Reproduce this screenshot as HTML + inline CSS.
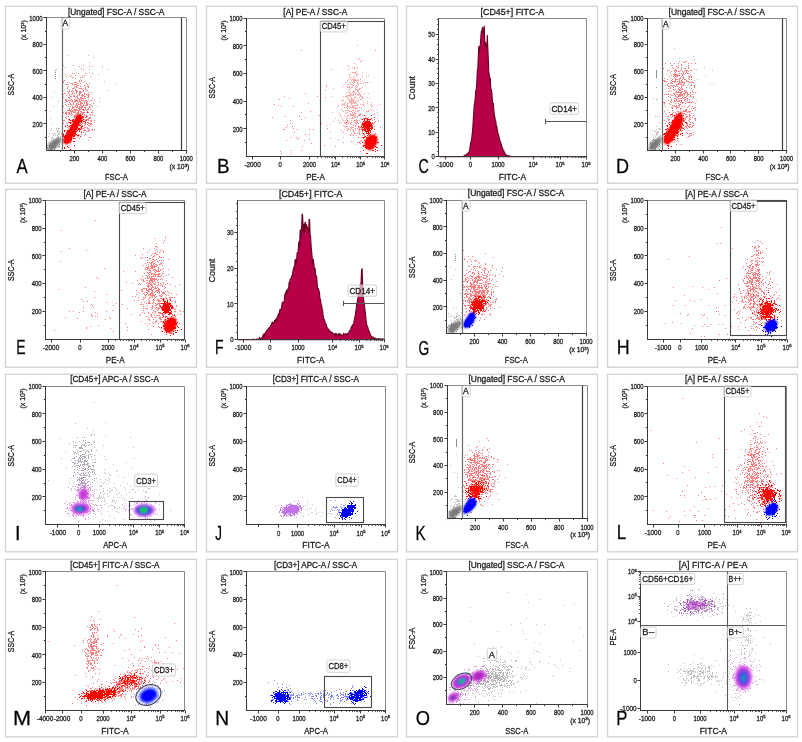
<!DOCTYPE html><html><head><meta charset="utf-8"><style>html,body{margin:0;padding:0;background:#fff;width:802px;height:742px;overflow:hidden}svg{display:block}</style></head><body><svg width="802" height="742" viewBox="0 0 802 742" font-family="Liberation Sans, Arial, sans-serif" fill="#1a1a1a"><style>text{stroke:#1a1a1a;stroke-width:.28px}</style><defs><filter id="bl06" filterUnits="userSpaceOnUse" x="0" y="0" width="802" height="742"><feGaussianBlur stdDeviation="0.8"/></filter><filter id="bl05" filterUnits="userSpaceOnUse" x="0" y="0" width="802" height="742"><feGaussianBlur stdDeviation="0.8"/></filter><filter id="bl04" filterUnits="userSpaceOnUse" x="0" y="0" width="802" height="742"><feGaussianBlur stdDeviation="0.4"/></filter></defs><rect x="5.5" y="6.3" width="191" height="177" fill="none" stroke="#d4d4d4" stroke-width="1.4"/><rect x="206.5" y="6.3" width="191" height="177" fill="none" stroke="#d4d4d4" stroke-width="1.4"/><rect x="406.5" y="6.3" width="191" height="177" fill="none" stroke="#d4d4d4" stroke-width="1.4"/><rect x="607.5" y="6.3" width="190" height="177" fill="none" stroke="#d4d4d4" stroke-width="1.4"/><rect x="5.5" y="189.3" width="191" height="178" fill="none" stroke="#d4d4d4" stroke-width="1.4"/><rect x="206.5" y="189.3" width="191" height="178" fill="none" stroke="#d4d4d4" stroke-width="1.4"/><rect x="406.5" y="189.3" width="191" height="178" fill="none" stroke="#d4d4d4" stroke-width="1.4"/><rect x="607.5" y="189.3" width="190" height="178" fill="none" stroke="#d4d4d4" stroke-width="1.4"/><rect x="5.5" y="374.3" width="191" height="177.5" fill="none" stroke="#d4d4d4" stroke-width="1.4"/><rect x="206.5" y="374.3" width="191" height="177.5" fill="none" stroke="#d4d4d4" stroke-width="1.4"/><rect x="406.5" y="374.3" width="191" height="177.5" fill="none" stroke="#d4d4d4" stroke-width="1.4"/><rect x="607.5" y="374.3" width="190" height="177.5" fill="none" stroke="#d4d4d4" stroke-width="1.4"/><rect x="5.5" y="559.3" width="191" height="177.5" fill="none" stroke="#d4d4d4" stroke-width="1.4"/><rect x="206.5" y="559.3" width="191" height="177.5" fill="none" stroke="#d4d4d4" stroke-width="1.4"/><rect x="406.5" y="559.3" width="191" height="177.5" fill="none" stroke="#d4d4d4" stroke-width="1.4"/><rect x="607.5" y="559.3" width="190" height="177.5" fill="none" stroke="#d4d4d4" stroke-width="1.4"/><path d="M73 65h1m9 0h1m-5 1h1m9 0h1m2 0h1m-28 1h1m15 1h1m1 1h1m-12 4h1m1 0h1m3 0h1m6 0h1m6 0h1m-28 1h1m5 1h1m3 0h1m8 0h1m-19 1h1m3 0h1m11 0h1m7 0h1m-18 1h1m6 0h1m1 0h1m-19 3h1m14 0h1m1 0h1m-19 1h1m15 0h1m1 0h1m2 0h1m-22 1h1m3 0h1m6 0h3m-7 1h1m1 0h1m4 0h1m2 0h1m5 0h1m2 0h1m-24 1h2m4 0h1m1 0h3m10 0h1m-11 1h2m5 0h1m-17 1h1m6 0h2m3 0h1m3 0h1m2 0h2m-22 1h1m6 0h1m1 0h1m8 0h1m2 0h1m-22 1h1m4 0h2m5 0h3m3 0h1m-4 1h1m2 0h1m-17 1h1m2 0h1m2 0h2m6 0h1m2 0h2m-21 1h1m1 0h1m1 0h1m1 0h1m2 0h2m1 0h2m2 0h1m-16 1h1m3 0h1m3 0h1m2 0h3m6 0h1m2 0h1m-28 1h2m2 0h1m3 0h1m1 0h1m1 0h1m2 0h2m3 0h1m-22 1h1m5 0h1m1 0h1m1 0h1m5 0h1m2 0h1m1 0h1m1 0h1m1 0h2m-24 1h1m2 0h1m4 0h1m2 0h1m1 0h1m1 0h3m3 0h2m-19 1h2m1 0h2m1 0h1m5 0h1m1 0h2m2 0h1m-26 1h1m4 0h2m5 0h1m1 0h1m2 0h2m5 0h2m-20 1h1m7 0h2m1 0h6m6 0h1m-28 1h2m4 0h1m2 0h1m1 0h1m2 0h1m1 0h1m6 0h1m-24 1h2m1 0h3m1 0h1m2 0h3m1 0h1m1 0h3m1 0h2m3 0h2m2 0h1m-29 1h2m3 0h2m1 0h4m1 0h2m3 0h1m1 0h2m-23 1h1m3 0h1m3 0h1m4 0h1m1 0h2m2 0h1m1 0h1m-17 1h1m2 0h1m2 0h2m2 0h3m1 0h1m1 0h2m5 0h1m-29 1h1m2 0h1m1 0h2m1 0h1m2 0h1m1 0h3m2 0h1m2 0h2m1 0h2m-25 1h1m8 0h3m2 0h2m1 0h1m1 0h2m4 0h1m-29 1h1m4 0h1m1 0h1m1 0h1m2 0h1m1 0h1m1 0h1m1 0h2m6 0h1m2 0h1m-21 1h3m1 0h2m1 0h4m1 0h2m3 0h2m-22 1h1m2 0h1m5 0h2m1 0h1m3 0h1m2 0h1m-20 1h1m1 0h1m1 0h4m2 0h2m1 0h2m1 0h1m1 0h2m1 0h1m-24 1h4m1 0h1m1 0h6m3 0h2m1 0h1m5 0h1m-23 1h4m1 0h1m2 0h1m1 0h2m5 0h1m-25 1h1m1 0h2m1 0h2m1 0h1m1 0h3m1 0h2m2 0h4m3 0h1m2 0h2m-28 1h2m1 0h2m1 0h1m4 0h3m1 0h1m1 0h2m-18 1h1m2 0h2m1 0h1m2 0h1m1 0h4m1 0h1m1 0h1m5 0h1m1 0h1m-22 1h1m2 0h4m1 0h1m1 0h1m2 0h1m1 0h1m3 0h1m3 0h1m-29 1h1m1 0h1m4 0h4m2 0h2m1 0h2m3 0h1m-23 1h1m8 0h1m4 0h1m1 0h2m2 0h2m2 0h2m-25 1h1m9 0h1m1 0h3m1 0h1m5 0h3m-23 1h1m3 0h1m8 0h1m1 0h2m1 0h3m-26 1h2m4 0h1m1 0h3m4 0h2m5 0h2m1 0h1m1 0h2m2 0h1m-23 1h1m1 0h2m1 0h2m1 0h2m1 0h3m5 0h1m-26 1h1m1 0h1m2 0h1m3 0h1m2 0h1m2 0h2m4 0h2m5 0h1m-32 1h1m3 0h1m5 0h2m3 0h1m1 0h1m1 0h1m1 0h2m2 0h4m-20 1h2m1 0h2m1 0h2m1 0h1m3 0h1m1 0h1m2 0h2m-27 1h1m11 0h1m2 0h1m1 0h1m1 0h1m3 0h2m-22 1h1m4 0h5m4 0h1m7 0h1m-24 1h1m2 0h1m6 0h1m2 0h1m3 0h2m1 0h1m-18 1h1m6 0h1m2 0h4m3 0h2m-15 1h1m3 0h1m2 0h1m2 0h1m4 0h1m2 0h1m1 0h1m-30 1h1m2 0h1m6 0h1m1 0h1m1 0h1m3 0h3m2 0h2m2 0h1m-29 1h1m8 0h1m7 0h1m5 0h2m-15 1h1m8 0h1m-21 1h1m4 0h1m3 0h1m1 0h1m10 0h1m-16 1h1m3 0h1m3 0h1m2 0h1m3 0h1m-12 1h2m3 0h1m4 0h1m-7 1h1m1 0h1m-4 1h1m11 0h2m-16 1h1m3 0h1m-9 2h1m16 0h1" stroke="#ff3030" stroke-opacity="0.62" transform="translate(0 .5)"/><path d="M67 55h1m20 0h1m4 2h1m-5 5h1m-27 3h1m38 1h1m-1 1h1m-28 2h1m13 0h1m17 0h1m-32 3h1m12 0h1m8 2h1m-27 3h1m2 1h1m4 1h1m23 2h1m-34 2h1m44 0h1m-53 1h1m9 1h1m13 0h1m-15 2h1m2 0h1m-4 1h1m8 0h1m-20 1h1m10 0h1m31 1h1m-28 1h1m-11 5h1m6 0h1m21 2h1m-11 3h1m9 0h1m-14 2h1m-3 2h1m2 0h1m9 1h1m-11 10h1" stroke="#9a9a9a" stroke-opacity="0.62" transform="translate(0 .5)"/><path d="M83 109h1m3 3h1m-8 3h1m1 1h1m3 0h1m-11 1h1m6 0h1m-5 1h2m-12 1h1m3 0h1m3 0h1m5 0h1m-14 1h1m1 0h1m8 0h2m3 0h1m-15 1h2m5 0h3m1 0h2m-16 1h2m4 0h1m2 0h1m2 0h1m3 0h1m-16 1h1m2 0h2m1 0h2m-6 1h3m1 0h1m1 0h1m-12 1h1m2 0h3m6 0h2m-16 1h1m3 0h1m1 0h6m4 0h2m-13 1h2m3 0h3m3 0h1m-12 1h2m1 0h3m2 0h2m-10 1h5m1 0h1m1 0h3m-17 1h1m2 0h5m1 0h2m2 0h1m-14 1h1m2 0h1m1 0h8m2 0h1m-14 1h1m1 0h2m1 0h1m1 0h3m5 0h1m-15 1h1m1 0h7m-13 1h1m3 0h1m1 0h1m1 0h1m3 0h2m-14 1h1m1 0h1m1 0h2m1 0h5m2 0h2m-16 1h4m1 0h3m2 0h2m5 0h1m-17 1h1m1 0h1m2 0h1m1 0h1m-1 1h1m1 0h2m-12 1h1m2 0h6m-5 1h1m1 0h1m1 0h1m-9 1h1m6 0h1m2 0h2m-11 1h1m3 0h1m1 0h1m3 3h1m-8 1h1m-4 1h1m3 0h1m-5 1h1m5 1h1" stroke="#ff0000" transform="translate(0 .5)"/><path d="M63.3 142.3L65.5 144.2L68.7 143.9L73.3 136.1L78.0 126.8L82.6 117.5L80.6 114.1L77.2 115.2L73.3 122.2L68.7 129.9L64.8 136.1Z" fill="#ff0000" filter="url(#bl05)"/><path d="M63.8 141.7L65.8 143.5L68.9 143.1L73.2 135.3L77.3 127.2L82.1 118.1L80.2 114.8L76.9 116.0L73.2 123.0L69.5 129.9L65.4 135.6Z" fill="#ff0000"/><path d="M56 69h1m2 7h1m-6 16h1m-4 5h1m6 4h1m-6 5h1m-4 5h1m-1 7h1m1 5h1m-2 5h1m4 0h1m1 0h2m-4 1h1m1 0h1m-8 1h1m5 0h1m-1 1h3m-1 1h1m-11 1h1m2 0h1m1 0h2m2 0h1m2 0h1m-9 1h1m4 0h2m1 0h1m-9 1h1m1 0h1m1 0h1m-10 1h1m9 0h1m1 0h1m-9 1h1m4 0h2m1 0h1m-10 1h1m4 0h1m1 0h1m1 0h1m-8 1h1m2 0h1m3 0h1m-8 1h1m2 0h2m-3 1h1m-1 1h1m2 0h1m-5 5h1" stroke="#9a9a9a" stroke-opacity="0.62" transform="translate(0 .5)"/><path d="M52 137h1m2 4h2m-4 1h2m2 0h1m-6 1h1m1 0h2m-6 1h3m1 0h2m3 0h1m-13 1h1m1 0h1m1 0h3m-5 1h7m2 0h2m-13 1h1m1 0h1m2 0h2m1 0h1m-9 1h1m2 0h1m1 0h1m1 0h1m-7 1h1m1 0h3m1 0h1m-2 1h1" stroke="#8c8c8c" transform="translate(0 .5)"/><path d="M48.0 150.0L48.5 143.5L53.0 140.0L58.5 137.5L61.0 138.0L61.0 142.0L56.5 147.5L52.5 150.0Z" fill="#787878" fill-opacity="0.95" filter="url(#bl06)"/><line x1="46.5" y1="17.5" x2="186.5" y2="17.5" stroke="#8a8a8a" stroke-width="1"/><line x1="186.5" y1="17.5" x2="186.5" y2="150.5" stroke="#8a8a8a" stroke-width="1"/><line x1="46.5" y1="17" x2="46.5" y2="151" stroke="#3a3a3a" stroke-width="1"/><line x1="46" y1="150.5" x2="187" y2="150.5" stroke="#3a3a3a" stroke-width="1"/><line x1="44.9" y1="137.5" x2="46.5" y2="137.5" stroke="#3a3a3a" stroke-width="1"/><line x1="43.5" y1="123.5" x2="46.5" y2="123.5" stroke="#3a3a3a" stroke-width="1"/><text transform="translate(42.50 126.76) translate(-9.90 0) scale(0.848 1)" font-size="7.0">200</text><line x1="44.9" y1="110.5" x2="46.5" y2="110.5" stroke="#3a3a3a" stroke-width="1"/><line x1="43.5" y1="97.5" x2="46.5" y2="97.5" stroke="#3a3a3a" stroke-width="1"/><text transform="translate(42.50 100.22) translate(-9.90 0) scale(0.848 1)" font-size="7.0">400</text><line x1="44.9" y1="84.5" x2="46.5" y2="84.5" stroke="#3a3a3a" stroke-width="1"/><line x1="43.5" y1="70.5" x2="46.5" y2="70.5" stroke="#3a3a3a" stroke-width="1"/><text transform="translate(42.50 73.68) translate(-9.90 0) scale(0.848 1)" font-size="7.0">600</text><line x1="44.9" y1="57.5" x2="46.5" y2="57.5" stroke="#3a3a3a" stroke-width="1"/><line x1="43.5" y1="44.5" x2="46.5" y2="44.5" stroke="#3a3a3a" stroke-width="1"/><text transform="translate(42.50 47.14) translate(-9.90 0) scale(0.848 1)" font-size="7.0">800</text><line x1="44.9" y1="31.5" x2="46.5" y2="31.5" stroke="#3a3a3a" stroke-width="1"/><line x1="43.5" y1="17.5" x2="46.5" y2="17.5" stroke="#3a3a3a" stroke-width="1"/><text transform="translate(42.50 20.60) translate(-13.20 0) scale(0.848 1)" font-size="7.0">1000</text><text x="25.9" y="30.3" font-size="7" text-anchor="middle" transform="rotate(-90 25.9 30.3)">(x 10<tspan font-size="4" dy="-2.2">3</tspan><tspan dy="2.2">)</tspan></text><line x1="60.5" y1="150.5" x2="60.5" y2="152.1" stroke="#3a3a3a" stroke-width="1"/><line x1="74.5" y1="150.5" x2="74.5" y2="153.5" stroke="#3a3a3a" stroke-width="1"/><text transform="translate(74.46 161.30) translate(-4.95 0) scale(0.848 1)" font-size="7.0">200</text><line x1="88.5" y1="150.5" x2="88.5" y2="152.1" stroke="#3a3a3a" stroke-width="1"/><line x1="102.5" y1="150.5" x2="102.5" y2="153.5" stroke="#3a3a3a" stroke-width="1"/><text transform="translate(102.42 161.30) translate(-4.95 0) scale(0.848 1)" font-size="7.0">400</text><line x1="116.5" y1="150.5" x2="116.5" y2="152.1" stroke="#3a3a3a" stroke-width="1"/><line x1="130.5" y1="150.5" x2="130.5" y2="153.5" stroke="#3a3a3a" stroke-width="1"/><text transform="translate(130.38 161.30) translate(-4.95 0) scale(0.848 1)" font-size="7.0">600</text><line x1="144.5" y1="150.5" x2="144.5" y2="152.1" stroke="#3a3a3a" stroke-width="1"/><line x1="158.5" y1="150.5" x2="158.5" y2="153.5" stroke="#3a3a3a" stroke-width="1"/><text transform="translate(158.34 161.30) translate(-4.95 0) scale(0.848 1)" font-size="7.0">800</text><line x1="172.5" y1="150.5" x2="172.5" y2="152.1" stroke="#3a3a3a" stroke-width="1"/><line x1="186.5" y1="150.5" x2="186.5" y2="153.5" stroke="#3a3a3a" stroke-width="1"/><text transform="translate(186.30 161.30) translate(-6.60 0) scale(0.848 1)" font-size="7.0">1000</text><text x="189.3" y="169" font-size="6.8" text-anchor="end">(x 10<tspan font-size="4.3" dy="-2.4">3</tspan><tspan dy="2.4">)</tspan></text><line x1="62.5" y1="17.5" x2="62.5" y2="150.5" stroke="#6a6a6a" stroke-width="1.2"/><rect x="61.1" y="18.2" width="8.6" height="10.8" fill="#fff" fill-opacity="0.6" stroke="#c8c8c8" stroke-width="0.8" rx="1.5"/><text transform="translate(62.60 26.40) translate(0.00 0) scale(1.000 1)" font-size="8.4">A</text><line x1="181.5" y1="17.5" x2="181.5" y2="150.5" stroke="#3a3a3a" stroke-width="1.2"/><text transform="translate(116.40 14.80) translate(-48.50 0) scale(1.004 1)" font-size="8.4">[Ungated] FSC-A / SSC-A</text><text transform="translate(14.30 84.65) rotate(-90) translate(-10.75 0) scale(0.733 1)" font-size="9.6">SSC-A</text><text transform="translate(116.40 180.00) translate(-11.50 0) scale(0.816 1)" font-size="9.4">FSC-A</text><text transform="translate(16.47 173.1) scale(0.845 1)" font-size="19.8" fill="#000" stroke="#000" stroke-width=".75">A</text><path d="M685 61h2m-4 1h2m-20 1h1m4 0h1m3 0h1m3 0h1m9 0h1m2 0h1m3 0h1m-15 1h1m-11 1h2m5 0h1m2 0h1m6 0h1m-13 1h1m-5 1h1m4 0h2m9 0h1m-26 1h1m9 0h1m7 0h1m2 0h2m2 0h1m-14 1h1m5 0h1m12 0h1m-28 1h1m1 0h1m4 0h3m3 0h1m4 0h3m2 0h2m-21 1h1m2 0h1m1 0h1m1 0h2m2 0h1m1 0h1m1 0h1m1 0h1m-14 1h1m7 0h1m2 0h1m-17 1h1m3 0h1m4 0h1m1 0h1m1 0h1m1 0h1m1 0h2m-16 1h5m4 0h2m-13 1h1m2 0h6m2 0h1m7 0h1m-22 1h1m3 0h1m1 0h3m3 0h1m6 0h2m1 0h1m-18 1h1m5 0h1m1 0h2m5 0h1m1 0h1m-28 1h1m5 0h1m4 0h1m3 0h2m2 0h1m4 0h1m-22 1h1m4 0h1m2 0h3m1 0h1m2 0h1m1 0h2m3 0h1m1 0h1m-29 1h2m6 0h1m3 0h1m3 0h1m1 0h1m4 0h1m-23 1h3m5 0h4m1 0h1m1 0h1m1 0h2m3 0h3m2 0h1m-21 1h1m2 0h1m4 0h2m1 0h3m4 0h2m1 0h2m-26 1h1m1 0h3m5 0h2m1 0h1m2 0h1m-18 1h1m8 0h3m1 0h2m1 0h1m-17 1h1m2 0h2m1 0h2m1 0h1m5 0h2m6 0h2m2 0h1m-27 1h2m2 0h1m2 0h1m1 0h1m3 0h1m12 0h1m-25 1h1m2 0h1m5 0h1m1 0h1m4 0h1m7 0h1m-27 1h1m1 0h1m7 0h1m1 0h1m1 0h1m8 0h1m-19 1h1m1 0h1m2 0h2m1 0h2m-14 1h1m4 0h1m4 0h2m3 0h2m6 0h1m-25 1h1m2 0h1m4 0h1m1 0h1m2 0h2m1 0h1m7 0h1m-18 1h7m3 0h3m2 0h1m2 0h1m1 0h1m-23 1h2m5 0h1m2 0h3m1 0h1m2 0h1m-27 1h1m1 0h3m1 0h1m3 0h1m1 0h2m1 0h4m1 0h1m2 0h3m2 0h1m-22 1h2m2 0h1m2 0h5m1 0h1m2 0h1m2 0h1m-23 1h1m6 0h2m1 0h3m2 0h1m2 0h1m3 0h2m1 0h1m-24 1h1m6 0h1m4 0h1m1 0h2m7 0h1m-20 1h3m1 0h1m1 0h2m1 0h1m2 0h2m4 0h1m-22 1h1m4 0h1m1 0h1m5 0h2m3 0h1m-22 1h1m2 0h1m2 0h1m1 0h1m2 0h3m2 0h1m2 0h1m-18 1h1m3 0h2m1 0h3m1 0h1m3 0h1m3 0h1m2 0h1m-30 1h2m6 0h1m8 0h4m3 0h5m1 0h1m-30 1h1m4 0h1m5 0h1m2 0h1m3 0h1m2 0h1m9 0h1m-26 1h1m8 0h2m-9 1h1m1 0h1m1 0h1m1 0h2m9 0h1m-25 1h1m7 0h1m1 0h2m2 0h1m2 0h1m1 0h1m3 0h1m3 0h1m-22 1h2m3 0h3m8 0h1m7 0h1m-24 1h1m3 0h1m3 0h2m9 0h1m1 0h2m-15 1h1m4 0h2m-20 1h1m4 0h1m10 0h1m1 0h2m5 0h1m2 0h1m-32 1h1m12 0h2m2 0h1m1 0h4m1 0h3m-22 1h1m3 0h1m1 0h1m4 0h2m5 0h1m1 0h1m-18 1h1m3 0h1m2 0h1m1 0h4m6 0h1m-26 1h1m3 0h1m1 0h1m3 0h1m2 0h1m5 0h2m2 0h1m-20 1h1m1 0h2m1 0h1m2 0h4m7 0h2m2 0h1m-29 1h1m1 0h2m3 0h1m1 0h1m3 0h1m3 0h1m3 0h2m1 0h1m-19 1h1m2 0h1m2 0h1m8 0h1m3 0h1m1 0h1m-26 1h1m6 0h1m2 0h2m1 0h1m1 0h1m1 0h2m3 0h1m4 0h2m-28 1h2m4 0h1m3 0h1m1 0h1m1 0h2m1 0h1m3 0h2m4 0h1m-32 1h1m3 0h1m3 0h3m2 0h2m1 0h1m3 0h1m3 0h1m6 0h1m-30 1h1m5 0h1m1 0h1m4 0h1m1 0h4m4 0h1m-18 1h1m7 0h1m9 0h1m1 0h1m-28 1h1m2 0h1m3 0h1m2 0h1m2 0h1m7 0h2m5 0h1m-25 1h1m2 0h1m1 0h1m2 0h1m9 0h1m1 0h2m-25 1h1m3 0h2m2 0h1m2 0h1m1 0h1m1 0h1m1 0h1m2 0h2m4 0h2m-20 1h1m5 0h1m4 0h2m1 0h3m1 0h1m-24 1h1m1 0h1m4 0h1m3 0h3m1 0h1m1 0h1m2 0h1m1 0h1m-20 1h2m6 0h4m3 0h1m-4 1h1m-18 1h1m1 0h1m7 0h1m2 0h1m1 0h1m6 0h1m-24 1h1m5 0h1m4 0h1m3 0h1m-16 1h1m5 0h1m3 0h1m9 0h1m6 0h1m-24 1h1m3 0h1m5 0h2m5 0h1m1 0h3m-22 1h1m7 0h1m10 0h1m3 0h1m-21 1h1m1 0h2m13 0h2m-4 1h2m-18 1h1m13 0h1m-20 1h1m10 0h1m-4 2h1m1 0h1m0 1h1m-5 1h1m1 2h1m4 0h1" stroke="#ff3030" stroke-opacity="0.62" transform="translate(0 .5)"/><path d="M674 48h1m18 8h1m-15 2h1m14 1h1m-16 2h1m8 5h1m-8 1h1m22 0h1m-9 2h1m15 1h1m-19 3h1m-28 1h1m37 2h1m-39 3h1m29 0h1m-4 1h1m-17 1h1m2 1h1m2 0h1m6 1h1m18 0h1m-23 1h1m2 0h1m21 0h1m-49 1h1m21 0h1m6 1h1m-22 1h1m15 0h1m-5 3h1m-1 1h2m10 1h1m-17 1h1m11 4h1m-7 2h1m8 1h1m-8 1h1m0 1h1m-27 2h1" stroke="#9a9a9a" stroke-opacity="0.62" transform="translate(0 .5)"/><path d="M55 70h1m-1 2h1m-1 2h1m-1 2h1m-1 2h1" stroke="#8c8c8c" transform="translate(0 .5)"/><path d="M671 114h1m2 1h1m8 0h1m-9 2h1m4 0h1m-5 1h1m2 0h1m1 0h1m1 0h1m-7 1h2m-7 1h1m5 0h1m4 0h1m-12 1h2m2 0h3m1 0h1m-12 1h1m1 0h1m4 0h3m2 0h1m3 0h2m-12 1h1m1 0h2m3 0h1m3 0h1m-18 1h1m5 0h2m1 0h2m2 0h1m-16 1h1m3 0h1m1 0h1m1 0h1m1 0h1m5 0h1m-17 1h1m2 0h1m3 0h3m1 0h1m2 0h1m-10 1h5m4 0h1m-15 1h1m4 0h2m1 0h2m6 0h1m-19 1h2m1 0h1m1 0h2m1 0h6m1 0h1m-12 1h1m1 0h5m4 0h1m-12 1h1m1 0h6m1 0h1m-13 1h13m-15 1h2m3 0h1m2 0h1m2 0h3m4 0h1m-20 1h2m1 0h2m1 0h4m1 0h1m3 0h1m1 0h1m-16 1h1m1 0h1m2 0h2m2 0h1m2 0h1m4 0h1m-19 1h1m2 0h2m3 0h2m3 0h1m-13 1h1m4 0h3m1 0h1m-11 1h2m1 0h1m1 0h2m1 0h1m4 0h1m-12 1h1m3 0h1m2 0h2m-11 1h1m1 0h1m3 0h1m1 0h1m-8 1h1m4 0h1m-4 1h2m-2 3h2m-1 1h1m2 0h1m-4 2h1" stroke="#ff0000" transform="translate(0 .5)"/><path d="M663.9 143.0L667.7 144.9L672.7 140.5L676.5 134.2L680.3 128.4L682.9 120.8L682.2 114.5L680.3 112.0L676.5 115.1L672.7 121.5L668.9 129.1L665.1 134.8L663.6 139.2Z" fill="#ff0000" filter="url(#bl05)"/><path d="M664.3 142.3L668.0 144.1L672.7 139.7L676.1 133.5L679.5 128.5L682.3 121.3L681.8 115.2L680.0 112.7L676.3 115.9L672.8 122.3L669.7 129.1L665.8 134.3L664.2 138.6Z" fill="#ff0000"/><path d="M656 87h1m-4 11h1m2 1h2m-3 17h1m1 0h1m1 0h1m-1 6h1m-4 4h1m5 0h1m-5 2h2m-4 1h1m2 0h2m-9 1h1m1 1h2m1 0h1m-2 1h3m-3 1h2m4 0h1m-11 1h1m3 0h1m1 0h1m-5 1h1m1 0h1m3 0h1m-6 1h1m3 0h2m-8 1h1m4 0h2m1 0h1m-3 1h1m1 0h1m-7 1h2m1 0h1m2 0h1m-7 1h3m-3 1h1m4 0h1m-4 1h1m1 2h1" stroke="#9a9a9a" stroke-opacity="0.62" transform="translate(0 .5)"/><path d="M653 137h1m-1 2h1m-2 1h1m1 0h1m1 0h1m-2 1h2m-6 1h1m3 0h1m1 0h1m-8 1h1m2 0h3m2 0h1m-8 1h1m1 0h3m1 0h1m1 0h1m-9 1h2m2 0h1m-6 1h5m1 0h1m2 0h1m-10 1h2m1 0h1m1 0h1m4 0h1m-13 1h1m1 0h1m1 0h2m1 0h1m2 0h1m-8 1h1m2 0h2m3 0h1" stroke="#8c8c8c" transform="translate(0 .5)"/><path d="M649.1 149.9L649.6 143.4L654.1 139.9L658.9 137.4L661.4 137.9L661.4 141.9L657.6 147.4L653.6 149.9Z" fill="#787878" fill-opacity="0.95" filter="url(#bl06)"/><line x1="647.5" y1="18.5" x2="786.5" y2="18.5" stroke="#8a8a8a" stroke-width="1"/><line x1="786.5" y1="18.5" x2="786.5" y2="150.5" stroke="#8a8a8a" stroke-width="1"/><line x1="647.5" y1="18" x2="647.5" y2="151" stroke="#3a3a3a" stroke-width="1"/><line x1="647" y1="150.5" x2="787" y2="150.5" stroke="#3a3a3a" stroke-width="1"/><line x1="645.9" y1="137.5" x2="647.5" y2="137.5" stroke="#3a3a3a" stroke-width="1"/><line x1="644.5" y1="123.5" x2="647.5" y2="123.5" stroke="#3a3a3a" stroke-width="1"/><text transform="translate(643.60 126.72) translate(-9.90 0) scale(0.848 1)" font-size="7.0">200</text><line x1="645.9" y1="110.5" x2="647.5" y2="110.5" stroke="#3a3a3a" stroke-width="1"/><line x1="644.5" y1="97.5" x2="647.5" y2="97.5" stroke="#3a3a3a" stroke-width="1"/><text transform="translate(643.60 100.24) translate(-9.90 0) scale(0.848 1)" font-size="7.0">400</text><line x1="645.9" y1="84.5" x2="647.5" y2="84.5" stroke="#3a3a3a" stroke-width="1"/><line x1="644.5" y1="70.5" x2="647.5" y2="70.5" stroke="#3a3a3a" stroke-width="1"/><text transform="translate(643.60 73.76) translate(-9.90 0) scale(0.848 1)" font-size="7.0">600</text><line x1="645.9" y1="57.5" x2="647.5" y2="57.5" stroke="#3a3a3a" stroke-width="1"/><line x1="644.5" y1="44.5" x2="647.5" y2="44.5" stroke="#3a3a3a" stroke-width="1"/><text transform="translate(643.60 47.28) translate(-9.90 0) scale(0.848 1)" font-size="7.0">800</text><line x1="645.9" y1="31.5" x2="647.5" y2="31.5" stroke="#3a3a3a" stroke-width="1"/><line x1="644.5" y1="18.5" x2="647.5" y2="18.5" stroke="#3a3a3a" stroke-width="1"/><text transform="translate(643.60 20.80) translate(-13.20 0) scale(0.848 1)" font-size="7.0">1000</text><text x="627" y="30.5" font-size="7" text-anchor="middle" transform="rotate(-90 627 30.5)">(x 10<tspan font-size="4" dy="-2.2">3</tspan><tspan dy="2.2">)</tspan></text><line x1="661.5" y1="150.5" x2="661.5" y2="152.1" stroke="#3a3a3a" stroke-width="1"/><line x1="675.5" y1="150.5" x2="675.5" y2="153.5" stroke="#3a3a3a" stroke-width="1"/><text transform="translate(675.38 161.20) translate(-4.95 0) scale(0.848 1)" font-size="7.0">200</text><line x1="689.5" y1="150.5" x2="689.5" y2="152.1" stroke="#3a3a3a" stroke-width="1"/><line x1="703.5" y1="150.5" x2="703.5" y2="153.5" stroke="#3a3a3a" stroke-width="1"/><text transform="translate(703.16 161.20) translate(-4.95 0) scale(0.848 1)" font-size="7.0">400</text><line x1="717.5" y1="150.5" x2="717.5" y2="152.1" stroke="#3a3a3a" stroke-width="1"/><line x1="730.5" y1="150.5" x2="730.5" y2="153.5" stroke="#3a3a3a" stroke-width="1"/><text transform="translate(730.94 161.20) translate(-4.95 0) scale(0.848 1)" font-size="7.0">600</text><line x1="744.5" y1="150.5" x2="744.5" y2="152.1" stroke="#3a3a3a" stroke-width="1"/><line x1="758.5" y1="150.5" x2="758.5" y2="153.5" stroke="#3a3a3a" stroke-width="1"/><text transform="translate(758.72 161.20) translate(-4.95 0) scale(0.848 1)" font-size="7.0">800</text><line x1="772.5" y1="150.5" x2="772.5" y2="152.1" stroke="#3a3a3a" stroke-width="1"/><line x1="786.5" y1="150.5" x2="786.5" y2="153.5" stroke="#3a3a3a" stroke-width="1"/><text transform="translate(786.50 161.20) translate(-6.60 0) scale(0.848 1)" font-size="7.0">1000</text><text x="789.5" y="168.9" font-size="6.8" text-anchor="end">(x 10<tspan font-size="4.3" dy="-2.4">3</tspan><tspan dy="2.4">)</tspan></text><line x1="662.5" y1="18.5" x2="662.5" y2="150.5" stroke="#6a6a6a" stroke-width="1.2"/><rect x="661.5" y="18.4" width="8.6" height="10.8" fill="#fff" fill-opacity="0.6" stroke="#c8c8c8" stroke-width="0.8" rx="1.5"/><text transform="translate(663.00 26.60) translate(0.00 0) scale(1.000 1)" font-size="8.4">A</text><line x1="782.5" y1="18.5" x2="782.5" y2="150.5" stroke="#3a3a3a" stroke-width="1.2"/><text transform="translate(717.05 15.00) translate(-48.50 0) scale(1.004 1)" font-size="8.4">[Ungated] FSC-A / SSC-A</text><text transform="translate(616.30 84.70) rotate(-90) translate(-10.75 0) scale(0.733 1)" font-size="9.6">SSC-A</text><text transform="translate(717.05 179.90) translate(-11.50 0) scale(0.816 1)" font-size="9.4">FSC-A</text><text transform="translate(616.02 173.3) scale(0.912 1)" font-size="19.8" fill="#000" stroke="#000" stroke-width=".75">D</text><path d="M463 250h1m21 3h1m-18 3h1m3 0h1m20 1h1m-30 1h1m-1 1h1m5 0h1m3 1h1m1 0h1m-10 1h1m3 0h1m3 0h1m2 1h1m0 1h1m5 0h1m-15 1h1m13 0h1m-6 1h1m11 0h1m-25 1h2m3 0h3m1 0h1m1 0h1m-7 1h1m5 0h2m3 0h1m7 0h1m9 0h1m-29 1h1m9 0h2m-15 1h1m1 0h1m8 0h1m2 0h1m10 0h1m-31 1h1m8 0h1m7 0h2m5 0h1m-22 1h2m7 0h1m5 0h1m3 0h1m12 0h1m-34 1h1m3 0h2m4 0h1m2 0h1m2 0h1m3 0h1m-23 1h1m5 0h1m1 0h1m3 0h1m6 0h1m-12 1h1m4 0h1m2 0h1m4 0h1m2 0h1m8 0h1m-36 1h2m4 0h1m2 0h1m4 0h1m4 0h2m1 0h1m2 0h1m2 0h1m2 0h1m-27 1h1m1 0h2m3 0h4m1 0h1m4 0h2m7 0h1m7 0h1m-38 1h2m4 0h1m2 0h6m2 0h1m-19 1h1m2 0h2m1 0h1m2 0h3m2 0h1m3 0h4m2 0h1m-25 1h2m5 0h1m2 0h1m1 0h2m1 0h2m5 0h1m1 0h1m2 0h1m-28 1h1m2 0h1m1 0h1m1 0h1m1 0h2m1 0h4m1 0h1m3 0h1m4 0h1m-29 1h2m1 0h2m5 0h5m7 0h1m1 0h1m1 0h1m6 0h1m-30 1h1m2 0h1m2 0h2m1 0h2m5 0h1m1 0h2m-17 1h2m1 0h1m3 0h1m1 0h3m5 0h4m-21 1h3m1 0h1m1 0h1m6 0h1m1 0h2m1 0h1m4 0h1m-31 1h1m3 0h1m2 0h2m1 0h3m1 0h3m1 0h1m2 0h1m1 0h1m-23 1h1m1 0h1m1 0h8m2 0h2m1 0h1m2 0h3m1 0h1m1 0h1m4 0h1m1 0h1m-35 1h2m2 0h1m3 0h5m1 0h6m2 0h1m2 0h1m3 0h1m-25 1h1m2 0h1m1 0h2m2 0h1m1 0h1m1 0h2m2 0h3m-25 1h1m2 0h1m1 0h3m2 0h6m4 0h1m2 0h1m4 0h1m-26 1h1m3 0h1m3 0h2m3 0h2m1 0h4m1 0h2m-24 1h1m1 0h1m2 0h15m2 0h2m2 0h1m1 0h1m-22 1h1m2 0h5m1 0h4m1 0h2m3 0h1m1 0h1m-29 1h3m1 0h2m2 0h1m1 0h2m1 0h2m1 0h2m1 0h1m2 0h1m3 0h1m-28 1h2m1 0h2m1 0h2m2 0h3m1 0h1m1 0h1m1 0h3m1 0h1m2 0h1m1 0h1m-26 1h1m3 0h11m1 0h4m5 0h1m-26 1h2m2 0h2m2 0h8m2 0h2m2 0h2m3 0h1m-30 1h1m1 0h1m2 0h1m3 0h1m1 0h2m2 0h7m1 0h1m1 0h2m-23 1h3m1 0h1m1 0h1m2 0h2m2 0h4m11 0h1m-29 1h1m1 0h2m1 0h2m1 0h1m1 0h1m4 0h2m1 0h1m8 0h2m-34 1h1m1 0h1m1 0h3m1 0h1m1 0h4m1 0h2m1 0h2m1 0h2m1 0h1m-23 1h1m1 0h1m1 0h4m4 0h1m2 0h1m1 0h3m1 0h2m1 0h1m5 0h1m-28 1h2m1 0h1m1 0h3m1 0h1m1 0h1m1 0h2m2 0h1m1 0h1m2 0h1m1 0h2m1 0h1m-33 1h1m5 0h1m1 0h3m1 0h3m2 0h1m2 0h4m1 0h1m-19 1h1m2 0h3m1 0h1m5 0h1m1 0h2m1 0h1m1 0h2m-28 1h2m1 0h4m1 0h4m2 0h1m3 0h3m4 0h2m-26 1h1m5 0h1m2 0h3m2 0h2m7 0h1m1 0h1m-22 1h4m1 0h1m1 0h1m1 0h3m2 0h1m2 0h1m12 0h1m-35 1h2m3 0h1m1 0h1m1 0h1m1 0h1m5 0h1m3 0h1m3 0h1m3 0h1m-25 1h1m3 0h1m4 0h3m1 0h2m1 0h1m-18 1h1m5 0h2m3 0h1m2 0h1m1 0h1m2 0h1m-23 1h1m2 0h1m1 0h1m3 0h1m2 0h1m1 0h1m1 0h2m1 0h1m-20 1h1m5 0h1m2 0h1m-7 1h2m5 0h1m2 0h1m2 0h1m7 0h1m-26 1h1m2 0h1m3 0h1m8 0h2m1 0h1m4 0h1m-26 1h1m5 0h1m3 0h1m15 0h1m-17 2h1m1 0h1m9 0h1m-7 1h1m3 1h1m-6 1h1" stroke="#ff3030" stroke-opacity="0.62" transform="translate(0 .5)"/><path d="M656 70h1m-1 1h1m-1 1h1m-1 1h1m-1 1h1m-1 1h1m-1 1h1m-1 1h1" stroke="#8c8c8c" transform="translate(0 .5)"/><path d="M475 296h1m2 0h3m2 0h1m-6 1h2m1 0h1m2 0h1m-10 1h2m1 0h1m11 0h1m-17 1h2m1 0h1m1 0h2m1 0h1m3 0h1m-12 1h3m1 0h1m1 0h4m3 0h1m-16 1h13m-15 1h12m2 0h1m1 0h1m-16 1h1m1 0h8m1 0h3m-15 1h6m1 0h5m2 0h1m-14 1h1m1 0h8m1 0h2m-15 1h1m2 0h11m-13 1h1m1 0h11m-14 1h14m-12 1h4m1 0h1m1 0h3m-13 1h1m3 0h2m1 0h3m1 0h2m1 0h1m-11 1h4m1 0h1m5 0h1m-12 1h2m3 0h2m-7 1h2m1 0h1m2 0h1m-8 1h1m2 0h1m2 0h1m-6 1h1" stroke="#ff0000" transform="translate(0 .5)"/><path d="M469 315h6m-3 1h1m-5 1h1m6 0h1m-8 1h7m-9 1h1m1 0h3m1 0h1m-7 1h2m2 0h3m-7 1h2m1 0h1m-3 1h3m-4 1h1m1 0h1m1 0h2m-8 1h1m3 0h3m-6 1h1m6 0h1m-5 1h2m-1 1h1" stroke="#0000ff" transform="translate(0 .5)"/><ellipse cx="477.6" cy="304.5" rx="4.5" ry="3.4" fill="#ff0000" fill-opacity="0.8" filter="url(#bl06)" transform="rotate(-45 477.6 304.5)"/><path d="M463.2 325.4L464.6 328.1L469.6 327.3L474.1 321.8L475.4 316.3L473.6 312.2L470.4 312.7L466.8 317.2L464.1 321.8Z" fill="#0000ff" filter="url(#bl05)"/><path d="M463.8 324.9L465.0 327.4L469.5 326.5L473.3 321.5L474.8 316.7L473.2 312.9L470.3 313.5L467.3 317.9L464.9 321.5Z" fill="#0000ff"/><path d="M450 267h1m4 2h1m-3 6h1m-3 4h1m7 14h2m-12 6h1m3 8h1m2 0h1m4 5h1m-14 1h1m7 0h2m-9 1h1m1 1h1m4 0h1m1 0h2m-12 1h1m1 0h1m2 0h1m2 0h2m2 0h1m-7 1h3m2 0h1m-6 1h1m3 0h1m1 0h1m-5 1h3m1 0h2m-11 1h1m2 0h1m2 0h1m3 0h1m-7 1h1m-3 1h1m4 0h1m2 0h1m-7 1h1m1 0h1m-1 2h1m-2 1h1m2 0h1m-5 1h1m5 1h1m-14 1h1" stroke="#9a9a9a" stroke-opacity="0.62" transform="translate(0 .5)"/><path d="M451 323h1m1 0h1m2 0h1m-6 1h3m1 0h1m-8 1h1m1 0h2m1 0h1m1 0h1m-6 1h4m1 0h1m-9 1h1m4 0h2m1 0h3m3 0h1m-13 1h3m1 0h2m-4 1h3m3 0h1m-8 1h1m1 0h3m-3 1h2m2 0h1m-6 1h1m1 0h1m-4 1h1m3 0h1" stroke="#8c8c8c" transform="translate(0 .5)"/><path d="M448.1 333.0L448.6 326.5L453.1 323.0L458.8 320.5L461.3 321.0L461.3 325.0L456.6 330.5L452.6 333.0Z" fill="#787878" fill-opacity="0.95" filter="url(#bl06)"/><line x1="446.5" y1="200.5" x2="586.5" y2="200.5" stroke="#8a8a8a" stroke-width="1"/><line x1="586.5" y1="200.5" x2="586.5" y2="333.5" stroke="#8a8a8a" stroke-width="1"/><line x1="446.5" y1="200" x2="446.5" y2="334" stroke="#3a3a3a" stroke-width="1"/><line x1="446" y1="333.5" x2="587" y2="333.5" stroke="#3a3a3a" stroke-width="1"/><line x1="444.9" y1="320.5" x2="446.5" y2="320.5" stroke="#3a3a3a" stroke-width="1"/><line x1="443.5" y1="306.5" x2="446.5" y2="306.5" stroke="#3a3a3a" stroke-width="1"/><text transform="translate(442.60 309.60) translate(-9.90 0) scale(0.848 1)" font-size="7.0">200</text><line x1="444.9" y1="293.5" x2="446.5" y2="293.5" stroke="#3a3a3a" stroke-width="1"/><line x1="443.5" y1="280.5" x2="446.5" y2="280.5" stroke="#3a3a3a" stroke-width="1"/><text transform="translate(442.60 282.90) translate(-9.90 0) scale(0.848 1)" font-size="7.0">400</text><line x1="444.9" y1="266.5" x2="446.5" y2="266.5" stroke="#3a3a3a" stroke-width="1"/><line x1="443.5" y1="253.5" x2="446.5" y2="253.5" stroke="#3a3a3a" stroke-width="1"/><text transform="translate(442.60 256.20) translate(-9.90 0) scale(0.848 1)" font-size="7.0">600</text><line x1="444.9" y1="240.5" x2="446.5" y2="240.5" stroke="#3a3a3a" stroke-width="1"/><line x1="443.5" y1="226.5" x2="446.5" y2="226.5" stroke="#3a3a3a" stroke-width="1"/><text transform="translate(442.60 229.50) translate(-9.90 0) scale(0.848 1)" font-size="7.0">800</text><line x1="444.9" y1="213.5" x2="446.5" y2="213.5" stroke="#3a3a3a" stroke-width="1"/><line x1="443.5" y1="200.5" x2="446.5" y2="200.5" stroke="#3a3a3a" stroke-width="1"/><text transform="translate(442.60 202.80) translate(-13.20 0) scale(0.848 1)" font-size="7.0">1000</text><text x="426" y="212.5" font-size="7" text-anchor="middle" transform="rotate(-90 426 212.5)">(x 10<tspan font-size="4" dy="-2.2">3</tspan><tspan dy="2.2">)</tspan></text><line x1="460.5" y1="333.5" x2="460.5" y2="335.1" stroke="#3a3a3a" stroke-width="1"/><line x1="474.5" y1="333.5" x2="474.5" y2="336.5" stroke="#3a3a3a" stroke-width="1"/><text transform="translate(474.48 344.30) translate(-4.95 0) scale(0.848 1)" font-size="7.0">200</text><line x1="488.5" y1="333.5" x2="488.5" y2="335.1" stroke="#3a3a3a" stroke-width="1"/><line x1="502.5" y1="333.5" x2="502.5" y2="336.5" stroke="#3a3a3a" stroke-width="1"/><text transform="translate(502.36 344.30) translate(-4.95 0) scale(0.848 1)" font-size="7.0">400</text><line x1="516.5" y1="333.5" x2="516.5" y2="335.1" stroke="#3a3a3a" stroke-width="1"/><line x1="530.5" y1="333.5" x2="530.5" y2="336.5" stroke="#3a3a3a" stroke-width="1"/><text transform="translate(530.24 344.30) translate(-4.95 0) scale(0.848 1)" font-size="7.0">600</text><line x1="544.5" y1="333.5" x2="544.5" y2="335.1" stroke="#3a3a3a" stroke-width="1"/><line x1="558.5" y1="333.5" x2="558.5" y2="336.5" stroke="#3a3a3a" stroke-width="1"/><text transform="translate(558.12 344.30) translate(-4.95 0) scale(0.848 1)" font-size="7.0">800</text><line x1="572.5" y1="333.5" x2="572.5" y2="335.1" stroke="#3a3a3a" stroke-width="1"/><line x1="586.5" y1="333.5" x2="586.5" y2="336.5" stroke="#3a3a3a" stroke-width="1"/><text transform="translate(586.00 344.30) translate(-6.60 0) scale(0.848 1)" font-size="7.0">1000</text><text x="589" y="352" font-size="6.8" text-anchor="end">(x 10<tspan font-size="4.3" dy="-2.4">3</tspan><tspan dy="2.4">)</tspan></text><line x1="462.5" y1="200.5" x2="462.5" y2="333.5" stroke="#6a6a6a" stroke-width="1.2"/><rect x="461.4" y="200.4" width="8.6" height="10.8" fill="#fff" fill-opacity="0.6" stroke="#c8c8c8" stroke-width="0.8" rx="1.5"/><text transform="translate(462.90 208.60) translate(0.00 0) scale(1.000 1)" font-size="8.4">A</text><text transform="translate(516.30 196.40) translate(-48.50 0) scale(1.004 1)" font-size="8.4">[Ungated] FSC-A / SSC-A</text><text transform="translate(415.30 267.25) rotate(-90) translate(-10.75 0) scale(0.733 1)" font-size="9.6">SSC-A</text><text transform="translate(516.30 363.00) translate(-11.50 0) scale(0.816 1)" font-size="9.4">FSC-A</text><text transform="translate(418.51 355.3) scale(0.696 1)" font-size="19.8" fill="#000" stroke="#000" stroke-width=".75">G</text><path d="M487 438h1m0 2h1m-10 1h1m-12 4h1m8 1h1m-2 1h1m7 0h1m4 1h1m-8 1h1m4 0h1m-19 1h1m1 0h1m3 0h1m6 0h1m4 0h1m-10 1h1m-7 1h1m3 0h1m2 0h1m8 0h1m-15 1h1m3 0h1m1 0h1m1 0h1m-16 1h1m6 0h1m1 0h2m-13 1h1m7 0h2m2 0h3m2 0h1m5 0h1m-15 1h5m6 0h2m4 0h1m-28 1h1m5 0h1m3 0h1m2 0h1m1 0h2m1 0h1m1 0h1m3 0h1m2 0h1m-23 1h2m2 0h3m1 0h1m1 0h1m1 0h4m1 0h1m6 0h2m-28 1h6m1 0h1m2 0h1m7 0h1m1 0h1m9 0h1m-28 1h6m2 0h1m1 0h2m3 0h3m1 0h1m8 0h1m-34 1h1m2 0h1m5 0h2m1 0h1m1 0h1m1 0h1m2 0h2m-17 1h3m1 0h6m4 0h3m11 0h1m-27 1h1m3 0h1m1 0h3m3 0h2m-18 1h1m1 0h1m2 0h2m2 0h1m3 0h3m3 0h1m1 0h2m2 0h2m13 0h1m-43 1h1m2 0h1m1 0h1m3 0h1m1 0h1m2 0h1m2 0h5m1 0h1m-20 1h2m1 0h2m4 0h2m1 0h5m1 0h1m4 0h1m-26 1h4m2 0h1m1 0h2m1 0h1m1 0h1m3 0h1m1 0h1m-19 1h1m2 0h2m1 0h3m1 0h3m2 0h4m1 0h1m1 0h1m-27 1h1m1 0h1m1 0h3m1 0h1m1 0h1m1 0h1m1 0h1m3 0h2m5 0h1m-26 1h1m4 0h1m1 0h1m1 0h2m2 0h2m1 0h2m1 0h2m1 0h1m10 0h1m1 0h1m-32 1h2m1 0h2m2 0h4m1 0h1m1 0h2m2 0h4m2 0h1m1 0h1m-31 1h1m1 0h3m5 0h3m1 0h3m1 0h2m6 0h1m3 0h1m-26 1h6m1 0h1m1 0h1m5 0h2m1 0h1m1 0h2m-26 1h3m2 0h2m3 0h1m1 0h2m1 0h1m1 0h1m3 0h1m3 0h1m-24 1h1m1 0h4m3 0h3m2 0h4m1 0h2m11 0h1m-33 1h1m1 0h1m3 0h2m3 0h1m4 0h2m1 0h2m1 0h1m4 0h2m-29 1h1m2 0h1m1 0h4m1 0h2m1 0h3m2 0h1m1 0h1m1 0h2m1 0h1m12 0h1m-37 1h1m2 0h1m4 0h1m1 0h7m1 0h2m-21 1h4m1 0h1m1 0h2m2 0h3m1 0h1m2 0h3m3 0h2m3 0h1m-30 1h10m1 0h1m1 0h4m4 0h1m4 0h1m-31 1h2m5 0h1m1 0h3m1 0h1m1 0h4m2 0h2m2 0h1m5 0h1m-31 1h1m2 0h1m3 0h5m1 0h3m1 0h1m1 0h3m1 0h1m5 0h1m3 0h1m-28 1h1m3 0h2m1 0h3m1 0h4m5 0h1m1 0h1m-28 1h1m3 0h4m1 0h1m2 0h2m8 0h1m5 0h1m-32 1h1m2 0h2m1 0h1m1 0h5m2 0h3m1 0h2m1 0h1m5 0h1m-28 1h1m4 0h3m1 0h1m2 0h5m1 0h1m1 0h1m2 0h1m4 0h2m-30 1h1m3 0h2m1 0h2m3 0h1m1 0h1m1 0h3m1 0h1m1 0h1m1 0h1m-24 1h3m5 0h1m1 0h1m1 0h1m1 0h8m1 0h1m-20 1h2m1 0h1m2 0h1m2 0h1m2 0h4m1 0h3m1 0h3m-25 1h2m5 0h4m1 0h1m2 0h1m1 0h1m3 0h2m-28 1h1m3 0h2m5 0h3m1 0h2m1 0h1m2 0h1m4 0h2m1 0h1m-25 1h2m4 0h1m2 0h1m1 0h2m1 0h2m1 0h2m3 0h1m-25 1h1m4 0h1m1 0h2m1 0h1m1 0h2m5 0h1m1 0h1m9 0h1m-32 1h1m3 0h1m1 0h1m1 0h1m1 0h2m1 0h1m1 0h2m-14 1h1m4 0h5m11 0h1m-22 1h1m7 0h1m3 0h1m7 0h1m-21 1h1m4 0h1m8 0h1m-18 1h1m6 0h1m1 0h1m3 0h1m1 0h1m6 0h1m-24 1h1m12 0h2m1 0h1m16 0h1m-31 1h1m10 0h1m-9 1h1m2 0h1m4 0h1m4 0h1m-16 1h1m1 2h1m8 0h1m11 0h1m-29 1h1m16 0h2m-13 7h2" stroke="#ff3030" stroke-opacity="0.62" transform="translate(0 .5)"/><path d="M455 254h1m-1 2h1m-1 2h1m-1 2h1" stroke="#8c8c8c" transform="translate(0 .5)"/><path d="M482 475h1m1 4h1m-4 1h1m-10 1h1m1 0h1m3 0h2m5 0h1m-10 1h1m1 0h1m2 0h1m1 0h1m-18 1h1m8 0h2m1 0h1m1 0h1m5 0h1m1 0h1m-17 1h1m1 0h1m1 0h2m3 0h1m1 0h1m-8 1h1m1 0h1m3 0h1m2 0h1m1 0h1m-19 1h14m5 0h1m-19 1h2m1 0h2m1 0h4m1 0h2m-17 1h1m1 0h1m1 0h5m1 0h7m1 0h1m1 0h1m-19 1h1m1 0h3m1 0h5m1 0h1m1 0h1m1 0h1m-20 1h1m2 0h1m1 0h11m1 0h1m4 0h1m-22 1h1m1 0h1m1 0h1m1 0h1m2 0h4m1 0h3m-18 1h1m1 0h2m2 0h1m1 0h3m2 0h1m2 0h3m-15 1h2m1 0h8m-12 1h1m1 0h3m2 0h5m-12 1h2m2 0h5m-11 1h2m1 0h8m1 0h2m6 0h1m-17 1h2m3 0h4m-11 1h1m4 0h2m3 0h3m-7 1h1m-6 1h1m4 0h1m-7 1h1m2 0h1m4 0h1m-7 1h2m-2 2h1" stroke="#ff0000" transform="translate(0 .5)"/><path d="M470 496h1m3 2h1m-5 2h1m3 0h1m-4 1h1m0 1h1m2 0h1m-10 1h1m1 0h3m1 0h2m1 0h1m-8 1h3m2 0h1m1 0h1m-9 1h1m1 0h2m1 0h3m-6 1h2m1 0h1m-6 1h4m-3 1h1m1 0h1m1 0h1m-7 1h2m1 0h2m-6 1h1m1 0h1m1 0h2m-4 5h1" stroke="#0000ff" transform="translate(0 .5)"/><ellipse cx="476" cy="490" rx="5.2" ry="3.8" fill="#ff0000" fill-opacity="0.8" filter="url(#bl06)" transform="rotate(-45 476 490)"/><path d="M462.9 512.5L465.8 513.9L470.8 511.2L475.4 506.2L476.7 501.3L474.0 498.1L469.5 498.1L466.7 502.2L463.5 507.7Z" fill="#0000ff" filter="url(#bl05)"/><path d="M463.5 512.0L466.2 513.1L470.7 510.4L474.6 506.1L476.0 501.7L473.6 498.8L469.5 498.9L467.2 502.8L464.3 507.4Z" fill="#0000ff"/><path d="M456 454h1m0 3h1m-8 8h1m3 7h1m2 1h1m-1 4h1m0 10h1m2 0h1m-7 8h1m-2 1h3m-5 2h1m-2 1h1m3 0h3m1 0h1m-10 1h1m6 0h2m1 0h1m-5 1h4m-7 1h1m1 0h1m2 1h2m-6 1h1m1 0h3m-8 1h1m7 0h2m-11 1h1m2 0h2m1 0h1m-4 1h2m4 0h1m1 0h1m-5 1h1m2 0h1m-7 1h2m3 0h1m-4 1h1m1 0h1m-4 2h1" stroke="#9a9a9a" stroke-opacity="0.62" transform="translate(0 .5)"/><path d="M453 509h1m-2 1h5m-8 1h1m2 0h3m1 0h2m-9 1h2m3 0h2m1 0h3m-9 1h4m1 0h1m-7 1h2m1 0h1m2 0h1m-5 1h2m-3 1h2m-4 1h1m2 0h4m-2 1h1" stroke="#8c8c8c" transform="translate(0 .5)"/><path d="M448.5 518.2L449.0 511.7L453.5 508.2L459.0 505.7L461.5 506.2L461.5 510.2L457.0 515.7L453.0 518.2Z" fill="#787878" fill-opacity="0.95" filter="url(#bl06)"/><line x1="447.5" y1="385.5" x2="587.5" y2="385.5" stroke="#8a8a8a" stroke-width="1"/><line x1="587.5" y1="385.5" x2="587.5" y2="518.5" stroke="#8a8a8a" stroke-width="1"/><line x1="447.5" y1="385" x2="447.5" y2="519" stroke="#3a3a3a" stroke-width="1"/><line x1="447" y1="518.5" x2="588" y2="518.5" stroke="#3a3a3a" stroke-width="1"/><line x1="445.9" y1="505.5" x2="447.5" y2="505.5" stroke="#3a3a3a" stroke-width="1"/><line x1="444.5" y1="492.5" x2="447.5" y2="492.5" stroke="#3a3a3a" stroke-width="1"/><text transform="translate(443.00 494.86) translate(-9.90 0) scale(0.848 1)" font-size="7.0">200</text><line x1="445.9" y1="478.5" x2="447.5" y2="478.5" stroke="#3a3a3a" stroke-width="1"/><line x1="444.5" y1="465.5" x2="447.5" y2="465.5" stroke="#3a3a3a" stroke-width="1"/><text transform="translate(443.00 468.22) translate(-9.90 0) scale(0.848 1)" font-size="7.0">400</text><line x1="445.9" y1="452.5" x2="447.5" y2="452.5" stroke="#3a3a3a" stroke-width="1"/><line x1="444.5" y1="438.5" x2="447.5" y2="438.5" stroke="#3a3a3a" stroke-width="1"/><text transform="translate(443.00 441.58) translate(-9.90 0) scale(0.848 1)" font-size="7.0">600</text><line x1="445.9" y1="425.5" x2="447.5" y2="425.5" stroke="#3a3a3a" stroke-width="1"/><line x1="444.5" y1="412.5" x2="447.5" y2="412.5" stroke="#3a3a3a" stroke-width="1"/><text transform="translate(443.00 414.94) translate(-9.90 0) scale(0.848 1)" font-size="7.0">800</text><line x1="445.9" y1="398.5" x2="447.5" y2="398.5" stroke="#3a3a3a" stroke-width="1"/><line x1="444.5" y1="385.5" x2="447.5" y2="385.5" stroke="#3a3a3a" stroke-width="1"/><text transform="translate(443.00 388.30) translate(-13.20 0) scale(0.848 1)" font-size="7.0">1000</text><text x="426.4" y="398" font-size="7" text-anchor="middle" transform="rotate(-90 426.4 398)">(x 10<tspan font-size="4" dy="-2.2">3</tspan><tspan dy="2.2">)</tspan></text><line x1="461.5" y1="518.5" x2="461.5" y2="520.1" stroke="#3a3a3a" stroke-width="1"/><line x1="475.5" y1="518.5" x2="475.5" y2="521.5" stroke="#3a3a3a" stroke-width="1"/><text transform="translate(475.00 529.50) translate(-4.95 0) scale(0.848 1)" font-size="7.0">200</text><line x1="489.5" y1="518.5" x2="489.5" y2="520.1" stroke="#3a3a3a" stroke-width="1"/><line x1="503.5" y1="518.5" x2="503.5" y2="521.5" stroke="#3a3a3a" stroke-width="1"/><text transform="translate(503.00 529.50) translate(-4.95 0) scale(0.848 1)" font-size="7.0">400</text><line x1="517.5" y1="518.5" x2="517.5" y2="520.1" stroke="#3a3a3a" stroke-width="1"/><line x1="531.5" y1="518.5" x2="531.5" y2="521.5" stroke="#3a3a3a" stroke-width="1"/><text transform="translate(531.00 529.50) translate(-4.95 0) scale(0.848 1)" font-size="7.0">600</text><line x1="545.5" y1="518.5" x2="545.5" y2="520.1" stroke="#3a3a3a" stroke-width="1"/><line x1="559.5" y1="518.5" x2="559.5" y2="521.5" stroke="#3a3a3a" stroke-width="1"/><text transform="translate(559.00 529.50) translate(-4.95 0) scale(0.848 1)" font-size="7.0">800</text><line x1="573.5" y1="518.5" x2="573.5" y2="520.1" stroke="#3a3a3a" stroke-width="1"/><line x1="587.5" y1="518.5" x2="587.5" y2="521.5" stroke="#3a3a3a" stroke-width="1"/><text transform="translate(587.00 529.50) translate(-6.60 0) scale(0.848 1)" font-size="7.0">1000</text><text x="590" y="537.2" font-size="6.8" text-anchor="end">(x 10<tspan font-size="4.3" dy="-2.4">3</tspan><tspan dy="2.4">)</tspan></text><line x1="462.5" y1="385.5" x2="462.5" y2="518.5" stroke="#6a6a6a" stroke-width="1.2"/><rect x="461.6" y="385.9" width="8.6" height="10.8" fill="#fff" fill-opacity="0.6" stroke="#c8c8c8" stroke-width="0.8" rx="1.5"/><text transform="translate(463.10 394.10) translate(0.00 0) scale(1.000 1)" font-size="8.4">A</text><line x1="582.5" y1="385.5" x2="582.5" y2="518.5" stroke="#3a3a3a" stroke-width="1.2"/><text transform="translate(517.00 381.90) translate(-48.50 0) scale(1.004 1)" font-size="8.4">[Ungated] FSC-A / SSC-A</text><text transform="translate(415.30 452.60) rotate(-90) translate(-10.75 0) scale(0.733 1)" font-size="9.6">SSC-A</text><text transform="translate(517.00 548.20) translate(-11.50 0) scale(0.816 1)" font-size="9.4">FSC-A</text><text transform="translate(415.46 539.6) scale(0.766 1)" font-size="19.8" fill="#000" stroke="#000" stroke-width=".75">K</text><path d="M357 45h1m-2 13h1m2 0h1m-2 1h1m3 1h1m-3 1h2m-8 2h1m-8 2h1m0 1h1m3 1h1m1 0h1m2 0h1m-8 1h1m3 0h1m1 0h1m-9 1h1m7 2h1m-5 1h4m6 0h1m-8 1h1m1 0h1m-9 1h1m6 0h1m1 0h1m-10 1h1m6 0h1m5 0h1m5 0h1m-15 1h1m2 0h1m8 0h1m-18 1h1m1 0h1m1 0h1m8 0h1m-15 2h1m1 0h1m1 0h4m2 0h1m1 0h1m-14 1h1m3 0h1m1 0h6m3 0h1m-16 1h1m5 0h2m5 0h1m-16 1h1m3 0h2m1 0h1m1 0h1m2 0h1m6 0h2m1 0h1m1 0h1m-17 1h1m3 0h2m1 0h1m2 0h1m-17 1h2m1 0h2m5 0h2m-16 1h1m8 0h2m2 0h1m7 0h1m-39 1h1m19 0h1m2 0h1m5 0h1m1 0h1m-16 1h1m4 0h3m1 0h2m3 0h1m5 0h1m-30 1h1m16 0h1m4 0h1m3 0h2m-13 1h2m5 0h3m1 0h1m-7 1h1m3 0h2m-11 1h1m1 0h1m2 0h2m2 0h1m3 0h1m-16 1h1m2 0h1m2 0h1m1 0h1m3 0h1m-9 1h2m1 0h1m1 0h1m3 0h1m4 0h1m3 0h1m-19 1h1m2 0h1m1 0h1m1 0h4m-14 1h7m4 0h1m1 0h1m-29 1h1m10 0h1m1 0h3m2 0h1m4 0h1m4 0h1m1 0h1m-15 1h1m2 0h1m2 0h2m3 0h1m1 0h2m4 0h1m-21 1h1m3 0h1m2 0h1m2 0h1m4 0h1m6 0h1m-22 1h2m1 0h3m6 0h2m-21 1h3m5 0h1m1 0h3m2 0h1m1 0h1m-10 1h5m1 0h1m1 0h1m9 0h1m-23 1h1m4 0h2m1 0h3m7 0h1m7 0h1m-30 1h1m1 0h1m2 0h1m1 0h1m1 0h2m1 0h1m1 0h1m10 0h1m-26 1h3m2 0h1m3 0h1m5 0h1m2 0h1m1 0h2m7 0h1m8 0h1m-43 1h1m2 0h1m3 0h1m1 0h1m2 0h1m1 0h1m1 0h4m5 0h1m6 0h1m6 0h1m-41 1h1m9 0h3m2 0h2m10 0h1m6 0h2m-29 1h1m1 0h1m3 0h6m1 0h1m1 0h1m1 0h1m-15 1h1m1 0h1m3 0h1m1 0h2m4 0h1m-21 1h1m13 0h1m14 0h1m6 0h1m-36 1h1m2 0h4m3 0h2m3 0h1m1 0h1m3 0h1m7 0h1m1 0h1m-31 1h1m5 0h3m3 0h1m1 0h2m7 0h3m-37 1h1m13 0h2m4 0h1m1 0h1m22 0h1m-40 1h1m6 0h1m4 0h1m1 0h1m1 0h2m2 0h1m1 0h1m13 0h1m-35 1h1m9 0h2m1 0h1m5 0h2m12 0h1m4 0h1m-39 1h1m3 0h1m2 0h2m1 0h2m1 0h1m1 0h1m2 0h2m2 0h1m1 0h1m-18 1h1m9 0h1m7 0h1m-25 1h1m3 0h1m6 0h1m1 0h2m10 0h1m1 0h1m-34 1h1m11 0h1m1 0h1m1 0h3m11 0h2m10 0h1m-36 1h1m3 0h1m9 0h1m5 0h1m3 0h1m-29 1h1m4 0h1m1 0h1m1 0h1m3 0h1m3 0h2m2 0h1m12 0h1m5 0h1m-46 1h1m13 0h1m1 0h1m6 0h1m6 0h1m14 0h1m-40 1h1m1 0h1m2 0h5m2 0h1m2 0h2m1 0h1m7 0h1m-27 1h1m5 0h2m1 0h1m6 0h2m1 0h1m5 0h1m-35 1h1m15 0h1m4 0h1m1 0h1m2 0h1m16 0h1m-47 1h1m15 0h1m9 0h1m1 0h1m10 0h1m-23 1h1m2 0h1m11 0h1m7 0h1m-23 1h1m4 0h4m5 0h1m1 0h1m-16 1h1m1 0h1m2 0h1m3 0h1m1 0h1m1 0h1m4 0h1m3 0h1m-25 1h1m2 0h2m1 0h1m1 0h1m5 0h1m2 0h1m7 0h1m-23 1h1m5 0h1m-24 1h1m22 0h1m4 0h1m13 0h1m-19 1h1m7 0h1m-8 1h1m-6 1h1m1 0h1m3 1h1m5 0h1m-20 2h1m9 4h1m3 1h1m-3 2h1m6 2h1" stroke="#ff6a6a" stroke-opacity="0.62" transform="translate(0 .5)"/><path d="M344 22h1m-44 28h1m73 0h1m-45 19h1m-6 16h1m-2 5h1m-21 3h1m-22 3h1m32 0h1m7 1h1m-37 1h1m-11 1h1m28 4h1m-35 1h1m3 1h1m2 1h1m11 0h1m26 4h1m47 0h1m-59 1h1m-10 1h1m52 2h1m5 0h1m-42 1h1m32 0h1m6 0h1m-75 1h1m13 0h1m54 0h1m-83 1h1m32 0h1m51 0h1m16 0h1m-12 1h1m-63 1h1m59 0h2m1 0h1m5 0h1m3 0h1m-85 1h1m56 0h1m6 0h1m2 0h1m11 0h1m-6 1h1m10 0h1m-30 1h1m4 0h1m5 0h1m2 0h1m1 0h1m1 0h1m7 0h1m1 0h1m-85 1h1m30 0h1m28 0h1m12 0h1m4 0h1m2 0h1m1 0h1m-13 1h2m6 0h1m1 0h1m-85 1h1m73 0h4m3 0h1m3 0h1m-81 1h1m53 0h1m8 0h1m2 0h1m2 0h1m10 0h1m1 0h1m-89 1h1m71 0h1m1 0h5m1 0h1m13 0h1m-88 1h1m33 0h1m33 0h2m6 0h2m1 0h1m-90 1h2m12 0h1m11 0h1m3 0h1m36 0h1m4 0h1m3 0h2m3 0h1m2 0h1m-27 1h1m17 0h1m2 0h1m1 0h1m2 0h1m1 0h1m-17 1h1m8 0h1m6 0h2m-77 1h1m48 0h1m15 0h1m10 0h1m-20 1h1m2 0h1m2 0h1m1 0h1m2 0h1m3 0h2m1 0h1m5 0h1m-71 1h1m3 0h1m49 0h1m3 0h2m3 0h1m5 0h1m-25 1h1m2 0h1m10 0h1m5 0h1m-7 1h2m3 0h2m5 0h1m-86 1h1m4 0h1m61 0h1m2 0h4m1 0h1m9 0h1m-79 1h1m31 0h1m32 0h1m2 0h1m-70 1h1m11 0h1m28 0h1m27 0h1m-81 1h1m17 0h1m56 0h1m3 0h1m2 0h1m-18 1h1m8 0h1m11 0h1m-30 1h1m13 0h1m4 0h1m5 0h1m3 0h2m-63 1h1m48 0h1m-37 2h1m39 0h1m-63 1h1m32 0h1m-45 4h1m9 0h1m-22 1h1m79 0h1m-80 2h1m9 0h1m75 0h1m-96 3h1" stroke="#ff3030" stroke-opacity="0.62" transform="translate(0 .5)"/><path d="M456 439h1m-1 1h1m-1 1h1m-1 1h1m-1 1h1m-1 1h1m-1 1h1m-1 1h1" stroke="#8c8c8c" transform="translate(0 .5)"/><path d="M364 115h1m6 0h1m-8 3h2m1 0h1m3 0h1m-10 1h1m1 0h1m2 0h4m-7 1h1m2 0h1m-5 1h1m1 0h5m-6 1h7m-9 1h9m1 0h1m-11 1h10m-9 1h9m-11 1h1m1 0h9m-10 1h2m1 0h5m1 0h2m-9 1h1m1 0h7m-11 1h4m1 0h3m1 0h1m2 0h1m-13 1h1m1 0h2m1 0h4m-6 1h4m-3 1h1m1 0h1m1 0h1m-8 1h1m2 0h4m-2 1h1m1 0h1m-4 1h1m1 0h1m-5 1h1m-3 1h2m2 0h2m2 0h1m2 0h1m-7 1h2m6 0h1m-11 1h1m2 0h1m1 0h1m1 0h1m-10 1h1m1 0h2m1 0h2m2 0h3m-11 1h2m1 0h2m3 0h3m-17 1h1m2 0h1m2 0h10m2 0h2m-13 1h1m1 0h3m2 0h1m1 0h1m-9 1h1m1 0h4m-10 1h1m5 0h6m6 0h1m-19 1h1m1 0h2m2 0h1m1 0h2m2 0h1m-11 1h2m2 0h2m1 0h2m2 0h2m-12 1h1m5 0h1m2 1h1m-13 1h1m8 0h2m3 0h1m-3 1h1m-10 2h2" stroke="#ff0000" transform="translate(0 .5)"/><ellipse cx="367" cy="125.5" rx="2.8" ry="5" fill="#ff0000" fill-opacity="0.85" filter="url(#bl06)" transform="rotate(15 367 125.5)"/><path d="M364.9 147.5L369.4 150.5L374.0 148.2L377.2 142.4L377.2 137.2L374.6 134.6L370.7 134.9L366.8 137.8L364.6 142.4Z" fill="#ff0000" filter="url(#bl06)"/><path d="M365.5 147.0L369.5 149.7L373.7 147.5L376.4 142.3L376.6 137.7L374.2 135.3L370.7 135.7L367.4 138.3L365.4 142.3Z" fill="#ff0000"/><line x1="246.5" y1="18.5" x2="384.5" y2="18.5" stroke="#8a8a8a" stroke-width="1"/><line x1="384.5" y1="18.5" x2="384.5" y2="156.5" stroke="#8a8a8a" stroke-width="1"/><line x1="246.5" y1="18" x2="246.5" y2="157" stroke="#3a3a3a" stroke-width="1"/><line x1="246" y1="156.5" x2="385" y2="156.5" stroke="#3a3a3a" stroke-width="1"/><line x1="244.9" y1="142.5" x2="246.5" y2="142.5" stroke="#3a3a3a" stroke-width="1"/><line x1="243.5" y1="128.5" x2="246.5" y2="128.5" stroke="#3a3a3a" stroke-width="1"/><text transform="translate(242.60 131.60) translate(-9.90 0) scale(0.848 1)" font-size="7.0">200</text><line x1="244.9" y1="114.5" x2="246.5" y2="114.5" stroke="#3a3a3a" stroke-width="1"/><line x1="243.5" y1="101.5" x2="246.5" y2="101.5" stroke="#3a3a3a" stroke-width="1"/><text transform="translate(242.60 103.90) translate(-9.90 0) scale(0.848 1)" font-size="7.0">400</text><line x1="244.9" y1="87.5" x2="246.5" y2="87.5" stroke="#3a3a3a" stroke-width="1"/><line x1="243.5" y1="73.5" x2="246.5" y2="73.5" stroke="#3a3a3a" stroke-width="1"/><text transform="translate(242.60 76.20) translate(-9.90 0) scale(0.848 1)" font-size="7.0">600</text><line x1="244.9" y1="59.5" x2="246.5" y2="59.5" stroke="#3a3a3a" stroke-width="1"/><line x1="243.5" y1="45.5" x2="246.5" y2="45.5" stroke="#3a3a3a" stroke-width="1"/><text transform="translate(242.60 48.50) translate(-9.90 0) scale(0.848 1)" font-size="7.0">800</text><line x1="244.9" y1="31.5" x2="246.5" y2="31.5" stroke="#3a3a3a" stroke-width="1"/><line x1="243.5" y1="18.5" x2="246.5" y2="18.5" stroke="#3a3a3a" stroke-width="1"/><text transform="translate(242.60 20.80) translate(-13.20 0) scale(0.848 1)" font-size="7.0">1000</text><text x="226" y="30.5" font-size="7" text-anchor="middle" transform="rotate(-90 226 30.5)">(x 10<tspan font-size="4" dy="-2.2">3</tspan><tspan dy="2.2">)</tspan></text><line x1="252.5" y1="156.5" x2="252.5" y2="159.5" stroke="#3a3a3a" stroke-width="1"/><text transform="translate(252.50 167.30) translate(-8.25 0) scale(0.922 1)" font-size="7.0">-2000</text><line x1="280.5" y1="156.5" x2="280.5" y2="159.5" stroke="#3a3a3a" stroke-width="1"/><text transform="translate(280.20 167.30) translate(-1.65 0) scale(0.848 1)" font-size="7.0">0</text><line x1="309.5" y1="156.5" x2="309.5" y2="159.5" stroke="#3a3a3a" stroke-width="1"/><text transform="translate(309.50 167.30) translate(-6.60 0) scale(0.848 1)" font-size="7.0">2000</text><line x1="335.5" y1="156.5" x2="335.5" y2="159.5" stroke="#3a3a3a" stroke-width="1"/><text x="330.9" y="167.3" font-size="7.0"><tspan textLength="6.6" lengthAdjust="spacingAndGlyphs">10</tspan><tspan font-size="4.2" dy="-2.6">4</tspan></text><line x1="360.5" y1="156.5" x2="360.5" y2="159.5" stroke="#3a3a3a" stroke-width="1"/><text x="356.2" y="167.3" font-size="7.0"><tspan textLength="6.6" lengthAdjust="spacingAndGlyphs">10</tspan><tspan font-size="4.2" dy="-2.6">5</tspan></text><line x1="384.5" y1="156.5" x2="384.5" y2="159.5" stroke="#3a3a3a" stroke-width="1"/><text x="380.5" y="167.3" font-size="7.0"><tspan textLength="6.6" lengthAdjust="spacingAndGlyphs">10</tspan><tspan font-size="4.2" dy="-2.6">6</tspan></text><line x1="317.5" y1="156.5" x2="317.5" y2="158.1" stroke="#3a3a3a" stroke-width="0.8"/><line x1="321.5" y1="156.5" x2="321.5" y2="158.1" stroke="#3a3a3a" stroke-width="0.8"/><line x1="325.5" y1="156.5" x2="325.5" y2="158.1" stroke="#3a3a3a" stroke-width="0.8"/><line x1="327.5" y1="156.5" x2="327.5" y2="158.1" stroke="#3a3a3a" stroke-width="0.8"/><line x1="329.5" y1="156.5" x2="329.5" y2="158.1" stroke="#3a3a3a" stroke-width="0.8"/><line x1="331.5" y1="156.5" x2="331.5" y2="158.1" stroke="#3a3a3a" stroke-width="0.8"/><line x1="332.5" y1="156.5" x2="332.5" y2="158.1" stroke="#3a3a3a" stroke-width="0.8"/><line x1="334.5" y1="156.5" x2="334.5" y2="158.1" stroke="#3a3a3a" stroke-width="0.8"/><line x1="342.5" y1="156.5" x2="342.5" y2="158.1" stroke="#3a3a3a" stroke-width="0.8"/><line x1="347.5" y1="156.5" x2="347.5" y2="158.1" stroke="#3a3a3a" stroke-width="0.8"/><line x1="350.5" y1="156.5" x2="350.5" y2="158.1" stroke="#3a3a3a" stroke-width="0.8"/><line x1="352.5" y1="156.5" x2="352.5" y2="158.1" stroke="#3a3a3a" stroke-width="0.8"/><line x1="354.5" y1="156.5" x2="354.5" y2="158.1" stroke="#3a3a3a" stroke-width="0.8"/><line x1="356.5" y1="156.5" x2="356.5" y2="158.1" stroke="#3a3a3a" stroke-width="0.8"/><line x1="358.5" y1="156.5" x2="358.5" y2="158.1" stroke="#3a3a3a" stroke-width="0.8"/><line x1="359.5" y1="156.5" x2="359.5" y2="158.1" stroke="#3a3a3a" stroke-width="0.8"/><line x1="367.5" y1="156.5" x2="367.5" y2="158.1" stroke="#3a3a3a" stroke-width="0.8"/><line x1="372.5" y1="156.5" x2="372.5" y2="158.1" stroke="#3a3a3a" stroke-width="0.8"/><line x1="375.5" y1="156.5" x2="375.5" y2="158.1" stroke="#3a3a3a" stroke-width="0.8"/><line x1="377.5" y1="156.5" x2="377.5" y2="158.1" stroke="#3a3a3a" stroke-width="0.8"/><line x1="379.5" y1="156.5" x2="379.5" y2="158.1" stroke="#3a3a3a" stroke-width="0.8"/><line x1="381.5" y1="156.5" x2="381.5" y2="158.1" stroke="#3a3a3a" stroke-width="0.8"/><line x1="382.5" y1="156.5" x2="382.5" y2="158.1" stroke="#3a3a3a" stroke-width="0.8"/><line x1="383.5" y1="156.5" x2="383.5" y2="158.1" stroke="#3a3a3a" stroke-width="0.8"/><rect x="320.5" y="21.5" width="64" height="135" fill="none" stroke="#4a4a4a" stroke-width="1.1"/><rect x="320.2" y="20.6" width="27" height="11.3" fill="#fff" fill-opacity="0.6" stroke="#c8c8c8" stroke-width="0.8" rx="1.5"/><text transform="translate(321.70 29.20) translate(0.00 0) scale(0.868 1)" font-size="8.8">CD45+</text><text transform="translate(315.55 15.00) translate(-32.20 0) scale(0.993 1)" font-size="8.4">[A] PE-A / SSC-A</text><text transform="translate(215.30 87.75) rotate(-90) translate(-10.75 0) scale(0.733 1)" font-size="9.6">SSC-A</text><text transform="translate(315.55 180.00) translate(-9.35 0) scale(0.852 1)" font-size="9.4">PE-A</text><text transform="translate(216.96 173.2) scale(0.949 1)" font-size="19.8" fill="#000" stroke="#000" stroke-width=".75">B</text><path d="M95 220h1m-35 10h1m103 6h1m-11 2h1m9 0h1m-2 2h1m-2 2h1m-8 1h1m-2 3h2m0 1h1m-89 1h1m73 0h1m10 0h1m1 1h1m3 0h1m-75 1h1m62 0h1m12 0h1m-102 1h1m95 0h1m2 0h1m2 0h1m-17 1h1m7 0h1m3 0h1m3 0h1m-12 1h1m1 0h2m-14 1h1m13 0h2m-23 1h1m15 0h1m2 0h1m-2 1h2m4 0h1m-20 1h1m1 0h1m2 0h1m1 0h1m4 0h1m6 0h3m1 0h1m-23 1h1m7 0h2m1 1h2m2 0h1m11 0h1m-22 1h1m6 0h2m3 0h1m1 0h1m1 0h1m-104 1h1m91 0h2m3 0h1m-11 1h1m1 0h1m1 0h2m5 0h1m3 0h1m-18 1h1m4 0h2m1 0h2m5 0h2m-14 1h1m2 0h1m1 0h1m1 0h2m2 0h2m-18 1h1m2 0h1m4 0h2m1 0h1m2 0h1m4 0h1m-15 1h1m1 0h7m-11 1h3m2 0h4m3 0h1m-55 1h1m40 0h1m1 0h2m1 0h3m5 0h1m4 0h1m-19 1h1m1 0h1m1 0h1m3 0h3m2 0h1m1 0h1m1 0h1m5 0h1m-20 1h2m2 0h1m1 0h2m1 0h1m1 0h1m-38 1h1m11 0h1m14 0h1m3 0h1m1 0h4m3 0h1m-17 1h1m1 0h2m4 0h1m-12 1h1m3 0h1m2 0h2m1 0h1m3 0h2m2 0h2m-15 1h1m1 0h1m1 0h7m8 0h1m-23 1h1m1 0h1m4 0h1m1 0h1m2 0h1m2 0h1m4 0h1m-25 1h1m4 0h1m1 0h1m1 0h3m1 0h1m1 0h4m2 0h1m-68 1h1m50 0h1m1 0h1m1 0h1m20 0h1m-75 1h1m41 0h1m4 0h1m1 0h2m1 0h5m1 0h1m4 0h1m-21 1h1m1 0h1m6 0h7m1 0h1m1 0h1m1 0h1m-26 1h1m5 0h1m2 0h2m1 0h4m1 0h1m2 0h1m8 0h1m-24 1h2m4 0h1m1 0h4m-29 1h1m20 0h1m1 0h2m1 0h1m2 0h1m1 0h2m4 0h1m-32 1h1m6 0h1m6 0h1m1 0h2m1 0h1m1 0h2m5 0h1m2 0h1m3 0h1m-30 1h1m1 0h1m7 0h1m1 0h2m2 0h2m2 0h1m2 0h1m3 0h1m4 0h1m8 0h1m-33 1h2m2 0h2m4 0h2m1 0h1m1 0h1m-16 1h3m2 0h1m2 0h1m6 0h1m1 0h1m10 0h1m-91 1h1m62 0h1m2 0h3m1 0h1m1 0h1m7 0h1m-23 1h4m2 0h1m1 0h1m2 0h3m1 0h1m5 0h1m-106 1h1m81 0h2m3 0h1m1 0h4m1 0h1m4 0h2m-39 1h1m14 0h1m5 0h1m3 0h3m2 0h2m3 0h3m-65 1h1m46 0h2m5 0h2m2 0h1m2 0h2m1 0h2m1 0h1m3 0h1m1 0h1m-30 1h1m5 0h1m1 0h2m3 0h2m1 0h1m2 0h1m1 0h1m2 0h3m3 0h1m-26 1h1m3 0h1m2 0h3m6 0h1m2 0h3m4 0h1m1 0h1m-66 1h1m29 0h1m7 0h1m1 0h1m1 0h3m1 0h2m1 0h1m5 0h1m3 0h1m10 0h1m-32 1h1m2 0h1m1 0h5m4 0h2m1 0h1m3 0h1m1 0h1m-37 1h1m2 0h1m9 0h1m5 0h2m1 0h1m1 0h1m3 0h2m-68 1h1m43 0h1m4 0h1m1 0h1m3 0h2m1 0h1m2 0h1m9 0h1m3 0h4m1 0h1m-31 1h1m4 0h1m4 0h1m5 0h2m8 0h1m-90 1h1m60 0h2m4 0h1m4 0h1m3 0h2m3 0h1m1 0h1m2 0h1m1 0h2m-37 1h1m3 0h1m10 0h1m3 0h2m2 0h3m1 0h1m2 0h1m-82 1h1m3 0h1m61 0h1m3 0h1m4 0h3m2 0h1m1 0h1m5 0h1m3 0h1m-70 1h1m34 0h1m2 0h1m3 0h2m3 0h1m15 0h1m5 0h1m-60 1h1m29 0h1m1 0h3m1 0h1m2 0h1m1 0h4m3 0h1m2 0h2m-78 1h1m30 0h1m17 0h2m1 0h1m12 0h2m1 0h1m3 0h1m1 0h3m2 0h1m-79 1h1m20 0h1m33 0h1m4 0h1m2 0h2m2 0h2m9 0h1m1 0h1m3 0h1m-34 1h1m8 0h1m6 0h2m2 0h2m1 0h1m4 0h2m3 0h1m-94 1h1m9 0h1m57 0h2m1 0h1m1 0h1m1 0h1m1 0h1m2 0h1m2 0h2m5 0h1m-47 1h1m15 0h1m1 0h3m4 0h1m2 0h1m1 0h3m1 0h1m2 0h1m1 0h1m1 0h1m2 0h1m1 0h1m-23 1h1m4 0h1m1 0h1m2 0h1m2 0h1m1 0h1m7 0h2m-64 1h1m30 0h1m9 0h1m3 0h1m6 0h1m1 0h1m1 0h1m10 0h1m-111 1h1m3 0h1m9 0h1m22 0h1m47 0h2m11 0h1m6 0h2m4 0h1m2 0h1m-105 1h1m15 0h1m46 0h1m5 0h1m3 0h1m2 0h1m2 0h3m9 0h2m-75 1h1m46 0h1m3 0h1m5 0h1m4 0h3m3 0h2m-76 1h1m39 0h1m8 0h1m9 0h2m10 0h3m5 0h1m1 0h1m1 0h1m2 0h1m2 0h1m-90 1h1m47 0h1m11 0h1m2 0h1m2 0h3m2 0h2m8 0h2m-82 1h1m2 0h1m1 0h1m48 0h1m4 0h1m4 0h1m8 0h2m8 0h1m-111 1h1m43 0h1m38 0h1m3 0h1m2 0h1m3 0h2m1 0h1m4 0h1m-91 1h1m32 0h1m48 0h2m6 0h3m2 0h1m-68 1h1m42 0h2m3 0h1m6 0h2m2 0h1m11 0h1m-28 1h1m6 0h1m7 0h2m1 0h1m2 0h1m-30 1h1m13 0h2m3 0h3m4 0h1m-16 1h1m2 0h1m-31 1h1m19 0h1m3 0h1m3 0h1m4 0h1m3 0h1m2 0h1m3 0h1m9 0h1m-16 1h1m-67 1h1m48 0h1m-58 1h1m62 0h1m4 0h1m6 0h1m-80 1h1m40 0h1m31 0h1m-74 1h1m23 0h1m50 0h1m-14 1h1m-95 1h1m72 0h1m39 0h1m-55 1h1m47 0h1m2 1h1m5 1h1m-20 1h1" stroke="#ff3030" stroke-opacity="0.62" transform="translate(0 .5)"/><path d="M163 298h1m2 0h1m-4 1h1m-1 1h1m3 0h1m2 0h1m-7 1h2m1 0h1m-4 1h1m1 0h2m-7 1h5m1 0h4m-8 1h8m-8 1h6m1 0h2m-12 1h1m1 0h9m1 0h1m-12 1h2m1 0h6m1 0h2m-11 1h8m1 0h2m-11 1h9m-9 1h9m-7 1h5m2 0h1m-9 1h8m-9 1h1m2 0h1m3 0h3m-4 1h2m4 1h1m-12 1h1m2 0h1m4 0h1m-7 1h1m1 1h2m1 0h2m-7 1h1m5 0h1m3 0h1m-6 1h1m1 0h1m-10 1h1m1 0h1m4 0h3m-10 1h2m2 0h2m1 0h2m5 0h1m-14 1h2m1 0h1m1 0h1m2 0h1m2 0h2m-13 1h3m1 0h4m3 0h2m-14 1h1m2 0h1m1 0h1m1 0h2m1 0h2m-12 1h2m3 0h1m1 0h4m3 0h1m-17 1h1m3 0h1m2 0h3m1 0h4m2 0h1m-15 1h1m1 0h1m2 0h3m1 0h3m-10 1h2m3 0h2m8 0h1m-17 1h1m1 0h4m4 0h1m1 0h1m-16 1h1m3 0h1m6 0h1m-8 1h1m2 0h1m5 0h2m-6 1h1m1 0h1m-8 1h1m6 0h1m-4 1h1" stroke="#ff0000" transform="translate(0 .5)"/><ellipse cx="166.4" cy="307.5" rx="2.8" ry="5" fill="#ff0000" fill-opacity="0.85" filter="url(#bl06)" transform="rotate(15 166.4 307.5)"/><path d="M164.2 330.2L168.7 333.2L173.3 330.9L176.5 325.1L176.5 319.9L173.9 317.3L170.0 317.6L166.1 320.5L163.9 325.1Z" fill="#ff0000" filter="url(#bl06)"/><path d="M164.8 329.7L168.8 332.4L173.0 330.2L175.7 325.0L175.9 320.4L173.5 318.0L170.0 318.4L166.7 321.0L164.7 325.0Z" fill="#ff0000"/><line x1="45.5" y1="200.5" x2="184.5" y2="200.5" stroke="#8a8a8a" stroke-width="1"/><line x1="184.5" y1="200.5" x2="184.5" y2="339.5" stroke="#8a8a8a" stroke-width="1"/><line x1="45.5" y1="200" x2="45.5" y2="340" stroke="#3a3a3a" stroke-width="1"/><line x1="45" y1="339.5" x2="185" y2="339.5" stroke="#3a3a3a" stroke-width="1"/><line x1="43.9" y1="325.5" x2="45.5" y2="325.5" stroke="#3a3a3a" stroke-width="1"/><line x1="42.5" y1="311.5" x2="45.5" y2="311.5" stroke="#3a3a3a" stroke-width="1"/><text transform="translate(41.60 314.10) translate(-9.90 0) scale(0.848 1)" font-size="7.0">200</text><line x1="43.9" y1="297.5" x2="45.5" y2="297.5" stroke="#3a3a3a" stroke-width="1"/><line x1="42.5" y1="283.5" x2="45.5" y2="283.5" stroke="#3a3a3a" stroke-width="1"/><text transform="translate(41.60 286.40) translate(-9.90 0) scale(0.848 1)" font-size="7.0">400</text><line x1="43.9" y1="269.5" x2="45.5" y2="269.5" stroke="#3a3a3a" stroke-width="1"/><line x1="42.5" y1="255.5" x2="45.5" y2="255.5" stroke="#3a3a3a" stroke-width="1"/><text transform="translate(41.60 258.70) translate(-9.90 0) scale(0.848 1)" font-size="7.0">600</text><line x1="43.9" y1="242.5" x2="45.5" y2="242.5" stroke="#3a3a3a" stroke-width="1"/><line x1="42.5" y1="228.5" x2="45.5" y2="228.5" stroke="#3a3a3a" stroke-width="1"/><text transform="translate(41.60 231.00) translate(-9.90 0) scale(0.848 1)" font-size="7.0">800</text><line x1="43.9" y1="214.5" x2="45.5" y2="214.5" stroke="#3a3a3a" stroke-width="1"/><line x1="42.5" y1="200.5" x2="45.5" y2="200.5" stroke="#3a3a3a" stroke-width="1"/><text transform="translate(41.60 203.30) translate(-13.20 0) scale(0.848 1)" font-size="7.0">1000</text><text x="25" y="213" font-size="7" text-anchor="middle" transform="rotate(-90 25 213)">(x 10<tspan font-size="4" dy="-2.2">3</tspan><tspan dy="2.2">)</tspan></text><line x1="51.5" y1="339.5" x2="51.5" y2="342.5" stroke="#3a3a3a" stroke-width="1"/><text transform="translate(51.00 349.80) translate(-8.25 0) scale(0.922 1)" font-size="7.0">-2000</text><line x1="80.5" y1="339.5" x2="80.5" y2="342.5" stroke="#3a3a3a" stroke-width="1"/><text transform="translate(80.00 349.80) translate(-1.65 0) scale(0.848 1)" font-size="7.0">0</text><line x1="108.5" y1="339.5" x2="108.5" y2="342.5" stroke="#3a3a3a" stroke-width="1"/><text transform="translate(108.00 349.80) translate(-6.60 0) scale(0.848 1)" font-size="7.0">2000</text><line x1="134.5" y1="339.5" x2="134.5" y2="342.5" stroke="#3a3a3a" stroke-width="1"/><text x="129.6" y="349.8" font-size="7.0"><tspan textLength="6.6" lengthAdjust="spacingAndGlyphs">10</tspan><tspan font-size="4.2" dy="-2.6">4</tspan></text><line x1="160.5" y1="339.5" x2="160.5" y2="342.5" stroke="#3a3a3a" stroke-width="1"/><text x="155.6" y="349.8" font-size="7.0"><tspan textLength="6.6" lengthAdjust="spacingAndGlyphs">10</tspan><tspan font-size="4.2" dy="-2.6">5</tspan></text><line x1="185.5" y1="339.5" x2="185.5" y2="342.5" stroke="#3a3a3a" stroke-width="1"/><text x="180.6" y="349.8" font-size="7.0"><tspan textLength="6.6" lengthAdjust="spacingAndGlyphs">10</tspan><tspan font-size="4.2" dy="-2.6">6</tspan></text><line x1="115.5" y1="339.5" x2="115.5" y2="341.1" stroke="#3a3a3a" stroke-width="0.8"/><line x1="120.5" y1="339.5" x2="120.5" y2="341.1" stroke="#3a3a3a" stroke-width="0.8"/><line x1="123.5" y1="339.5" x2="123.5" y2="341.1" stroke="#3a3a3a" stroke-width="0.8"/><line x1="126.5" y1="339.5" x2="126.5" y2="341.1" stroke="#3a3a3a" stroke-width="0.8"/><line x1="128.5" y1="339.5" x2="128.5" y2="341.1" stroke="#3a3a3a" stroke-width="0.8"/><line x1="129.5" y1="339.5" x2="129.5" y2="341.1" stroke="#3a3a3a" stroke-width="0.8"/><line x1="131.5" y1="339.5" x2="131.5" y2="341.1" stroke="#3a3a3a" stroke-width="0.8"/><line x1="132.5" y1="339.5" x2="132.5" y2="341.1" stroke="#3a3a3a" stroke-width="0.8"/><line x1="141.5" y1="339.5" x2="141.5" y2="341.1" stroke="#3a3a3a" stroke-width="0.8"/><line x1="146.5" y1="339.5" x2="146.5" y2="341.1" stroke="#3a3a3a" stroke-width="0.8"/><line x1="149.5" y1="339.5" x2="149.5" y2="341.1" stroke="#3a3a3a" stroke-width="0.8"/><line x1="152.5" y1="339.5" x2="152.5" y2="341.1" stroke="#3a3a3a" stroke-width="0.8"/><line x1="154.5" y1="339.5" x2="154.5" y2="341.1" stroke="#3a3a3a" stroke-width="0.8"/><line x1="155.5" y1="339.5" x2="155.5" y2="341.1" stroke="#3a3a3a" stroke-width="0.8"/><line x1="157.5" y1="339.5" x2="157.5" y2="341.1" stroke="#3a3a3a" stroke-width="0.8"/><line x1="158.5" y1="339.5" x2="158.5" y2="341.1" stroke="#3a3a3a" stroke-width="0.8"/><line x1="167.5" y1="339.5" x2="167.5" y2="341.1" stroke="#3a3a3a" stroke-width="0.8"/><line x1="171.5" y1="339.5" x2="171.5" y2="341.1" stroke="#3a3a3a" stroke-width="0.8"/><line x1="175.5" y1="339.5" x2="175.5" y2="341.1" stroke="#3a3a3a" stroke-width="0.8"/><line x1="177.5" y1="339.5" x2="177.5" y2="341.1" stroke="#3a3a3a" stroke-width="0.8"/><line x1="179.5" y1="339.5" x2="179.5" y2="341.1" stroke="#3a3a3a" stroke-width="0.8"/><line x1="181.5" y1="339.5" x2="181.5" y2="341.1" stroke="#3a3a3a" stroke-width="0.8"/><line x1="182.5" y1="339.5" x2="182.5" y2="341.1" stroke="#3a3a3a" stroke-width="0.8"/><line x1="183.5" y1="339.5" x2="183.5" y2="341.1" stroke="#3a3a3a" stroke-width="0.8"/><rect x="119.5" y="202.5" width="65" height="137" fill="none" stroke="#4a4a4a" stroke-width="1.1"/><rect x="119.2" y="202.4" width="27" height="11.3" fill="#fff" fill-opacity="0.6" stroke="#c8c8c8" stroke-width="0.8" rx="1.5"/><text transform="translate(120.70 211.00) translate(0.00 0) scale(0.868 1)" font-size="8.8">CD45+</text><text transform="translate(115.20 196.90) translate(-31.80 0) scale(0.980 1)" font-size="8.4">[A] PE-A / SSC-A</text><text transform="translate(14.30 270.25) rotate(-90) translate(-10.75 0) scale(0.733 1)" font-size="9.6">SSC-A</text><text transform="translate(115.20 362.50) translate(-9.35 0) scale(0.852 1)" font-size="9.4">PE-A</text><text transform="translate(16.35 354.3) scale(0.708 1)" font-size="19.8" fill="#000" stroke="#000" stroke-width=".75">E</text><path d="M721 227h1m35 13h1m2 1h1m-6 1h1m-39 1h1m2 0h1m41 0h1m-5 2h1m-7 1h1m2 0h1m3 0h1m-6 1h2m2 0h1m-27 1h1m21 0h1m1 0h1m9 0h1m-11 2h3m3 0h1m-7 1h1m3 0h1m-3 1h1m1 0h1m1 0h1m-5 1h1m1 0h2m-8 1h1m1 0h2m-5 1h1m2 0h1m1 0h1m-70 1h1m61 0h2m4 1h1m4 0h1m-8 1h1m2 0h2m3 0h1m-96 1h1m78 0h1m3 1h2m3 0h2m-8 1h1m4 0h2m2 0h1m1 0h1m1 0h1m-13 1h1m5 0h1m4 0h1m-17 1h1m5 0h1m4 0h1m-7 1h1m3 0h3m1 0h1m-11 1h2m4 0h4m4 0h1m-21 1h1m3 0h1m2 0h1m1 0h2m2 0h1m-9 1h2m2 0h2m4 0h1m-17 1h1m6 0h1m1 0h2m2 0h1m-11 1h1m4 0h1m1 0h1m4 0h3m-12 1h1m2 0h2m2 0h1m1 0h3m-12 1h1m1 0h1m5 0h1m1 0h1m11 0h1m-24 1h1m3 0h2m1 0h2m3 0h1m7 0h1m1 0h1m-24 1h5m2 0h1m1 0h4m-7 1h4m1 0h1m1 0h2m8 0h1m-24 1h1m1 0h1m4 0h1m1 0h1m1 0h2m-15 1h1m1 0h1m2 0h1m3 0h1m1 0h1m3 0h1m2 0h1m-17 1h2m1 0h2m2 0h4m1 0h1m6 0h1m-40 1h1m17 0h1m3 0h1m1 0h7m1 0h3m9 0h1m-29 1h1m5 0h1m2 0h2m4 0h1m1 0h1m3 0h1m6 0h1m-52 1h1m23 0h1m5 0h2m1 0h1m2 0h5m2 0h1m-20 1h1m3 0h1m1 0h4m3 0h3m2 0h1m7 0h1m-23 1h3m1 0h2m1 0h1m4 0h1m1 0h1m3 0h1m6 0h1m-29 1h4m2 0h2m4 0h1m1 0h1m4 0h1m5 0h1m-32 1h1m12 0h3m1 0h1m3 0h1m2 0h1m5 0h1m8 0h1m-32 1h1m1 0h1m3 0h1m3 0h1m1 0h1m4 0h1m6 0h1m-79 1h1m53 0h3m1 0h1m1 0h2m2 0h1m2 0h1m1 0h1m-89 1h1m28 0h1m11 0h1m35 0h1m2 0h3m2 0h1m7 0h1m5 0h1m-34 1h1m8 0h3m1 0h2m1 0h3m1 0h2m7 0h1m1 0h1m-63 1h1m30 0h1m7 0h1m2 0h5m4 0h2m18 0h1m-37 1h1m3 0h1m1 0h2m2 0h1m1 0h1m5 0h1m2 0h1m1 0h1m1 0h1m-29 1h1m6 0h2m1 0h1m2 0h1m1 0h2m4 0h2m-15 1h1m5 0h1m2 0h2m4 0h2m11 0h1m-60 1h1m22 0h2m4 0h5m1 0h1m5 0h1m4 0h2m-31 1h1m13 0h1m1 0h2m4 0h1m7 0h1m1 0h1m7 0h1m-91 1h1m60 0h1m1 0h2m1 0h1m2 0h2m1 0h3m2 0h1m7 0h1m3 0h1m5 0h1m-46 1h1m7 0h1m1 0h1m1 0h1m2 0h1m1 0h3m1 0h1m1 0h2m4 0h3m4 0h1m-38 1h1m2 0h1m4 0h1m2 0h1m2 0h1m2 0h3m2 0h2m3 0h1m11 0h1m5 0h1m-35 1h1m1 0h1m3 0h1m2 0h2m4 0h1m1 0h1m4 0h1m4 0h1m5 0h1m-77 1h1m40 0h1m5 0h1m1 0h2m1 0h1m4 0h1m1 0h2m4 0h1m9 0h1m3 0h1m-106 1h1m14 0h1m45 0h1m5 0h1m5 0h4m1 0h1m3 0h1m1 0h1m1 0h1m4 0h1m7 0h1m-81 1h1m46 0h2m2 0h1m3 0h1m3 0h2m1 0h1m2 0h1m2 0h1m3 0h1m1 0h1m2 0h1m-40 1h1m10 0h1m2 0h1m1 0h1m1 0h1m3 0h1m10 0h1m4 0h1m3 0h1m-37 1h1m11 0h2m1 0h3m3 0h1m2 0h1m2 0h3m7 0h1m-31 1h1m3 0h2m2 0h2m1 0h2m1 0h2m8 0h3m-99 1h1m11 0h1m22 0h1m16 0h1m19 0h1m7 0h1m3 0h1m1 0h1m1 0h1m1 0h1m1 0h1m2 0h1m8 0h1m-34 1h1m3 0h1m2 0h3m4 0h1m1 0h1m6 0h1m1 0h1m10 0h1m-65 1h1m26 0h2m2 0h1m1 0h2m1 0h3m2 0h1m1 0h2m3 0h1m7 0h1m1 0h1m-32 1h1m1 0h1m4 0h2m4 0h1m3 0h1m1 0h2m1 0h1m6 0h1m-39 1h1m15 0h1m6 0h1m1 0h1m3 0h1m1 0h1m2 0h1m11 0h1m-41 1h1m10 0h1m1 0h1m2 0h1m1 0h1m3 0h3m1 0h2m1 0h1m8 0h1m-63 1h1m1 0h1m19 0h1m15 0h1m1 0h1m1 0h1m3 0h1m1 0h1m8 0h2m-38 1h1m14 0h1m1 0h1m1 0h3m2 0h3m5 0h1m5 0h1m-96 1h1m55 0h1m2 0h1m13 0h1m3 0h2m1 0h3m2 0h1m1 0h1m4 0h1m-85 1h1m12 0h1m2 0h1m14 0h1m34 0h2m3 0h2m3 0h1m1 0h1m2 0h2m1 0h1m-86 1h1m15 0h1m21 0h1m12 0h1m16 0h1m1 0h1m2 0h1m2 0h1m1 0h1m2 0h2m3 0h1m-17 1h1m1 0h3m3 0h2m4 0h1m-30 1h1m5 0h1m1 0h2m5 0h2m1 0h1m1 0h2m3 0h1m2 0h1m-64 1h1m29 0h1m1 0h1m11 0h1m4 0h4m2 0h4m6 0h1m-27 1h1m5 0h2m1 0h1m2 0h2m2 0h1m1 0h2m2 0h1m-24 1h1m14 0h1m7 0h1m12 0h1m-29 1h1m5 0h1m7 0h2m-97 1h1m67 0h1m13 0h1m1 0h1m5 0h1m1 0h2m-101 1h1m15 0h1m73 0h1m5 0h1m3 0h1m2 0h1m-65 1h1m5 0h1m7 0h1m3 0h1m30 0h1m4 0h3m6 0h1m-74 1h1m67 0h1m-61 1h1m4 0h1m23 0h1m6 0h1m12 0h1m4 0h1m7 0h1m-20 1h1m9 0h1m1 0h1m9 0h1m-76 1h1m32 0h1m25 0h1m1 0h1m5 0h1m8 0h1m-31 1h1m17 0h1m6 0h1m-16 1h1m5 0h1m20 0h1m-10 1h1m6 0h1m1 0h1m-11 1h1m-76 1h1m28 1h1m7 0h1m22 0h1m-50 2h1m2 0h1m-21 2h1m44 0h1" stroke="#ff3030" stroke-opacity="0.62" transform="translate(0 .5)"/><path d="M768 292h1m-16 2h1m10 3h1m1 1h1m1 0h2m-10 1h1m2 0h1m-2 1h1m8 0h1m-13 1h1m3 0h1m3 0h1m1 0h1m1 0h1m2 0h1m-13 1h1m2 0h3m3 0h1m-11 1h1m2 0h7m2 0h2m-15 1h3m2 0h1m1 0h4m1 0h1m2 0h2m-17 1h1m2 0h5m1 0h5m5 0h1m-18 1h9m-9 1h2m1 0h1m1 0h6m-13 1h1m2 0h3m1 0h6m2 0h2m-17 1h5m2 0h8m1 0h1m1 0h1m-18 1h3m1 0h9m1 0h1m1 0h1m-18 1h2m1 0h6m1 0h3m2 0h1m4 0h1m-23 1h2m1 0h2m1 0h8m1 0h1m5 0h1m-28 1h1m5 0h1m1 0h4m1 0h4m1 0h2m-10 1h7m1 0h1m1 0h1m-16 1h1m3 0h1m4 0h2m1 0h1m4 0h1m-13 1h10m2 0h1m-14 1h1m1 0h10m1 0h1m2 0h1m-17 1h1m3 0h1m4 0h1m3 0h1m-14 1h1m4 0h1m1 0h3m2 0h1m-5 1h2m1 0h1m-4 1h1m2 0h1m1 1h1" stroke="#ff0000" transform="translate(0 .5)"/><path d="M773 319h2m2 0h1m-12 1h1m4 0h1m-5 1h1m1 0h1m2 0h1m-5 1h1m1 0h1m4 0h1m-10 1h1m1 0h3m2 0h1m1 0h2m-11 1h1m3 0h3m3 0h1m-16 1h1m6 0h1m1 0h2m1 0h1m-8 1h1m1 0h4m1 0h4m4 0h1m-19 1h3m1 0h2m1 0h1m1 0h6m-11 1h2m1 0h3m1 0h3m-11 1h1m2 0h6m-13 1h1m5 0h1m1 0h1m1 0h3m-12 1h1m1 0h1m1 0h1m4 0h1m2 0h1m-8 1h1m1 0h1m-3 1h1m1 0h1m-6 1h1m1 0h1m-3 1h1m5 0h1m-1 1h1" stroke="#0000ff" transform="translate(0 .5)"/><ellipse cx="767.2" cy="309.5" rx="4.5" ry="5.5" fill="#ff0000" fill-opacity="0.85" filter="url(#bl06)"/><path d="M764.2 327.7L767.5 332.5L772.2 331.1L777.0 326.4L777.3 322.3L774.9 319.6L770.2 320.3L765.5 323.7Z" fill="#0000ff" filter="url(#bl06)"/><path d="M765.0 327.5L767.9 331.8L772.0 330.3L776.2 326.3L776.6 322.7L774.5 320.3L770.3 321.1L766.3 323.9Z" fill="#0000ff"/><line x1="647.5" y1="200.5" x2="786.5" y2="200.5" stroke="#8a8a8a" stroke-width="1"/><line x1="786.5" y1="200.5" x2="786.5" y2="339.5" stroke="#8a8a8a" stroke-width="1"/><line x1="647.5" y1="200" x2="647.5" y2="340" stroke="#3a3a3a" stroke-width="1"/><line x1="647" y1="339.5" x2="787" y2="339.5" stroke="#3a3a3a" stroke-width="1"/><line x1="645.9" y1="325.5" x2="647.5" y2="325.5" stroke="#3a3a3a" stroke-width="1"/><line x1="644.5" y1="311.5" x2="647.5" y2="311.5" stroke="#3a3a3a" stroke-width="1"/><text transform="translate(643.60 314.10) translate(-9.90 0) scale(0.848 1)" font-size="7.0">200</text><line x1="645.9" y1="297.5" x2="647.5" y2="297.5" stroke="#3a3a3a" stroke-width="1"/><line x1="644.5" y1="283.5" x2="647.5" y2="283.5" stroke="#3a3a3a" stroke-width="1"/><text transform="translate(643.60 286.40) translate(-9.90 0) scale(0.848 1)" font-size="7.0">400</text><line x1="645.9" y1="269.5" x2="647.5" y2="269.5" stroke="#3a3a3a" stroke-width="1"/><line x1="644.5" y1="255.5" x2="647.5" y2="255.5" stroke="#3a3a3a" stroke-width="1"/><text transform="translate(643.60 258.70) translate(-9.90 0) scale(0.848 1)" font-size="7.0">600</text><line x1="645.9" y1="242.5" x2="647.5" y2="242.5" stroke="#3a3a3a" stroke-width="1"/><line x1="644.5" y1="228.5" x2="647.5" y2="228.5" stroke="#3a3a3a" stroke-width="1"/><text transform="translate(643.60 231.00) translate(-9.90 0) scale(0.848 1)" font-size="7.0">800</text><line x1="645.9" y1="214.5" x2="647.5" y2="214.5" stroke="#3a3a3a" stroke-width="1"/><line x1="644.5" y1="200.5" x2="647.5" y2="200.5" stroke="#3a3a3a" stroke-width="1"/><text transform="translate(643.60 203.30) translate(-13.20 0) scale(0.848 1)" font-size="7.0">1000</text><text x="627" y="213" font-size="7" text-anchor="middle" transform="rotate(-90 627 213)">(x 10<tspan font-size="4" dy="-2.2">3</tspan><tspan dy="2.2">)</tspan></text><line x1="663.5" y1="339.5" x2="663.5" y2="342.5" stroke="#3a3a3a" stroke-width="1"/><text transform="translate(663.00 349.80) translate(-8.25 0) scale(0.922 1)" font-size="7.0">-1000</text><line x1="680.5" y1="339.5" x2="680.5" y2="342.5" stroke="#3a3a3a" stroke-width="1"/><text transform="translate(680.00 349.80) translate(-1.65 0) scale(0.848 1)" font-size="7.0">0</text><line x1="701.5" y1="339.5" x2="701.5" y2="342.5" stroke="#3a3a3a" stroke-width="1"/><text transform="translate(701.50 349.80) translate(-6.60 0) scale(0.848 1)" font-size="7.0">1000</text><line x1="735.5" y1="339.5" x2="735.5" y2="342.5" stroke="#3a3a3a" stroke-width="1"/><text x="731.3" y="349.8" font-size="7.0"><tspan textLength="6.6" lengthAdjust="spacingAndGlyphs">10</tspan><tspan font-size="4.2" dy="-2.6">4</tspan></text><line x1="761.5" y1="339.5" x2="761.5" y2="342.5" stroke="#3a3a3a" stroke-width="1"/><text x="756.6" y="349.8" font-size="7.0"><tspan textLength="6.6" lengthAdjust="spacingAndGlyphs">10</tspan><tspan font-size="4.2" dy="-2.6">5</tspan></text><line x1="787.5" y1="339.5" x2="787.5" y2="342.5" stroke="#3a3a3a" stroke-width="1"/><text x="782.6" y="349.8" font-size="7.0"><tspan textLength="6.6" lengthAdjust="spacingAndGlyphs">10</tspan><tspan font-size="4.2" dy="-2.6">6</tspan></text><line x1="711.5" y1="339.5" x2="711.5" y2="341.1" stroke="#3a3a3a" stroke-width="0.8"/><line x1="717.5" y1="339.5" x2="717.5" y2="341.1" stroke="#3a3a3a" stroke-width="0.8"/><line x1="722.5" y1="339.5" x2="722.5" y2="341.1" stroke="#3a3a3a" stroke-width="0.8"/><line x1="725.5" y1="339.5" x2="725.5" y2="341.1" stroke="#3a3a3a" stroke-width="0.8"/><line x1="728.5" y1="339.5" x2="728.5" y2="341.1" stroke="#3a3a3a" stroke-width="0.8"/><line x1="730.5" y1="339.5" x2="730.5" y2="341.1" stroke="#3a3a3a" stroke-width="0.8"/><line x1="732.5" y1="339.5" x2="732.5" y2="341.1" stroke="#3a3a3a" stroke-width="0.8"/><line x1="734.5" y1="339.5" x2="734.5" y2="341.1" stroke="#3a3a3a" stroke-width="0.8"/><line x1="743.5" y1="339.5" x2="743.5" y2="341.1" stroke="#3a3a3a" stroke-width="0.8"/><line x1="747.5" y1="339.5" x2="747.5" y2="341.1" stroke="#3a3a3a" stroke-width="0.8"/><line x1="750.5" y1="339.5" x2="750.5" y2="341.1" stroke="#3a3a3a" stroke-width="0.8"/><line x1="753.5" y1="339.5" x2="753.5" y2="341.1" stroke="#3a3a3a" stroke-width="0.8"/><line x1="755.5" y1="339.5" x2="755.5" y2="341.1" stroke="#3a3a3a" stroke-width="0.8"/><line x1="757.5" y1="339.5" x2="757.5" y2="341.1" stroke="#3a3a3a" stroke-width="0.8"/><line x1="758.5" y1="339.5" x2="758.5" y2="341.1" stroke="#3a3a3a" stroke-width="0.8"/><line x1="759.5" y1="339.5" x2="759.5" y2="341.1" stroke="#3a3a3a" stroke-width="0.8"/><line x1="768.5" y1="339.5" x2="768.5" y2="341.1" stroke="#3a3a3a" stroke-width="0.8"/><line x1="773.5" y1="339.5" x2="773.5" y2="341.1" stroke="#3a3a3a" stroke-width="0.8"/><line x1="776.5" y1="339.5" x2="776.5" y2="341.1" stroke="#3a3a3a" stroke-width="0.8"/><line x1="779.5" y1="339.5" x2="779.5" y2="341.1" stroke="#3a3a3a" stroke-width="0.8"/><line x1="781.5" y1="339.5" x2="781.5" y2="341.1" stroke="#3a3a3a" stroke-width="0.8"/><line x1="782.5" y1="339.5" x2="782.5" y2="341.1" stroke="#3a3a3a" stroke-width="0.8"/><line x1="784.5" y1="339.5" x2="784.5" y2="341.1" stroke="#3a3a3a" stroke-width="0.8"/><line x1="785.5" y1="339.5" x2="785.5" y2="341.1" stroke="#3a3a3a" stroke-width="0.8"/><rect x="730.5" y="200.5" width="56" height="135" fill="none" stroke="#4a4a4a" stroke-width="1.1"/><rect x="730" y="200.1" width="27" height="11.3" fill="#fff" fill-opacity="0.6" stroke="#c8c8c8" stroke-width="0.8" rx="1.5"/><text transform="translate(731.50 208.70) translate(0.00 0) scale(0.868 1)" font-size="8.8">CD45+</text><text transform="translate(717.05 196.90) translate(-31.80 0) scale(0.980 1)" font-size="8.4">[A] PE-A / SSC-A</text><text transform="translate(616.30 270.25) rotate(-90) translate(-10.75 0) scale(0.733 1)" font-size="9.6">SSC-A</text><text transform="translate(717.05 362.50) translate(-9.35 0) scale(0.852 1)" font-size="9.4">PE-A</text><text transform="translate(616.73 353.5) scale(0.904 1)" font-size="19.8" fill="#000" stroke="#000" stroke-width=".75">H</text><line x1="757" y1="201.5" x2="786" y2="201.5" stroke="#555" stroke-width="1"/><path d="M727 396h1m-46 2h1m76 15h1m3 3h1m2 1h1m-10 5h1m3 0h1m-12 4h1m8 0h1m1 0h1m-18 3h1m-95 1h1m101 0h1m-12 1h1m15 1h1m-4 1h2m-6 1h1m9 0h1m7 0h1m-15 2h2m8 0h1m-9 1h1m-38 1h1m33 0h1m1 0h1m4 0h1m-4 1h1m-8 1h1m4 0h1m1 1h1m2 0h1m-65 1h1m58 0h1m1 0h1m2 0h1m1 0h1m2 0h1m-12 1h1m4 0h1m1 0h1m-12 1h2m6 0h1m-3 1h1m-7 1h1m6 0h1m3 0h1m-8 1h1m1 0h2m5 0h1m-14 1h3m5 0h1m1 0h1m6 0h1m8 0h1m-51 1h1m14 0h1m3 0h1m3 0h2m2 0h1m2 0h2m1 0h1m7 0h1m-17 1h1m3 0h2m-12 1h1m3 0h1m1 0h1m3 0h1m3 0h1m2 0h2m-16 1h2m4 0h2m2 0h2m5 0h1m3 0h1m-20 1h2m4 0h3m2 0h1m-50 1h1m34 0h2m1 0h6m2 0h1m3 0h1m-19 1h1m3 0h4m1 0h2m4 0h1m5 0h1m-15 1h1m1 0h2m1 0h1m4 0h1m-50 1h1m26 0h1m11 0h2m1 0h2m2 0h2m2 0h1m-11 1h2m3 0h1m-13 1h1m2 0h1m1 0h1m1 0h1m2 0h3m-11 1h1m4 0h1m2 0h1m2 0h3m1 0h1m-15 1h3m1 0h2m4 0h1m1 0h1m5 0h1m5 0h1m-29 1h1m2 0h1m3 0h1m1 0h1m1 0h1m3 0h1m-97 1h1m80 0h1m6 0h1m1 0h2m3 0h2m2 0h1m1 0h1m-25 1h1m6 0h2m2 0h3m1 0h2m3 0h1m-20 1h1m10 0h1m1 0h3m2 0h1m2 0h1m10 0h1m-90 1h1m54 0h1m9 0h6m5 0h1m1 0h2m2 0h1m-51 1h1m27 0h1m1 0h2m2 0h1m4 0h2m1 0h1m6 0h1m-28 1h1m4 0h1m4 0h4m2 0h1m2 0h3m2 0h1m-27 1h1m8 0h1m2 0h1m1 0h1m1 0h1m1 0h1m1 0h2m6 0h1m4 0h1m-81 1h1m38 0h1m12 0h1m1 0h1m3 0h2m1 0h1m1 0h1m7 0h1m2 0h2m-17 1h2m3 0h2m8 0h1m1 0h1m4 0h1m-89 1h1m25 0h1m33 0h1m3 0h1m6 0h1m1 0h1m1 0h1m2 0h1m9 0h1m-29 1h1m2 0h1m1 0h1m1 0h1m2 0h1m1 0h1m1 0h3m1 0h1m1 0h1m18 0h1m-42 1h1m3 0h1m3 0h2m2 0h1m2 0h2m8 0h1m2 0h1m2 0h1m4 0h1m-110 1h1m79 0h1m1 0h1m1 0h1m2 0h2m1 0h2m5 0h1m2 0h1m-22 1h2m2 0h4m3 0h1m2 0h1m2 0h1m3 0h2m-74 1h1m39 0h1m1 0h1m6 0h2m1 0h1m2 0h3m1 0h1m1 0h3m5 0h1m1 0h1m3 0h1m-95 1h1m70 0h3m1 0h7m2 0h1m-25 1h1m12 0h1m2 0h1m2 0h1m5 0h1m1 0h1m2 0h1m-22 1h1m1 0h2m1 0h5m2 0h1m3 0h2m7 0h1m-26 1h3m1 0h1m1 0h3m1 0h3m1 0h1m1 0h3m2 0h1m-33 1h1m3 0h1m5 0h1m2 0h1m2 0h3m3 0h1m4 0h1m5 0h1m2 0h1m-35 1h1m7 0h1m8 0h1m3 0h1m3 0h2m5 0h1m4 0h1m-33 1h1m4 0h1m1 0h1m1 0h3m4 0h2m6 0h1m5 0h1m2 0h1m-88 1h1m34 0h1m16 0h1m4 0h1m2 0h2m1 0h1m1 0h2m2 0h3m4 0h1m2 0h1m2 0h1m-61 1h1m4 0h1m28 0h1m2 0h1m3 0h1m3 0h2m1 0h1m7 0h1m3 0h2m-66 1h1m34 0h1m2 0h2m1 0h1m2 0h2m1 0h2m1 0h1m1 0h2m1 0h1m1 0h1m1 0h1m3 0h1m1 0h1m1 0h1m-30 1h1m1 0h1m7 0h2m4 0h3m1 0h1m1 0h1m-31 1h2m9 0h1m1 0h1m1 0h1m6 0h1m1 0h1m1 0h1m5 0h1m3 0h1m-48 1h1m17 0h1m4 0h1m4 0h1m1 0h1m3 0h1m3 0h2m2 0h1m2 0h2m2 0h1m-92 1h1m38 0h1m14 0h1m10 0h1m2 0h1m2 0h1m1 0h2m1 0h2m1 0h1m2 0h2m4 0h1m2 0h2m5 0h1m-80 1h1m40 0h1m2 0h1m2 0h1m3 0h1m3 0h1m4 0h1m5 0h2m1 0h1m-35 1h1m11 0h1m8 0h1m1 0h1m2 0h2m5 0h1m3 0h1m2 0h1m-51 1h1m11 0h1m13 0h1m3 0h1m4 0h1m2 0h1m3 0h1m3 0h1m-93 1h1m3 0h1m13 0h1m51 0h3m2 0h1m4 0h5m1 0h3m10 0h1m1 0h1m-78 1h1m44 0h1m3 0h1m2 0h1m5 0h2m5 0h1m-86 1h1m46 0h1m8 0h1m6 0h1m1 0h1m2 0h1m1 0h2m1 0h1m3 0h2m4 0h1m1 0h2m2 0h2m-60 1h1m21 0h1m14 0h2m3 0h2m2 0h1m4 0h5m1 0h1m7 0h2m-77 1h2m3 0h1m36 0h1m4 0h2m7 0h1m2 0h1m6 0h1m13 0h1m-84 1h1m45 0h2m8 0h1m2 0h1m5 0h1m2 0h3m-24 1h1m1 0h1m6 0h1m3 0h1m2 0h4m6 0h2m-23 1h1m7 0h1m1 0h2m5 0h3m-41 1h1m7 0h1m10 0h1m3 0h1m4 0h2m2 0h1m2 0h1m3 0h1m-35 1h1m5 0h1m6 0h1m10 0h1m2 0h1m6 0h1m1 0h1m-22 1h1m3 0h1m2 0h1m15 0h1m-83 1h1m34 0h1m31 0h2m2 0h1m5 0h1m-19 1h2m22 0h1m-70 1h1m45 0h1m8 0h1m6 0h2m-47 1h1m19 0h1m2 0h1m14 0h1m3 0h1m-115 1h1m36 0h1m43 0h1m34 0h1m2 0h1m4 0h1m-112 1h1m17 0h1m13 0h1m54 0h1m3 0h1m1 0h1m3 0h1m-16 1h1m7 0h2m-11 2h1m18 0h1m-82 1h1m8 0h2m8 0h1m20 0h1m24 0h1m10 0h1m-92 1h1m57 0h1m36 0h1m8 0h1m4 0h1m-86 1h1m-27 1h1m66 0h1m20 1h1m-61 1h1m5 0h1m-24 1h1m80 2h1" stroke="#ff3030" stroke-opacity="0.62" transform="translate(0 .5)"/><path d="M769 480h1m-1 1h1m0 1h1m-9 2h1m3 0h1m1 0h1m-9 1h1m4 0h1m3 0h1m1 0h2m-5 1h1m2 0h1m-13 1h1m1 0h1m1 0h2m1 0h2m-9 1h1m6 0h2m1 0h1m5 0h1m-17 1h1m1 0h3m1 0h3m2 0h2m5 0h1m-20 1h1m4 0h3m1 0h8m2 0h2m1 0h1m-26 1h1m4 0h1m1 0h8m1 0h2m6 0h1m-22 1h2m3 0h2m1 0h4m1 0h2m1 0h3m-20 1h1m5 0h2m1 0h8m1 0h2m2 0h1m-26 1h1m5 0h1m1 0h1m1 0h7m1 0h4m3 0h1m-22 1h1m1 0h2m1 0h8m1 0h4m4 0h1m-20 1h1m1 0h12m3 0h1m1 0h1m-27 1h1m4 0h2m1 0h1m2 0h6m2 0h2m-17 1h1m2 0h2m2 0h8m1 0h1m4 0h1m-18 1h2m2 0h3m1 0h3m6 0h1m-21 1h1m4 0h1m1 0h3m1 0h2m3 0h1m5 0h1m-19 1h2m3 0h1m2 0h2m1 0h2m3 0h1m-21 1h1m3 0h1m3 0h1m1 0h1m-6 1h1m1 0h1m7 0h2m-16 1h1m1 0h2m8 0h2m-10 1h2m1 0h1m-2 2h1m3 0h1m4 0h1" stroke="#ff0000" transform="translate(0 .5)"/><path d="M775 494h1m-2 5h1m-2 1h1m1 0h1m-9 1h1m4 0h1m3 1h1m-5 1h2m-5 1h1m5 0h1m-7 1h3m1 0h1m2 0h2m-13 1h1m3 0h1m2 0h1m1 0h3m-8 1h2m1 0h4m-10 1h1m1 0h1m1 0h7m-11 1h1m2 0h1m1 0h6m2 0h1m-9 1h4m1 0h1m-10 1h4m1 0h1m1 0h1m1 0h1m-13 1h3m1 0h2m1 0h2m1 0h2m-10 1h2m4 0h3m2 0h1m-14 1h1m2 0h2m3 0h3m-9 1h1m5 0h1m3 0h1m-5 1h1m1 0h2m-10 1h1m2 0h1m-2 1h1m3 0h1m-6 1h1" stroke="#0000ff" transform="translate(0 .5)"/><ellipse cx="768" cy="494.4" rx="4.5" ry="5.5" fill="#ff0000" fill-opacity="0.85" filter="url(#bl06)"/><path d="M765.0 511.2L768.3 516.0L773.0 514.6L777.8 509.9L778.1 505.8L775.7 503.1L771.0 503.8L766.3 507.2Z" fill="#0000ff" filter="url(#bl06)"/><path d="M765.8 511.0L768.7 515.3L772.8 513.8L777.0 509.8L777.4 506.2L775.3 503.8L771.1 504.6L767.1 507.4Z" fill="#0000ff"/><line x1="647.5" y1="386.5" x2="786.5" y2="386.5" stroke="#8a8a8a" stroke-width="1"/><line x1="786.5" y1="386.5" x2="786.5" y2="524.5" stroke="#8a8a8a" stroke-width="1"/><line x1="647.5" y1="386" x2="647.5" y2="525" stroke="#3a3a3a" stroke-width="1"/><line x1="647" y1="524.5" x2="787" y2="524.5" stroke="#3a3a3a" stroke-width="1"/><line x1="645.9" y1="510.5" x2="647.5" y2="510.5" stroke="#3a3a3a" stroke-width="1"/><line x1="644.5" y1="496.5" x2="647.5" y2="496.5" stroke="#3a3a3a" stroke-width="1"/><text transform="translate(643.70 499.60) translate(-9.90 0) scale(0.848 1)" font-size="7.0">200</text><line x1="645.9" y1="482.5" x2="647.5" y2="482.5" stroke="#3a3a3a" stroke-width="1"/><line x1="644.5" y1="469.5" x2="647.5" y2="469.5" stroke="#3a3a3a" stroke-width="1"/><text transform="translate(643.70 471.90) translate(-9.90 0) scale(0.848 1)" font-size="7.0">400</text><line x1="645.9" y1="455.5" x2="647.5" y2="455.5" stroke="#3a3a3a" stroke-width="1"/><line x1="644.5" y1="441.5" x2="647.5" y2="441.5" stroke="#3a3a3a" stroke-width="1"/><text transform="translate(643.70 444.20) translate(-9.90 0) scale(0.848 1)" font-size="7.0">600</text><line x1="645.9" y1="427.5" x2="647.5" y2="427.5" stroke="#3a3a3a" stroke-width="1"/><line x1="644.5" y1="413.5" x2="647.5" y2="413.5" stroke="#3a3a3a" stroke-width="1"/><text transform="translate(643.70 416.50) translate(-9.90 0) scale(0.848 1)" font-size="7.0">800</text><line x1="645.9" y1="399.5" x2="647.5" y2="399.5" stroke="#3a3a3a" stroke-width="1"/><line x1="644.5" y1="386.5" x2="647.5" y2="386.5" stroke="#3a3a3a" stroke-width="1"/><text transform="translate(643.70 388.80) translate(-13.20 0) scale(0.848 1)" font-size="7.0">1000</text><text x="627.1" y="398.5" font-size="7" text-anchor="middle" transform="rotate(-90 627.1 398.5)">(x 10<tspan font-size="4" dy="-2.2">3</tspan><tspan dy="2.2">)</tspan></text><line x1="653.5" y1="524.5" x2="653.5" y2="527.5" stroke="#3a3a3a" stroke-width="1"/><text transform="translate(653.00 535.30) translate(-8.25 0) scale(0.922 1)" font-size="7.0">-1000</text><line x1="678.5" y1="524.5" x2="678.5" y2="527.5" stroke="#3a3a3a" stroke-width="1"/><text transform="translate(678.00 535.30) translate(-1.65 0) scale(0.848 1)" font-size="7.0">0</text><line x1="704.5" y1="524.5" x2="704.5" y2="527.5" stroke="#3a3a3a" stroke-width="1"/><text transform="translate(704.50 535.30) translate(-6.60 0) scale(0.848 1)" font-size="7.0">1000</text><line x1="737.5" y1="524.5" x2="737.5" y2="527.5" stroke="#3a3a3a" stroke-width="1"/><text x="732.6" y="535.3" font-size="7.0"><tspan textLength="6.6" lengthAdjust="spacingAndGlyphs">10</tspan><tspan font-size="4.2" dy="-2.6">4</tspan></text><line x1="761.5" y1="524.5" x2="761.5" y2="527.5" stroke="#3a3a3a" stroke-width="1"/><text x="756.6" y="535.3" font-size="7.0"><tspan textLength="6.6" lengthAdjust="spacingAndGlyphs">10</tspan><tspan font-size="4.2" dy="-2.6">5</tspan></text><line x1="786.5" y1="524.5" x2="786.5" y2="527.5" stroke="#3a3a3a" stroke-width="1"/><text x="781.6" y="535.3" font-size="7.0"><tspan textLength="6.6" lengthAdjust="spacingAndGlyphs">10</tspan><tspan font-size="4.2" dy="-2.6">6</tspan></text><line x1="714.5" y1="524.5" x2="714.5" y2="526.1" stroke="#3a3a3a" stroke-width="0.8"/><line x1="720.5" y1="524.5" x2="720.5" y2="526.1" stroke="#3a3a3a" stroke-width="0.8"/><line x1="724.5" y1="524.5" x2="724.5" y2="526.1" stroke="#3a3a3a" stroke-width="0.8"/><line x1="727.5" y1="524.5" x2="727.5" y2="526.1" stroke="#3a3a3a" stroke-width="0.8"/><line x1="729.5" y1="524.5" x2="729.5" y2="526.1" stroke="#3a3a3a" stroke-width="0.8"/><line x1="731.5" y1="524.5" x2="731.5" y2="526.1" stroke="#3a3a3a" stroke-width="0.8"/><line x1="733.5" y1="524.5" x2="733.5" y2="526.1" stroke="#3a3a3a" stroke-width="0.8"/><line x1="735.5" y1="524.5" x2="735.5" y2="526.1" stroke="#3a3a3a" stroke-width="0.8"/><line x1="744.5" y1="524.5" x2="744.5" y2="526.1" stroke="#3a3a3a" stroke-width="0.8"/><line x1="748.5" y1="524.5" x2="748.5" y2="526.1" stroke="#3a3a3a" stroke-width="0.8"/><line x1="751.5" y1="524.5" x2="751.5" y2="526.1" stroke="#3a3a3a" stroke-width="0.8"/><line x1="753.5" y1="524.5" x2="753.5" y2="526.1" stroke="#3a3a3a" stroke-width="0.8"/><line x1="755.5" y1="524.5" x2="755.5" y2="526.1" stroke="#3a3a3a" stroke-width="0.8"/><line x1="757.5" y1="524.5" x2="757.5" y2="526.1" stroke="#3a3a3a" stroke-width="0.8"/><line x1="758.5" y1="524.5" x2="758.5" y2="526.1" stroke="#3a3a3a" stroke-width="0.8"/><line x1="759.5" y1="524.5" x2="759.5" y2="526.1" stroke="#3a3a3a" stroke-width="0.8"/><line x1="768.5" y1="524.5" x2="768.5" y2="526.1" stroke="#3a3a3a" stroke-width="0.8"/><line x1="772.5" y1="524.5" x2="772.5" y2="526.1" stroke="#3a3a3a" stroke-width="0.8"/><line x1="776.5" y1="524.5" x2="776.5" y2="526.1" stroke="#3a3a3a" stroke-width="0.8"/><line x1="778.5" y1="524.5" x2="778.5" y2="526.1" stroke="#3a3a3a" stroke-width="0.8"/><line x1="780.5" y1="524.5" x2="780.5" y2="526.1" stroke="#3a3a3a" stroke-width="0.8"/><line x1="782.5" y1="524.5" x2="782.5" y2="526.1" stroke="#3a3a3a" stroke-width="0.8"/><line x1="783.5" y1="524.5" x2="783.5" y2="526.1" stroke="#3a3a3a" stroke-width="0.8"/><line x1="784.5" y1="524.5" x2="784.5" y2="526.1" stroke="#3a3a3a" stroke-width="0.8"/><rect x="724.5" y="386.5" width="61" height="136" fill="none" stroke="#4a4a4a" stroke-width="1.1"/><rect x="723.9" y="385.6" width="27" height="11.3" fill="#fff" fill-opacity="0.6" stroke="#c8c8c8" stroke-width="0.8" rx="1.5"/><text transform="translate(725.40 394.20) translate(0.00 0) scale(0.868 1)" font-size="8.8">CD45+</text><text transform="translate(716.85 382.40) translate(-31.80 0) scale(0.980 1)" font-size="8.4">[A] PE-A / SSC-A</text><text transform="translate(616.30 455.75) rotate(-90) translate(-10.75 0) scale(0.733 1)" font-size="9.6">SSC-A</text><text transform="translate(716.85 548.00) translate(-9.35 0) scale(0.852 1)" font-size="9.4">PE-A</text><text transform="translate(616.80 539.3) scale(0.859 1)" font-size="19.8" fill="#000" stroke="#000" stroke-width=".75">L</text><path d="M439.8 156.6L439.8 156.6L440.3 156.6L440.8 156.6L441.3 156.6L441.8 156.6L442.3 156.6L442.8 156.6L443.3 156.6L443.8 156.6L444.3 156.6L444.8 156.6L445.3 156.6L445.8 156.6L446.3 156.6L446.8 156.6L447.3 156.6L447.8 156.6L448.3 156.6L448.8 156.6L449.3 156.6L449.8 156.6L450.3 156.6L450.8 156.6L451.3 156.6L451.8 156.6L452.3 156.6L452.8 156.6L453.3 156.6L453.8 156.6L454.3 156.6L454.8 156.6L455.3 156.6L455.8 156.6L456.3 156.6L456.8 156.6L457.3 156.6L457.8 156.6L458.3 156.6L458.8 156.6L459.3 156.6L459.8 156.6L460.3 156.6L460.8 156.6L461.3 156.6L461.8 156.6L462.3 156.6L462.8 156.6L463.3 156.6L463.8 156.4L464.3 155.2L464.8 155.2L465.3 155.7L465.8 155.1L466.3 154.2L466.8 154.0L467.3 154.1L467.8 153.2L468.3 153.5L468.8 152.1L469.3 151.2L469.8 149.3L470.3 145.1L470.8 142.4L471.3 140.8L471.8 138.0L472.3 132.9L472.8 127.7L473.3 119.0L473.8 111.5L474.3 104.6L474.8 102.4L475.3 97.3L475.8 90.4L476.3 89.4L476.8 82.3L477.3 70.9L477.8 68.7L478.3 56.4L478.8 46.6L479.3 52.1L479.8 46.7L480.3 44.9L480.8 37.9L481.3 31.3L481.8 32.8L482.3 28.2L482.8 27.2L483.3 32.2L483.8 33.8L484.3 26.1L484.8 45.7L485.3 42.1L485.8 45.4L486.3 43.8L486.8 48.4L487.3 35.2L487.8 46.9L488.3 59.3L488.8 71.5L489.3 75.6L489.8 81.1L490.3 78.4L490.8 89.3L491.3 89.4L491.8 92.3L492.3 99.6L492.8 104.5L493.3 103.6L493.8 109.7L494.3 114.3L494.8 116.9L495.3 120.6L495.8 120.9L496.3 127.2L496.8 126.0L497.3 130.5L497.8 132.1L498.3 134.4L498.8 135.7L499.3 138.0L499.8 141.1L500.3 141.1L500.8 143.5L501.3 144.0L501.8 147.0L502.3 147.4L502.8 149.4L503.3 150.2L503.8 150.3L504.3 152.5L504.8 152.8L505.3 154.4L505.8 156.4L506.3 154.8L506.8 156.4L507.3 156.3L507.8 155.5L508.3 156.6L508.8 155.5L509.3 155.9L509.8 156.5L510.3 156.3L510.8 156.4L511.3 156.5L511.8 156.6L512.3 156.6L512.8 156.6L513.3 156.6L513.8 156.6L514.3 156.6L514.8 156.6L515.3 156.6L515.8 156.6L516.3 156.6L516.8 156.6L517.3 156.6L517.8 156.6L518.3 156.6L518.8 156.6L519.3 156.6L519.8 156.6L520.3 156.6L520.8 156.6L521.3 156.6L521.8 156.6L522.3 156.6L522.8 156.6L523.3 156.6L523.8 156.6L524.3 156.6L524.8 156.6L525.3 156.6L525.8 156.6L526.3 156.6L526.8 156.6L527.3 156.6L527.8 156.6L528.3 156.6L528.8 156.6L529.3 156.6L529.8 156.6L530.3 156.6L530.8 156.6L531.3 156.6L531.8 156.6L532.3 156.6L532.8 156.6L533.3 156.6L533.8 156.6L534.3 156.6L534.8 156.6L535.3 156.6L535.8 156.6L536.3 156.6L536.8 156.6L537.3 156.6L537.8 156.6L538.3 156.6L538.8 156.6L539.3 156.6L539.8 156.6L540.3 156.6L540.8 156.6L541.3 156.6L541.8 156.6L542.3 156.6L542.8 156.6L543.3 156.6L543.8 156.6L544.3 156.6L544.8 156.6L545.3 156.6L545.8 156.6L546.3 156.6L546.8 156.6L547.3 156.6L547.8 156.6L548.3 156.6L548.8 156.6L549.3 156.6L549.8 156.6L550.3 156.6L550.8 156.6L551.3 156.6L551.8 156.6L552.3 156.6L552.8 156.6L553.3 156.6L553.8 156.6L554.3 156.6L554.8 156.6L555.3 156.6L555.8 156.6L556.3 156.6L556.8 156.6L557.3 156.6L557.8 156.6L558.3 156.6L558.8 156.6L559.3 156.6L559.8 156.6L560.3 156.6L560.8 156.6L561.3 156.6L561.8 156.6L562.3 156.6L562.8 156.6L563.3 156.6L563.8 156.6L564.3 156.6L564.8 156.6L565.3 156.6L565.8 156.6L566.3 156.6L566.8 156.6L567.3 156.6L567.8 156.6L568.3 156.6L568.8 156.6L569.3 156.6L569.8 156.6L570.3 156.6L570.8 156.6L571.3 156.6L571.8 156.6L572.3 156.6L572.8 156.6L573.3 156.6L573.8 156.6L574.3 156.6L574.8 156.6L575.3 156.6L575.8 156.6L576.3 156.6L576.8 156.6L577.3 156.6L577.8 156.6L578.3 156.6L578.8 156.6L579.3 156.6L579.8 156.6L580.3 156.6L580.8 156.6L581.3 156.6L581.8 156.6L582.3 156.6L582.8 156.6L583.3 156.6L583.8 156.6L584.3 156.6L584.8 156.6L585.3 156.6L585.3 156.6Z" fill="#b80048" stroke="#6a0024" stroke-width="1.1" stroke-linejoin="round"/><line x1="438.5" y1="18.5" x2="586.5" y2="18.5" stroke="#8a8a8a" stroke-width="1"/><line x1="586.5" y1="18.5" x2="586.5" y2="156.5" stroke="#8a8a8a" stroke-width="1"/><line x1="438.5" y1="18" x2="438.5" y2="157" stroke="#3a3a3a" stroke-width="1"/><line x1="438" y1="156.5" x2="587" y2="156.5" stroke="#3a3a3a" stroke-width="1"/><line x1="435.5" y1="156.5" x2="438.5" y2="156.5" stroke="#3a3a3a" stroke-width="1"/><text transform="translate(434.80 159.40) translate(-3.30 0) scale(0.848 1)" font-size="7.0">0</text><line x1="436.9" y1="151.5" x2="438.5" y2="151.5" stroke="#3a3a3a" stroke-width="0.8"/><line x1="436.9" y1="146.5" x2="438.5" y2="146.5" stroke="#3a3a3a" stroke-width="0.8"/><line x1="436.9" y1="141.5" x2="438.5" y2="141.5" stroke="#3a3a3a" stroke-width="0.8"/><line x1="436.9" y1="137.5" x2="438.5" y2="137.5" stroke="#3a3a3a" stroke-width="0.8"/><line x1="435.5" y1="132.5" x2="438.5" y2="132.5" stroke="#3a3a3a" stroke-width="1"/><text transform="translate(434.80 135.00) translate(-6.60 0) scale(0.848 1)" font-size="7.0">10</text><line x1="436.9" y1="127.5" x2="438.5" y2="127.5" stroke="#3a3a3a" stroke-width="0.8"/><line x1="436.9" y1="122.5" x2="438.5" y2="122.5" stroke="#3a3a3a" stroke-width="0.8"/><line x1="436.9" y1="117.5" x2="438.5" y2="117.5" stroke="#3a3a3a" stroke-width="0.8"/><line x1="436.9" y1="112.5" x2="438.5" y2="112.5" stroke="#3a3a3a" stroke-width="0.8"/><line x1="435.5" y1="107.5" x2="438.5" y2="107.5" stroke="#3a3a3a" stroke-width="1"/><text transform="translate(434.80 110.60) translate(-6.60 0) scale(0.848 1)" font-size="7.0">20</text><line x1="436.9" y1="102.5" x2="438.5" y2="102.5" stroke="#3a3a3a" stroke-width="0.8"/><line x1="436.9" y1="98.5" x2="438.5" y2="98.5" stroke="#3a3a3a" stroke-width="0.8"/><line x1="436.9" y1="93.5" x2="438.5" y2="93.5" stroke="#3a3a3a" stroke-width="0.8"/><line x1="436.9" y1="88.5" x2="438.5" y2="88.5" stroke="#3a3a3a" stroke-width="0.8"/><line x1="435.5" y1="83.5" x2="438.5" y2="83.5" stroke="#3a3a3a" stroke-width="1"/><text transform="translate(434.80 86.20) translate(-6.60 0) scale(0.848 1)" font-size="7.0">30</text><line x1="436.9" y1="78.5" x2="438.5" y2="78.5" stroke="#3a3a3a" stroke-width="0.8"/><line x1="436.9" y1="73.5" x2="438.5" y2="73.5" stroke="#3a3a3a" stroke-width="0.8"/><line x1="436.9" y1="68.5" x2="438.5" y2="68.5" stroke="#3a3a3a" stroke-width="0.8"/><line x1="436.9" y1="63.5" x2="438.5" y2="63.5" stroke="#3a3a3a" stroke-width="0.8"/><line x1="435.5" y1="59.5" x2="438.5" y2="59.5" stroke="#3a3a3a" stroke-width="1"/><text transform="translate(434.80 61.80) translate(-6.60 0) scale(0.848 1)" font-size="7.0">40</text><line x1="436.9" y1="54.5" x2="438.5" y2="54.5" stroke="#3a3a3a" stroke-width="0.8"/><line x1="436.9" y1="49.5" x2="438.5" y2="49.5" stroke="#3a3a3a" stroke-width="0.8"/><line x1="436.9" y1="44.5" x2="438.5" y2="44.5" stroke="#3a3a3a" stroke-width="0.8"/><line x1="436.9" y1="39.5" x2="438.5" y2="39.5" stroke="#3a3a3a" stroke-width="0.8"/><line x1="435.5" y1="34.5" x2="438.5" y2="34.5" stroke="#3a3a3a" stroke-width="1"/><text transform="translate(434.80 37.40) translate(-6.60 0) scale(0.848 1)" font-size="7.0">50</text><line x1="436.9" y1="29.5" x2="438.5" y2="29.5" stroke="#3a3a3a" stroke-width="0.8"/><line x1="436.9" y1="24.5" x2="438.5" y2="24.5" stroke="#3a3a3a" stroke-width="0.8"/><line x1="436.9" y1="19.5" x2="438.5" y2="19.5" stroke="#3a3a3a" stroke-width="0.8"/><line x1="445.5" y1="156.5" x2="445.5" y2="159.5" stroke="#3a3a3a" stroke-width="1"/><text transform="translate(445.00 167.40) translate(-8.25 0) scale(0.922 1)" font-size="7.0">-1000</text><line x1="470.5" y1="156.5" x2="470.5" y2="159.5" stroke="#3a3a3a" stroke-width="1"/><text transform="translate(470.50 167.40) translate(-1.65 0) scale(0.848 1)" font-size="7.0">0</text><line x1="498.5" y1="156.5" x2="498.5" y2="159.5" stroke="#3a3a3a" stroke-width="1"/><text transform="translate(498.00 167.40) translate(-6.60 0) scale(0.848 1)" font-size="7.0">1000</text><line x1="533.5" y1="156.5" x2="533.5" y2="159.5" stroke="#3a3a3a" stroke-width="1"/><text x="528.6" y="167.4" font-size="7.0"><tspan textLength="6.6" lengthAdjust="spacingAndGlyphs">10</tspan><tspan font-size="4.2" dy="-2.6">4</tspan></text><line x1="560.5" y1="156.5" x2="560.5" y2="159.5" stroke="#3a3a3a" stroke-width="1"/><text x="555.6" y="167.4" font-size="7.0"><tspan textLength="6.6" lengthAdjust="spacingAndGlyphs">10</tspan><tspan font-size="4.2" dy="-2.6">5</tspan></text><line x1="586.5" y1="156.5" x2="586.5" y2="159.5" stroke="#3a3a3a" stroke-width="1"/><text x="581.6" y="167.4" font-size="7.0"><tspan textLength="6.6" lengthAdjust="spacingAndGlyphs">10</tspan><tspan font-size="4.2" dy="-2.6">6</tspan></text><line x1="541.5" y1="156.5" x2="541.5" y2="158.1" stroke="#3a3a3a" stroke-width="0.8"/><line x1="545.5" y1="156.5" x2="545.5" y2="158.1" stroke="#3a3a3a" stroke-width="0.8"/><line x1="549.5" y1="156.5" x2="549.5" y2="158.1" stroke="#3a3a3a" stroke-width="0.8"/><line x1="551.5" y1="156.5" x2="551.5" y2="158.1" stroke="#3a3a3a" stroke-width="0.8"/><line x1="554.5" y1="156.5" x2="554.5" y2="158.1" stroke="#3a3a3a" stroke-width="0.8"/><line x1="555.5" y1="156.5" x2="555.5" y2="158.1" stroke="#3a3a3a" stroke-width="0.8"/><line x1="557.5" y1="156.5" x2="557.5" y2="158.1" stroke="#3a3a3a" stroke-width="0.8"/><line x1="558.5" y1="156.5" x2="558.5" y2="158.1" stroke="#3a3a3a" stroke-width="0.8"/><line x1="567.5" y1="156.5" x2="567.5" y2="158.1" stroke="#3a3a3a" stroke-width="0.8"/><line x1="572.5" y1="156.5" x2="572.5" y2="158.1" stroke="#3a3a3a" stroke-width="0.8"/><line x1="575.5" y1="156.5" x2="575.5" y2="158.1" stroke="#3a3a3a" stroke-width="0.8"/><line x1="578.5" y1="156.5" x2="578.5" y2="158.1" stroke="#3a3a3a" stroke-width="0.8"/><line x1="580.5" y1="156.5" x2="580.5" y2="158.1" stroke="#3a3a3a" stroke-width="0.8"/><line x1="581.5" y1="156.5" x2="581.5" y2="158.1" stroke="#3a3a3a" stroke-width="0.8"/><line x1="583.5" y1="156.5" x2="583.5" y2="158.1" stroke="#3a3a3a" stroke-width="0.8"/><line x1="584.5" y1="156.5" x2="584.5" y2="158.1" stroke="#3a3a3a" stroke-width="0.8"/><line x1="545.5" y1="121.5" x2="586.5" y2="121.5" stroke="#555" stroke-width="1.1"/><line x1="545.5" y1="119" x2="545.5" y2="124" stroke="#555" stroke-width="1.1"/><rect x="550" y="102.9" width="28.5" height="11.3" fill="#fff" fill-opacity="0.6" stroke="#c8c8c8" stroke-width="0.8" rx="1.5"/><text transform="translate(551.50 111.50) translate(0.00 0) scale(0.923 1)" font-size="8.8">CD14+</text><text transform="translate(512.40 15.00) translate(-31.80 0) scale(1.052 1)" font-size="8.4">[CD45+] FITC-A</text><text transform="translate(415.30 87.80) rotate(-90) translate(-11.90 0) scale(0.929 1)" font-size="9.6">Count</text><text transform="translate(512.40 179.60) translate(-13.70 0) scale(0.905 1)" font-size="9.4">FITC-A</text><text transform="translate(418.48 173.3) scale(0.718 1)" font-size="19.8" fill="#000" stroke="#000" stroke-width=".75">C</text><path d="M238.6 339.6L238.6 339.6L239.1 339.6L239.6 339.6L240.1 339.6L240.6 339.6L241.1 339.6L241.6 339.6L242.1 339.6L242.6 339.6L243.1 339.6L243.6 339.6L244.1 339.6L244.6 339.6L245.1 339.6L245.6 339.6L246.1 339.6L246.6 339.6L247.1 339.6L247.6 339.6L248.1 339.6L248.6 339.6L249.1 339.6L249.6 339.6L250.1 339.6L250.6 339.6L251.1 339.5L251.6 339.5L252.1 339.5L252.6 339.4L253.1 339.4L253.6 339.4L254.1 339.3L254.6 339.3L255.1 339.6L255.6 339.6L256.1 339.6L256.6 339.0L257.1 339.5L257.6 339.3L258.1 339.0L258.6 339.2L259.1 338.7L259.6 337.2L260.1 339.0L260.6 338.8L261.1 338.5L261.6 338.1L262.1 337.2L262.6 337.1L263.1 334.8L263.6 336.2L264.1 333.4L264.6 336.3L265.1 333.9L265.6 332.7L266.1 331.9L266.6 330.6L267.1 330.2L267.6 329.5L268.1 329.7L268.6 328.0L269.1 328.2L269.6 327.2L270.1 328.0L270.6 325.4L271.1 325.2L271.6 324.6L272.1 322.1L272.6 322.3L273.1 323.4L273.6 322.6L274.1 323.7L274.6 320.4L275.1 322.2L275.6 319.7L276.1 318.7L276.6 321.0L277.1 317.1L277.6 317.2L278.1 314.9L278.6 313.3L279.1 316.4L279.6 311.3L280.1 309.2L280.6 309.4L281.1 310.3L281.6 307.4L282.1 303.0L282.6 302.0L283.1 302.1L283.6 303.0L284.1 302.2L284.6 296.0L285.1 293.6L285.6 294.7L286.1 291.5L286.6 290.1L287.1 293.4L287.6 290.4L288.1 288.1L288.6 288.7L289.1 282.3L289.6 284.8L290.1 279.0L290.6 279.5L291.1 279.2L291.6 275.9L292.1 277.0L292.6 273.8L293.1 269.8L293.6 268.7L294.1 266.7L294.6 267.6L295.1 259.6L295.6 259.8L296.1 264.1L296.6 260.9L297.1 252.7L297.6 252.9L298.1 252.4L298.6 244.2L299.1 241.3L299.6 247.3L300.1 230.8L300.6 229.8L301.1 238.1L301.6 228.0L302.1 214.0L302.6 215.1L303.1 228.2L303.6 232.6L304.1 224.1L304.6 232.2L305.1 222.1L305.6 223.0L306.1 228.0L306.6 224.7L307.1 228.4L307.6 227.6L308.1 232.8L308.6 232.3L309.1 219.6L309.6 219.3L310.1 234.9L310.6 236.1L311.1 245.8L311.6 250.9L312.1 256.9L312.6 264.5L313.1 259.0L313.6 261.7L314.1 266.1L314.6 271.5L315.1 268.4L315.6 275.7L316.1 276.0L316.6 275.9L317.1 282.9L317.6 288.7L318.1 288.3L318.6 289.2L319.1 291.1L319.6 294.2L320.1 299.7L320.6 299.6L321.1 304.6L321.6 305.3L322.1 308.8L322.6 310.3L323.1 315.4L323.6 318.5L324.1 319.4L324.6 320.2L325.1 323.0L325.6 323.2L326.1 324.1L326.6 326.5L327.1 327.7L327.6 327.9L328.1 329.1L328.6 330.0L329.1 329.8L329.6 331.1L330.1 332.3L330.6 331.3L331.1 332.2L331.6 332.6L332.1 332.3L332.6 333.0L333.1 334.4L333.6 334.0L334.1 333.8L334.6 334.7L335.1 333.5L335.6 334.0L336.1 335.5L336.6 333.6L337.1 334.8L337.6 334.8L338.1 334.9L338.6 333.8L339.1 334.9L339.6 333.4L340.1 335.6L340.6 334.3L341.1 334.8L341.6 334.9L342.1 335.0L342.6 336.4L343.1 335.1L343.6 333.3L344.1 333.8L344.6 334.6L345.1 334.8L345.6 333.8L346.1 334.0L346.6 334.8L347.1 333.8L347.6 333.3L348.1 333.9L348.6 332.9L349.1 331.8L349.6 330.4L350.1 331.3L350.6 330.3L351.1 327.6L351.6 326.3L352.1 326.8L352.6 324.7L353.1 324.9L353.6 324.6L354.1 320.4L354.6 318.1L355.1 316.5L355.6 312.3L356.1 309.5L356.6 305.2L357.1 302.8L357.6 299.5L358.1 297.2L358.6 293.1L359.1 291.6L359.6 290.5L360.1 285.4L360.6 286.4L361.1 281.5L361.6 269.5L362.1 268.7L362.6 281.7L363.1 295.7L363.6 299.5L364.1 302.9L364.6 307.0L365.1 310.8L365.6 315.3L366.1 320.6L366.6 324.2L367.1 325.9L367.6 326.7L368.1 328.5L368.6 330.2L369.1 331.0L369.6 332.5L370.1 333.7L370.6 335.5L371.1 335.7L371.6 338.1L372.1 337.2L372.6 336.9L373.1 336.9L373.6 338.6L374.1 338.3L374.6 338.5L375.1 337.9L375.6 338.5L376.1 338.8L376.6 339.6L377.1 338.5L377.6 339.6L378.1 339.6L378.6 339.0L379.1 338.5L379.6 338.9L380.1 339.6L380.6 339.1L381.1 338.9L381.6 339.5L382.1 339.1L382.6 338.8L383.1 338.9L383.1 339.6Z" fill="#b80048" stroke="#6a0024" stroke-width="1.1" stroke-linejoin="round"/><line x1="237.5" y1="200.5" x2="384.5" y2="200.5" stroke="#8a8a8a" stroke-width="1"/><line x1="384.5" y1="200.5" x2="384.5" y2="339.5" stroke="#8a8a8a" stroke-width="1"/><line x1="237.5" y1="200" x2="237.5" y2="340" stroke="#3a3a3a" stroke-width="1"/><line x1="237" y1="339.5" x2="385" y2="339.5" stroke="#3a3a3a" stroke-width="1"/><line x1="234.5" y1="339.5" x2="237.5" y2="339.5" stroke="#3a3a3a" stroke-width="1"/><text transform="translate(233.60 342.40) translate(-3.30 0) scale(0.848 1)" font-size="7.0">0</text><line x1="235.9" y1="332.5" x2="237.5" y2="332.5" stroke="#3a3a3a" stroke-width="0.8"/><line x1="235.9" y1="325.5" x2="237.5" y2="325.5" stroke="#3a3a3a" stroke-width="0.8"/><line x1="235.9" y1="318.5" x2="237.5" y2="318.5" stroke="#3a3a3a" stroke-width="0.8"/><line x1="235.9" y1="311.5" x2="237.5" y2="311.5" stroke="#3a3a3a" stroke-width="0.8"/><line x1="234.5" y1="303.5" x2="237.5" y2="303.5" stroke="#3a3a3a" stroke-width="1"/><text transform="translate(233.60 306.70) translate(-6.60 0) scale(0.848 1)" font-size="7.0">10</text><line x1="235.9" y1="296.5" x2="237.5" y2="296.5" stroke="#3a3a3a" stroke-width="0.8"/><line x1="235.9" y1="289.5" x2="237.5" y2="289.5" stroke="#3a3a3a" stroke-width="0.8"/><line x1="235.9" y1="282.5" x2="237.5" y2="282.5" stroke="#3a3a3a" stroke-width="0.8"/><line x1="235.9" y1="275.5" x2="237.5" y2="275.5" stroke="#3a3a3a" stroke-width="0.8"/><line x1="234.5" y1="268.5" x2="237.5" y2="268.5" stroke="#3a3a3a" stroke-width="1"/><text transform="translate(233.60 271.00) translate(-6.60 0) scale(0.848 1)" font-size="7.0">20</text><line x1="235.9" y1="261.5" x2="237.5" y2="261.5" stroke="#3a3a3a" stroke-width="0.8"/><line x1="235.9" y1="253.5" x2="237.5" y2="253.5" stroke="#3a3a3a" stroke-width="0.8"/><line x1="235.9" y1="246.5" x2="237.5" y2="246.5" stroke="#3a3a3a" stroke-width="0.8"/><line x1="235.9" y1="239.5" x2="237.5" y2="239.5" stroke="#3a3a3a" stroke-width="0.8"/><line x1="234.5" y1="232.5" x2="237.5" y2="232.5" stroke="#3a3a3a" stroke-width="1"/><text transform="translate(233.60 235.30) translate(-6.60 0) scale(0.848 1)" font-size="7.0">30</text><line x1="235.9" y1="225.5" x2="237.5" y2="225.5" stroke="#3a3a3a" stroke-width="0.8"/><line x1="235.9" y1="218.5" x2="237.5" y2="218.5" stroke="#3a3a3a" stroke-width="0.8"/><line x1="235.9" y1="211.5" x2="237.5" y2="211.5" stroke="#3a3a3a" stroke-width="0.8"/><line x1="235.9" y1="203.5" x2="237.5" y2="203.5" stroke="#3a3a3a" stroke-width="0.8"/><line x1="243.5" y1="339.5" x2="243.5" y2="342.5" stroke="#3a3a3a" stroke-width="1"/><text transform="translate(243.00 350.40) translate(-8.25 0) scale(0.922 1)" font-size="7.0">-1000</text><line x1="270.5" y1="339.5" x2="270.5" y2="342.5" stroke="#3a3a3a" stroke-width="1"/><text transform="translate(270.00 350.40) translate(-1.65 0) scale(0.848 1)" font-size="7.0">0</text><line x1="298.5" y1="339.5" x2="298.5" y2="342.5" stroke="#3a3a3a" stroke-width="1"/><text transform="translate(298.00 350.40) translate(-6.60 0) scale(0.848 1)" font-size="7.0">1000</text><line x1="332.5" y1="339.5" x2="332.5" y2="342.5" stroke="#3a3a3a" stroke-width="1"/><text x="328.1" y="350.4" font-size="7.0"><tspan textLength="6.6" lengthAdjust="spacingAndGlyphs">10</tspan><tspan font-size="4.2" dy="-2.6">4</tspan></text><line x1="359.5" y1="339.5" x2="359.5" y2="342.5" stroke="#3a3a3a" stroke-width="1"/><text x="354.6" y="350.4" font-size="7.0"><tspan textLength="6.6" lengthAdjust="spacingAndGlyphs">10</tspan><tspan font-size="4.2" dy="-2.6">5</tspan></text><line x1="384.5" y1="339.5" x2="384.5" y2="342.5" stroke="#3a3a3a" stroke-width="1"/><text x="379.6" y="350.4" font-size="7.0"><tspan textLength="6.6" lengthAdjust="spacingAndGlyphs">10</tspan><tspan font-size="4.2" dy="-2.6">6</tspan></text><line x1="340.5" y1="339.5" x2="340.5" y2="341.1" stroke="#3a3a3a" stroke-width="0.8"/><line x1="345.5" y1="339.5" x2="345.5" y2="341.1" stroke="#3a3a3a" stroke-width="0.8"/><line x1="348.5" y1="339.5" x2="348.5" y2="341.1" stroke="#3a3a3a" stroke-width="0.8"/><line x1="351.5" y1="339.5" x2="351.5" y2="341.1" stroke="#3a3a3a" stroke-width="0.8"/><line x1="353.5" y1="339.5" x2="353.5" y2="341.1" stroke="#3a3a3a" stroke-width="0.8"/><line x1="354.5" y1="339.5" x2="354.5" y2="341.1" stroke="#3a3a3a" stroke-width="0.8"/><line x1="356.5" y1="339.5" x2="356.5" y2="341.1" stroke="#3a3a3a" stroke-width="0.8"/><line x1="357.5" y1="339.5" x2="357.5" y2="341.1" stroke="#3a3a3a" stroke-width="0.8"/><line x1="366.5" y1="339.5" x2="366.5" y2="341.1" stroke="#3a3a3a" stroke-width="0.8"/><line x1="370.5" y1="339.5" x2="370.5" y2="341.1" stroke="#3a3a3a" stroke-width="0.8"/><line x1="374.5" y1="339.5" x2="374.5" y2="341.1" stroke="#3a3a3a" stroke-width="0.8"/><line x1="376.5" y1="339.5" x2="376.5" y2="341.1" stroke="#3a3a3a" stroke-width="0.8"/><line x1="378.5" y1="339.5" x2="378.5" y2="341.1" stroke="#3a3a3a" stroke-width="0.8"/><line x1="380.5" y1="339.5" x2="380.5" y2="341.1" stroke="#3a3a3a" stroke-width="0.8"/><line x1="381.5" y1="339.5" x2="381.5" y2="341.1" stroke="#3a3a3a" stroke-width="0.8"/><line x1="382.5" y1="339.5" x2="382.5" y2="341.1" stroke="#3a3a3a" stroke-width="0.8"/><line x1="343.5" y1="303.5" x2="384.5" y2="303.5" stroke="#555" stroke-width="1.1"/><line x1="343.5" y1="301" x2="343.5" y2="306" stroke="#555" stroke-width="1.1"/><rect x="348" y="285" width="28.5" height="11.3" fill="#fff" fill-opacity="0.6" stroke="#c8c8c8" stroke-width="0.8" rx="1.5"/><text transform="translate(349.50 293.60) translate(0.00 0) scale(0.923 1)" font-size="8.8">CD14+</text><text transform="translate(310.80 196.90) translate(-31.80 0) scale(1.052 1)" font-size="8.4">[CD45+] FITC-A</text><text transform="translate(215.30 270.55) rotate(-90) translate(-11.90 0) scale(0.929 1)" font-size="9.6">Count</text><text transform="translate(310.80 362.60) translate(-13.70 0) scale(0.905 1)" font-size="9.4">FITC-A</text><text transform="translate(215.06 353.8) scale(0.703 1)" font-size="19.8" fill="#000" stroke="#000" stroke-width=".75">F</text><path d="M75 423h1m11 5h1m3 6h1m2 0h1m-4 1h1m-15 2h1m4 0h1m1 0h1m-2 3h1m1 0h1m-13 1h1m5 0h1m3 0h1m9 0h1m-19 1h1m9 0h1m1 0h3m4 0h1m-26 1h1m15 0h1m-4 1h1m1 0h1m4 0h1m1 0h1m-19 1h1m1 0h2m4 0h1m1 0h2m1 0h1m1 0h1m-8 1h1m3 0h1m-13 1h1m1 0h1m3 0h3m12 0h1m-16 1h4m2 1h1m5 0h1m-15 1h1m5 0h1m3 0h1m3 0h1m4 0h1m-24 1h1m5 0h3m4 0h1m1 0h1m2 0h1m-17 1h1m1 0h1m7 0h1m2 0h1m-15 1h1m1 0h1m8 0h1m-8 1h1m3 0h3m4 0h2m-11 1h2m4 0h1m1 0h1m5 0h1m-19 1h1m3 0h1m1 0h4m2 0h1m2 0h1m-18 1h1m4 0h1m1 0h1m2 0h2m2 0h1m-16 1h2m4 0h2m1 0h2m2 0h1m1 0h1m-11 1h1m1 0h1m1 0h1m9 0h1m2 0h1m-25 1h1m3 0h1m1 0h2m1 0h1m3 0h2m1 0h1m-10 1h5m1 0h3m-15 1h2m1 0h1m2 0h1m2 0h1m1 0h2m2 0h1m6 0h2m-22 1h2m1 0h1m6 0h1m2 0h2m-15 1h1m5 0h1m1 0h3m1 0h2m-12 1h3m1 0h1m1 0h1m1 0h1m2 0h1m4 0h2m-22 1h1m1 0h2m3 0h1m3 0h1m4 0h3m2 0h1m-17 1h1m3 0h1m6 0h1m-10 1h1m2 0h2m1 0h1m1 0h1m-14 1h1m2 0h1m6 0h2m2 0h1m1 0h4m-16 1h1m2 0h3m3 0h1m6 0h1m-6 1h1m2 0h1m-19 1h1m2 0h1m5 0h1m2 0h1m1 0h1m1 0h1m1 0h1m1 0h1m-17 1h1m2 0h1m1 0h1m1 0h1m8 0h1m-16 1h1m4 0h1m4 0h1m-10 1h2m2 0h1m1 0h1m-14 1h1m14 0h2m-13 1h1m1 0h1m1 0h1m1 0h3m-16 1h1m8 0h4m11 0h1m1 0h1m-19 1h2m5 0h1m1 0h1m-11 1h1m3 1h1m2 0h1m4 0h1m-11 1h1m1 0h2m1 0h1m7 0h1m-12 1h1m3 0h1m-8 1h2m10 0h1m-9 1h1m1 0h2m-11 1h1m7 0h1m-16 1h1m2 1h1m8 0h1m4 0h1m8 1h1m-24 1h1m4 0h1m11 1h1m-9 6h1m6 7h1m-6 6h1" stroke="#807888" stroke-opacity="0.62" transform="translate(0 .5)"/><path d="M85 464h1m-9 5h1m5 1h1m-2 3h1m5 0h1m-14 1h1m4 0h1m2 1h1m1 0h1m1 0h1m1 1h1m-8 1h1m1 0h1m-4 1h1m-5 1h1m3 0h1m1 0h1m8 0h1m-14 1h2m1 0h2m1 0h1m-5 1h1m2 0h1m2 0h2m-8 1h1m1 0h1m-11 1h1m6 0h7m-11 1h1m1 0h1m1 0h1m1 0h1m2 0h1m-8 1h3m1 0h2m3 0h2m-17 1h1m8 0h1m2 0h2m-8 1h1m2 0h1m2 0h2m-2 1h1m-10 1h1m1 0h1m2 0h1m1 0h2m3 0h1m-11 1h2m4 0h1m2 0h1m-10 1h1m4 0h1m2 0h2m1 0h1m-10 1h1m1 0h1m1 0h1m-2 1h1m-4 1h1m1 1h1m2 0h1m5 1h1m-10 1h1m1 0h1m-6 4h1" stroke="#b070c8" stroke-opacity="0.62" transform="translate(0 .5)"/><path d="M94 402h1m10 20h1m-13 8h1m11 6h1m24 1h1m-71 1h1m42 7h1m29 2h1m-69 5h1m8 0h1m17 2h1m11 2h1m-44 2h1m72 0h1m-30 1h1m-14 3h1m33 0h1m-14 2h1m-26 1h1m43 2h1m-67 1h1m23 0h1m13 1h1m12 1h1m-26 1h2m22 0h1m-13 1h1m0 1h1m-13 1h1m1 0h1m13 0h1m-37 1h1m12 0h1m2 0h1m20 0h1m7 0h1m4 2h1m-30 1h1m13 0h1m39 0h1m-49 1h1m4 0h1m3 0h1m41 0h1m-104 1h1m30 0h1m14 0h1m12 0h1m1 1h1m-23 1h1m2 0h1m6 0h1m3 0h1m2 0h1m18 0h1m16 0h1m-72 1h1m15 0h1m17 0h1m10 0h1m12 0h1m16 0h1m-39 1h1m-8 1h1m1 0h1m18 0h1m-46 1h1m16 0h1m7 0h2m28 0h1m13 0h1m-65 1h1m4 0h1m28 0h1m9 0h1m-51 1h1m28 0h1m5 0h1m5 0h1m32 0h2m-80 1h1m19 0h1m5 0h1m2 0h1m25 0h1m6 0h2m4 0h1m-36 1h1m3 0h1m2 0h3m3 0h1m26 0h1m-56 1h1m5 0h1m8 0h1m5 0h1m36 0h1m-47 1h1m1 0h1m6 0h1m9 0h1m9 0h1m5 0h1m9 0h2m-53 1h1m5 0h1m3 0h1m2 0h1m10 0h1m-32 1h1m15 0h1m12 0h1m9 0h1m32 0h1m-61 1h1m21 0h1m-29 1h1m5 0h1m1 0h1m6 0h1m36 0h1m-50 1h1m1 0h2m3 0h1m9 0h1m3 0h1m1 0h1m1 0h1m22 0h1m-48 1h1m2 0h1m1 0h1m1 0h1m19 0h1m4 0h1m2 0h1m9 0h1m5 0h1m-51 1h1m14 0h1m31 0h1m-42 1h1m7 0h1m3 0h1m9 0h1m-47 1h1m17 0h1m2 0h1m2 0h1m7 0h1m1 0h1m13 0h1m18 0h1m-63 1h1m29 0h1m20 0h1m4 0h1m-64 1h1m12 0h1m14 0h1m29 0h1m-44 1h1m1 0h1m8 0h1m17 0h1m22 0h1m-52 1h1m14 0h1m1 0h2m15 0h1m-39 1h1m17 0h1m5 0h1m39 0h1m-54 1h1m13 0h1m3 0h1m33 0h1m-53 1h1m12 0h1m2 0h1m5 0h1m8 0h1m2 0h1m-56 1h1m44 0h1m-34 1h1m7 0h1m-7 1h1m3 0h1m8 0h1m8 0h1m1 1h1m26 1h1m-51 1h1m13 1h1m4 3h1m-27 1h1m13 0h1m2 1h1m-28 1h1m21 0h1m-12 1h1" stroke="#9a9a9a" stroke-opacity="0.62" transform="translate(0 .5)"/><path d="M85 484h1m2 1h1m-6 1h1m2 0h1m5 0h1m-16 1h1m4 0h3m2 0h1m1 0h2m-13 1h1m9 0h1m1 0h1m-13 1h2m3 0h2m1 0h1m1 0h1m-5 1h2m3 0h2m1 0h1m-14 1h1m1 0h1m1 0h3m0 1h2m-8 1h2m2 0h1m1 0h3m-8 1h5m2 0h1m1 0h1m2 0h1m-18 1h2m1 0h1m1 0h2m2 0h2m4 0h1m1 0h1m-15 1h1m1 0h1m1 0h5m-13 1h1m3 0h3m3 0h5m4 0h1m-16 1h1m1 0h3m3 0h3m-15 1h1m4 0h1m1 0h1m3 0h1m-10 1h1m3 0h1m1 0h1m1 0h1m2 0h3m1 0h2m-28 1h1m13 0h1m2 0h2m3 0h1m-19 1h1m2 0h2m2 0h1m2 0h1m1 0h2m1 0h2m1 0h1m-25 1h1m4 0h1m6 0h1m1 0h1m4 0h1m1 0h1m3 0h1m-23 1h1m3 0h1m3 0h2m5 0h1m1 0h2m1 0h1m1 0h1m-21 1h1m1 0h1m1 0h1m6 0h1m1 0h6m2 0h1m5 0h2m2 0h1m-29 1h1m2 0h3m1 0h1m1 0h1m1 0h2m1 0h3m-22 1h1m3 0h2m1 0h2m1 0h1m1 0h1m1 0h1m1 0h2m2 0h2m2 0h2m-27 1h2m1 0h1m3 0h1m1 0h1m2 0h3m1 0h4m1 0h2m1 0h1m3 0h1m-27 1h1m3 0h1m1 0h2m2 0h1m2 0h3m1 0h3m2 0h1m1 0h2m3 0h2m-29 1h2m2 0h2m2 0h3m2 0h1m2 0h2m1 0h1m2 0h2m-29 1h1m6 0h2m1 0h1m1 0h1m1 0h2m2 0h3m1 0h2m1 0h1m2 0h1m-21 1h9m1 0h2m1 0h2m2 0h1m-24 1h2m4 0h2m1 0h2m1 0h3m7 0h1m3 0h1m7 0h1m-30 1h1m3 0h2m1 0h1m3 0h1m4 0h1m-20 1h1m2 0h2m1 0h1m2 0h1m1 0h1m1 0h2m2 0h1m-14 1h1m2 0h1m6 0h1m4 1h1m-14 1h1m9 0h1m-1 1h1" stroke="#d050e0" stroke-opacity="0.62" transform="translate(0 .5)"/><path d="M148 497h1m-25 3h1m13 0h1m7 0h2m-12 1h1m16 0h1m-20 1h1m2 0h1m6 0h1m10 0h1m7 0h1m-39 1h1m11 0h1m3 0h1m4 0h1m8 0h1m-22 1h1m10 0h1m5 0h1m7 0h1m-35 1h1m4 0h1m10 0h1m3 0h1m5 0h1m1 0h1m-30 1h1m4 0h1m8 0h1m2 0h3m3 0h1m2 0h2m1 0h1m-18 1h1m5 0h1m9 0h1m-30 1h1m2 0h1m2 0h1m1 0h1m3 0h3m1 0h4m6 0h2m1 0h1m2 0h1m-26 1h1m1 0h1m4 0h4m1 0h1m2 0h1m1 0h1m3 0h3m1 0h1m3 0h1m-35 1h1m2 0h1m11 0h1m2 0h1m1 0h1m4 0h1m1 0h4m14 0h1m-33 1h1m1 0h1m1 0h2m5 0h2m2 0h1m-25 1h1m7 0h2m2 0h1m2 0h1m2 0h2m4 0h1m-19 1h1m7 0h1m2 0h1m4 0h1m3 0h1m-26 1h1m7 0h3m1 0h1m3 0h1m1 0h1m6 0h1m1 0h1m-29 1h1m1 0h1m8 0h1m3 0h2m3 0h2m-13 1h2m2 0h1m1 0h2m4 0h1m-18 1h1m11 0h1m1 0h1m-3 1h1m1 0h1m1 0h1m-26 1h1m5 0h1m2 0h1m12 0h1m4 0h1m2 1h1m-4 1h1m-3 3h1" stroke="#e070f0" stroke-opacity="0.62" transform="translate(0 .5)"/><g filter="url(#bl06)"><ellipse cx="83.5" cy="494.5" rx="5" ry="6.2" fill="#d040e0" fill-opacity="0.75"/><ellipse cx="83.5" cy="494.5" rx="3" ry="4" fill="#c030d0" fill-opacity="0.8"/><ellipse cx="80.6" cy="508.5" rx="10" ry="6.2" fill="#e060f0" fill-opacity="0.75"/><ellipse cx="80.6" cy="508.5" rx="7.5" ry="4.6" fill="#d030e0"/><ellipse cx="80" cy="508.8" rx="6" ry="3.8" fill="#5048d8"/><ellipse cx="79.5" cy="509" rx="3.2" ry="2.2" fill="#2090c0"/></g><g filter="url(#bl06)"><ellipse cx="144.1" cy="510.3" rx="10.8" ry="6.8" fill="#e070f0" fill-opacity="0.85"/><ellipse cx="144.1" cy="510.3" rx="9" ry="5.6" fill="#9048e0"/><ellipse cx="144" cy="510.3" rx="7.5" ry="4.8" fill="#4048e8"/><ellipse cx="143.6" cy="510.1" rx="4" ry="3" fill="#10c850"/></g><line x1="45.5" y1="386.5" x2="184.5" y2="386.5" stroke="#8a8a8a" stroke-width="1"/><line x1="184.5" y1="386.5" x2="184.5" y2="524.5" stroke="#8a8a8a" stroke-width="1"/><line x1="45.5" y1="386" x2="45.5" y2="525" stroke="#3a3a3a" stroke-width="1"/><line x1="45" y1="524.5" x2="185" y2="524.5" stroke="#3a3a3a" stroke-width="1"/><line x1="43.9" y1="510.5" x2="45.5" y2="510.5" stroke="#3a3a3a" stroke-width="1"/><line x1="42.5" y1="496.5" x2="45.5" y2="496.5" stroke="#3a3a3a" stroke-width="1"/><text transform="translate(41.60 499.68) translate(-9.90 0) scale(0.848 1)" font-size="7.0">200</text><line x1="43.9" y1="483.5" x2="45.5" y2="483.5" stroke="#3a3a3a" stroke-width="1"/><line x1="42.5" y1="469.5" x2="45.5" y2="469.5" stroke="#3a3a3a" stroke-width="1"/><text transform="translate(41.60 471.96) translate(-9.90 0) scale(0.848 1)" font-size="7.0">400</text><line x1="43.9" y1="455.5" x2="45.5" y2="455.5" stroke="#3a3a3a" stroke-width="1"/><line x1="42.5" y1="441.5" x2="45.5" y2="441.5" stroke="#3a3a3a" stroke-width="1"/><text transform="translate(41.60 444.24) translate(-9.90 0) scale(0.848 1)" font-size="7.0">600</text><line x1="43.9" y1="427.5" x2="45.5" y2="427.5" stroke="#3a3a3a" stroke-width="1"/><line x1="42.5" y1="413.5" x2="45.5" y2="413.5" stroke="#3a3a3a" stroke-width="1"/><text transform="translate(41.60 416.52) translate(-9.90 0) scale(0.848 1)" font-size="7.0">800</text><line x1="43.9" y1="399.5" x2="45.5" y2="399.5" stroke="#3a3a3a" stroke-width="1"/><line x1="42.5" y1="386.5" x2="45.5" y2="386.5" stroke="#3a3a3a" stroke-width="1"/><text transform="translate(41.60 388.80) translate(-13.20 0) scale(0.848 1)" font-size="7.0">1000</text><text x="25" y="398.5" font-size="7" text-anchor="middle" transform="rotate(-90 25 398.5)">(x 10<tspan font-size="4" dy="-2.2">3</tspan><tspan dy="2.2">)</tspan></text><line x1="57.5" y1="524.5" x2="57.5" y2="527.5" stroke="#3a3a3a" stroke-width="1"/><text transform="translate(57.90 535.40) translate(-8.25 0) scale(0.922 1)" font-size="7.0">-1000</text><line x1="78.5" y1="524.5" x2="78.5" y2="527.5" stroke="#3a3a3a" stroke-width="1"/><text transform="translate(78.60 535.40) translate(-1.65 0) scale(0.848 1)" font-size="7.0">0</text><line x1="99.5" y1="524.5" x2="99.5" y2="527.5" stroke="#3a3a3a" stroke-width="1"/><text transform="translate(99.30 535.40) translate(-6.60 0) scale(0.848 1)" font-size="7.0">1000</text><line x1="133.5" y1="524.5" x2="133.5" y2="527.5" stroke="#3a3a3a" stroke-width="1"/><text x="129" y="535.4" font-size="7.0"><tspan textLength="6.6" lengthAdjust="spacingAndGlyphs">10</tspan><tspan font-size="4.2" dy="-2.6">4</tspan></text><line x1="159.5" y1="524.5" x2="159.5" y2="527.5" stroke="#3a3a3a" stroke-width="1"/><text x="155.2" y="535.4" font-size="7.0"><tspan textLength="6.6" lengthAdjust="spacingAndGlyphs">10</tspan><tspan font-size="4.2" dy="-2.6">5</tspan></text><line x1="184.5" y1="524.5" x2="184.5" y2="527.5" stroke="#3a3a3a" stroke-width="1"/><text x="180.1" y="535.4" font-size="7.0"><tspan textLength="6.6" lengthAdjust="spacingAndGlyphs">10</tspan><tspan font-size="4.2" dy="-2.6">6</tspan></text><line x1="109.5" y1="524.5" x2="109.5" y2="526.1" stroke="#3a3a3a" stroke-width="0.8"/><line x1="115.5" y1="524.5" x2="115.5" y2="526.1" stroke="#3a3a3a" stroke-width="0.8"/><line x1="119.5" y1="524.5" x2="119.5" y2="526.1" stroke="#3a3a3a" stroke-width="0.8"/><line x1="123.5" y1="524.5" x2="123.5" y2="526.1" stroke="#3a3a3a" stroke-width="0.8"/><line x1="125.5" y1="524.5" x2="125.5" y2="526.1" stroke="#3a3a3a" stroke-width="0.8"/><line x1="128.5" y1="524.5" x2="128.5" y2="526.1" stroke="#3a3a3a" stroke-width="0.8"/><line x1="130.5" y1="524.5" x2="130.5" y2="526.1" stroke="#3a3a3a" stroke-width="0.8"/><line x1="131.5" y1="524.5" x2="131.5" y2="526.1" stroke="#3a3a3a" stroke-width="0.8"/><line x1="141.5" y1="524.5" x2="141.5" y2="526.1" stroke="#3a3a3a" stroke-width="0.8"/><line x1="145.5" y1="524.5" x2="145.5" y2="526.1" stroke="#3a3a3a" stroke-width="0.8"/><line x1="149.5" y1="524.5" x2="149.5" y2="526.1" stroke="#3a3a3a" stroke-width="0.8"/><line x1="151.5" y1="524.5" x2="151.5" y2="526.1" stroke="#3a3a3a" stroke-width="0.8"/><line x1="153.5" y1="524.5" x2="153.5" y2="526.1" stroke="#3a3a3a" stroke-width="0.8"/><line x1="155.5" y1="524.5" x2="155.5" y2="526.1" stroke="#3a3a3a" stroke-width="0.8"/><line x1="157.5" y1="524.5" x2="157.5" y2="526.1" stroke="#3a3a3a" stroke-width="0.8"/><line x1="158.5" y1="524.5" x2="158.5" y2="526.1" stroke="#3a3a3a" stroke-width="0.8"/><line x1="167.5" y1="524.5" x2="167.5" y2="526.1" stroke="#3a3a3a" stroke-width="0.8"/><line x1="171.5" y1="524.5" x2="171.5" y2="526.1" stroke="#3a3a3a" stroke-width="0.8"/><line x1="174.5" y1="524.5" x2="174.5" y2="526.1" stroke="#3a3a3a" stroke-width="0.8"/><line x1="177.5" y1="524.5" x2="177.5" y2="526.1" stroke="#3a3a3a" stroke-width="0.8"/><line x1="178.5" y1="524.5" x2="178.5" y2="526.1" stroke="#3a3a3a" stroke-width="0.8"/><line x1="180.5" y1="524.5" x2="180.5" y2="526.1" stroke="#3a3a3a" stroke-width="0.8"/><line x1="182.5" y1="524.5" x2="182.5" y2="526.1" stroke="#3a3a3a" stroke-width="0.8"/><line x1="183.5" y1="524.5" x2="183.5" y2="526.1" stroke="#3a3a3a" stroke-width="0.8"/><text transform="translate(115.05 382.40) translate(-44.90 0) scale(0.979 1)" font-size="8.4">[CD45+] APC-A / SSC-A</text><text transform="translate(14.30 455.80) rotate(-90) translate(-10.75 0) scale(0.733 1)" font-size="9.6">SSC-A</text><text transform="translate(115.05 548.10) translate(-11.85 0) scale(0.825 1)" font-size="9.4">APC-A</text><text transform="translate(14.97 539.6) scale(1.000 1)" font-size="19.8" fill="#000" stroke="#000" stroke-width=".75">I</text><rect x="129.5" y="501.5" width="34" height="18" fill="none" stroke="#4a4a4a" stroke-width="1.1"/><rect x="134.7" y="474.2" width="22.8" height="12.3" fill="#fff" fill-opacity="0.6" stroke="#c8c8c8" stroke-width="0.8" rx="1.5"/><text transform="translate(136.20 483.60) translate(0.00 0) scale(0.798 1)" font-size="9.6">CD3+</text><path d="M294 501h1m3 0h1m-2 2h1m1 0h1m-14 1h1m2 0h4m4 0h2m-21 1h1m2 0h1m5 0h1m1 0h1m1 0h1m1 0h2m1 0h1m1 0h2m5 0h1m-31 1h1m7 0h1m2 0h1m1 0h1m2 0h2m2 0h4m4 0h1m-21 1h1m1 0h3m2 0h12m-20 1h1m2 0h1m1 0h9m-11 1h1m1 0h6m2 0h1m1 0h1m3 0h1m-22 1h3m1 0h1m1 0h3m1 0h2m1 0h4m1 0h1m-14 1h7m2 0h6m-19 1h1m1 0h4m1 0h6m1 0h1m4 0h1m-15 1h4m4 0h1m1 0h1m-9 1h3m-8 1h1m3 0h1m1 0h1m2 0h1m-7 1h1m3 0h1m12 0h1m-8 1h1" stroke="#c070e8" stroke-opacity="0.62" transform="translate(0 .5)"/><path d="M344 497h1m-15 3h1m4 0h1m5 4h1m3 0h1m-3 1h2m-12 1h1m2 0h1m3 0h1m7 0h1m-17 1h6m3 0h2m1 0h1m-10 1h1m5 0h1m-16 1h1m4 0h1m5 0h1m1 0h1m8 0h1m3 0h1m-21 1h1m1 0h1m3 0h2m1 0h1m3 0h1m-16 1h1m7 0h1m3 0h1m1 0h1m-7 1h2m1 0h1m1 0h1m2 0h1m-10 1h1m9 0h1m-17 1h1m5 0h1m1 0h1m1 0h1m-7 3h1m13 2h1" stroke="#5060f0" stroke-opacity="0.62" transform="translate(0 .5)"/><path d="M302 497h1m4 3h1m-1 2h1m4 2h1m-13 1h1m22 0h1m-15 3h1m1 0h1m4 0h1m-12 1h1m1 0h1m7 1h1m-5 2h2m5 0h1m3 0h1m-7 1h1m11 0h2m-22 1h1m7 0h1m-16 1h1m35 0h1m-17 1h1m10 6h1" stroke="#b0a0c0" stroke-opacity="0.62" transform="translate(0 .5)"/><path d="M290 503h1m6 0h1m-10 1h2m-4 1h2m2 0h7m-11 1h1m1 0h10m1 0h2m-20 1h1m2 0h3m1 0h4m1 0h5m-18 1h1m3 0h15m1 0h2m-22 1h1m2 0h17m-20 1h1m1 0h1m1 0h15m2 0h1m-23 1h1m2 0h3m1 0h12m-19 1h1m2 0h6m1 0h4m1 0h4m-15 1h4m3 0h1m1 0h3m1 0h1m-13 1h2m2 0h1m1 0h1m2 0h2m2 0h1m-18 1h1m3 0h1m1 0h1m3 0h3m1 0h1m-14 1h1m1 0h1" stroke="#c070e8" transform="translate(0 .5)"/><path d="M350 501h1m2 0h1m-3 1h1m-3 1h1m1 0h2m-2 1h1m3 0h1m-9 1h9m-9 1h8m-10 1h1m1 0h9m-12 1h3m1 0h5m1 0h2m-14 1h12m-12 1h12m-12 1h12m3 0h1m-19 1h2m1 0h9m1 0h1m-12 1h12m2 0h1m-15 1h12m-13 1h11m-11 1h1m1 0h6m-7 1h2m2 0h2m2 0h1m-11 1h1m2 0h1m1 0h1m6 0h1m-10 1h1m2 0h1" stroke="#0000ff" transform="translate(0 .5)"/><line x1="246.5" y1="386.5" x2="385.5" y2="386.5" stroke="#8a8a8a" stroke-width="1"/><line x1="385.5" y1="386.5" x2="385.5" y2="524.5" stroke="#8a8a8a" stroke-width="1"/><line x1="246.5" y1="386" x2="246.5" y2="525" stroke="#3a3a3a" stroke-width="1"/><line x1="246" y1="524.5" x2="386" y2="524.5" stroke="#3a3a3a" stroke-width="1"/><line x1="244.9" y1="510.5" x2="246.5" y2="510.5" stroke="#3a3a3a" stroke-width="1"/><line x1="243.5" y1="496.5" x2="246.5" y2="496.5" stroke="#3a3a3a" stroke-width="1"/><text transform="translate(242.60 499.76) translate(-9.90 0) scale(0.848 1)" font-size="7.0">200</text><line x1="244.9" y1="483.5" x2="246.5" y2="483.5" stroke="#3a3a3a" stroke-width="1"/><line x1="243.5" y1="469.5" x2="246.5" y2="469.5" stroke="#3a3a3a" stroke-width="1"/><text transform="translate(242.60 472.02) translate(-9.90 0) scale(0.848 1)" font-size="7.0">400</text><line x1="244.9" y1="455.5" x2="246.5" y2="455.5" stroke="#3a3a3a" stroke-width="1"/><line x1="243.5" y1="441.5" x2="246.5" y2="441.5" stroke="#3a3a3a" stroke-width="1"/><text transform="translate(242.60 444.28) translate(-9.90 0) scale(0.848 1)" font-size="7.0">600</text><line x1="244.9" y1="427.5" x2="246.5" y2="427.5" stroke="#3a3a3a" stroke-width="1"/><line x1="243.5" y1="413.5" x2="246.5" y2="413.5" stroke="#3a3a3a" stroke-width="1"/><text transform="translate(242.60 416.54) translate(-9.90 0) scale(0.848 1)" font-size="7.0">800</text><line x1="244.9" y1="399.5" x2="246.5" y2="399.5" stroke="#3a3a3a" stroke-width="1"/><line x1="243.5" y1="386.5" x2="246.5" y2="386.5" stroke="#3a3a3a" stroke-width="1"/><text transform="translate(242.60 388.80) translate(-13.20 0) scale(0.848 1)" font-size="7.0">1000</text><text x="226" y="398.5" font-size="7" text-anchor="middle" transform="rotate(-90 226 398.5)">(x 10<tspan font-size="4" dy="-2.2">3</tspan><tspan dy="2.2">)</tspan></text><line x1="278.5" y1="524.5" x2="278.5" y2="527.5" stroke="#3a3a3a" stroke-width="1"/><text transform="translate(278.70 535.50) translate(-1.65 0) scale(0.848 1)" font-size="7.0">0</text><line x1="297.5" y1="524.5" x2="297.5" y2="527.5" stroke="#3a3a3a" stroke-width="1"/><text transform="translate(297.50 535.50) translate(-6.60 0) scale(0.848 1)" font-size="7.0">1000</text><line x1="334.5" y1="524.5" x2="334.5" y2="527.5" stroke="#3a3a3a" stroke-width="1"/><text x="329.6" y="535.5" font-size="7.0"><tspan textLength="6.6" lengthAdjust="spacingAndGlyphs">10</tspan><tspan font-size="4.2" dy="-2.6">4</tspan></text><line x1="361.5" y1="524.5" x2="361.5" y2="527.5" stroke="#3a3a3a" stroke-width="1"/><text x="356.6" y="535.5" font-size="7.0"><tspan textLength="6.6" lengthAdjust="spacingAndGlyphs">10</tspan><tspan font-size="4.2" dy="-2.6">5</tspan></text><line x1="385.5" y1="524.5" x2="385.5" y2="527.5" stroke="#3a3a3a" stroke-width="1"/><text x="381.1" y="535.5" font-size="7.0"><tspan textLength="6.6" lengthAdjust="spacingAndGlyphs">10</tspan><tspan font-size="4.2" dy="-2.6">6</tspan></text><line x1="308.5" y1="524.5" x2="308.5" y2="526.1" stroke="#3a3a3a" stroke-width="0.8"/><line x1="314.5" y1="524.5" x2="314.5" y2="526.1" stroke="#3a3a3a" stroke-width="0.8"/><line x1="319.5" y1="524.5" x2="319.5" y2="526.1" stroke="#3a3a3a" stroke-width="0.8"/><line x1="323.5" y1="524.5" x2="323.5" y2="526.1" stroke="#3a3a3a" stroke-width="0.8"/><line x1="325.5" y1="524.5" x2="325.5" y2="526.1" stroke="#3a3a3a" stroke-width="0.8"/><line x1="328.5" y1="524.5" x2="328.5" y2="526.1" stroke="#3a3a3a" stroke-width="0.8"/><line x1="330.5" y1="524.5" x2="330.5" y2="526.1" stroke="#3a3a3a" stroke-width="0.8"/><line x1="332.5" y1="524.5" x2="332.5" y2="526.1" stroke="#3a3a3a" stroke-width="0.8"/><line x1="342.5" y1="524.5" x2="342.5" y2="526.1" stroke="#3a3a3a" stroke-width="0.8"/><line x1="346.5" y1="524.5" x2="346.5" y2="526.1" stroke="#3a3a3a" stroke-width="0.8"/><line x1="350.5" y1="524.5" x2="350.5" y2="526.1" stroke="#3a3a3a" stroke-width="0.8"/><line x1="352.5" y1="524.5" x2="352.5" y2="526.1" stroke="#3a3a3a" stroke-width="0.8"/><line x1="355.5" y1="524.5" x2="355.5" y2="526.1" stroke="#3a3a3a" stroke-width="0.8"/><line x1="356.5" y1="524.5" x2="356.5" y2="526.1" stroke="#3a3a3a" stroke-width="0.8"/><line x1="358.5" y1="524.5" x2="358.5" y2="526.1" stroke="#3a3a3a" stroke-width="0.8"/><line x1="359.5" y1="524.5" x2="359.5" y2="526.1" stroke="#3a3a3a" stroke-width="0.8"/><line x1="368.5" y1="524.5" x2="368.5" y2="526.1" stroke="#3a3a3a" stroke-width="0.8"/><line x1="372.5" y1="524.5" x2="372.5" y2="526.1" stroke="#3a3a3a" stroke-width="0.8"/><line x1="375.5" y1="524.5" x2="375.5" y2="526.1" stroke="#3a3a3a" stroke-width="0.8"/><line x1="378.5" y1="524.5" x2="378.5" y2="526.1" stroke="#3a3a3a" stroke-width="0.8"/><line x1="380.5" y1="524.5" x2="380.5" y2="526.1" stroke="#3a3a3a" stroke-width="0.8"/><line x1="381.5" y1="524.5" x2="381.5" y2="526.1" stroke="#3a3a3a" stroke-width="0.8"/><line x1="383.5" y1="524.5" x2="383.5" y2="526.1" stroke="#3a3a3a" stroke-width="0.8"/><line x1="384.5" y1="524.5" x2="384.5" y2="526.1" stroke="#3a3a3a" stroke-width="0.8"/><text transform="translate(316.05 382.40) translate(-43.40 0) scale(0.981 1)" font-size="8.4">[CD3+] FITC-A / SSC-A</text><text transform="translate(215.30 455.85) rotate(-90) translate(-10.75 0) scale(0.733 1)" font-size="9.6">SSC-A</text><text transform="translate(316.05 548.20) translate(-13.70 0) scale(0.905 1)" font-size="9.4">FITC-A</text><text transform="translate(215.29 539.6) scale(0.677 1)" font-size="19.8" fill="#000" stroke="#000" stroke-width=".75">J</text><line x1="258.5" y1="524.5" x2="258.5" y2="527" stroke="#3a3a3a" stroke-width="0.9"/><rect x="326.5" y="497.5" width="37" height="25" fill="none" stroke="#4a4a4a" stroke-width="1.1"/><rect x="335.8" y="473.9" width="22.4" height="12.3" fill="#fff" fill-opacity="0.6" stroke="#c8c8c8" stroke-width="0.8" rx="1.5"/><text transform="translate(337.30 483.30) translate(0.00 0) scale(0.782 1)" font-size="9.6">CD4+</text><path d="M117 585h1m-20 26h1m-8 5h1m42 1h1m-35 2h1m-11 1h1m2 0h1m0 1h1m79 2h1m-84 1h2m1 0h1m2 0h1m1 0h1m-9 1h2m1 0h1m-8 1h1m4 0h1m2 0h2m-8 1h2m2 0h1m3 0h1m-6 1h1m1 0h2m1 0h1m43 0h1m-52 1h2m2 0h1m2 0h1m15 0h1m21 0h1m-46 1h1m6 0h2m15 1h1m23 0h1m-47 1h1m1 0h1m1 0h1m-5 1h1m1 0h1m-2 1h1m26 0h1m12 0h1m-43 1h1m1 0h1m3 0h1m9 0h1m13 0h1m19 0h1m-51 1h1m1 0h2m12 0h1m30 0h1m-46 1h1m4 0h1m20 0h1m45 0h1m-82 1h1m5 0h1m4 0h1m1 0h1m26 0h1m-37 1h2m1 0h1m2 0h2m1 0h2m-16 1h1m3 0h1m2 0h1m3 0h1m1 0h1m45 0h1m33 0h1m-128 1h1m40 0h1m2 0h1m1 0h2m43 0h1m-58 1h1m3 0h1m3 0h7m-10 1h2m1 0h1m1 0h2m8 0h1m9 0h1m-24 1h2m4 0h1m4 0h1m53 0h1m-82 1h1m13 0h1m1 0h2m1 0h2m60 0h1m2 0h1m-71 1h1m1 0h4m1 0h3m46 0h1m-56 1h1m1 0h2m3 0h1m47 0h1m24 0h1m-84 1h1m4 0h3m2 0h1m1 0h1m59 0h1m-74 1h1m1 0h1m4 0h2m3 0h1m2 0h1m2 0h1m25 0h1m22 0h1m-71 1h1m4 0h2m1 0h6m2 0h1m3 0h1m21 0h1m15 0h1m-57 1h1m3 0h1m1 0h1m5 0h1m1 0h2m-15 1h1m4 0h4m1 0h2m1 0h1m60 0h1m5 0h1m6 0h1m-87 1h1m2 0h1m1 0h3m1 0h2m82 0h1m-93 1h1m3 0h3m3 0h1m33 0h1m-47 1h1m2 0h1m2 0h1m3 0h3m2 0h2m-16 1h3m1 0h1m56 0h1m-57 1h1m1 0h1m2 0h1m1 0h1m35 0h1m16 0h1m-65 1h1m3 0h1m3 0h1m26 0h1m16 0h1m2 0h1m1 0h1m1 0h1m1 0h1m18 0h1m-81 1h1m4 0h1m3 0h2m-12 1h1m1 0h3m1 0h3m2 0h1m30 0h1m9 0h1m2 0h1m12 0h1m-68 1h2m5 0h1m50 0h1m5 0h1m2 0h1m6 0h1m-74 1h1m1 0h1m3 0h1m57 0h1m1 0h3m1 0h1m-73 1h1m1 0h1m1 0h2m2 0h1m2 0h1m34 0h1m7 0h1m15 0h1m1 0h1m4 0h1m-77 1h1m2 0h2m-4 1h1m3 0h1m22 0h1m17 0h1m4 0h1m14 0h1m5 0h1m-65 1h1m37 0h1m8 0h2m5 0h1m-64 1h2m3 0h1m1 0h1m34 0h1m-42 1h1m3 0h3m3 0h1m48 0h1m2 0h1m4 0h1m4 0h1m9 0h1m13 0h1m-90 1h1m4 0h1m36 0h1m1 0h1m1 0h1m1 0h1m5 0h1m8 0h1m2 0h1m13 0h1m2 0h1m-90 1h1m1 0h1m2 0h1m38 0h1m2 0h1m1 0h1m13 0h1m4 0h1m1 0h1m-71 1h1m38 0h1m3 0h1m5 0h1m2 0h1m3 0h1m14 0h1m3 0h1m4 0h2m1 0h1m-45 1h1m1 0h2m4 0h1m12 0h1m4 0h1m4 0h1m-74 1h1m9 0h1m3 0h1m24 0h1m5 0h2m7 0h1m2 0h2m10 0h1m1 0h1m-37 1h1m2 0h1m1 0h1m2 0h1m2 0h1m2 0h1m5 0h1m30 0h1m-97 1h1m48 0h1m3 0h3m1 0h6m8 0h1m1 0h1m15 0h1m-79 1h1m5 0h1m29 0h2m1 0h1m5 0h1m1 0h2m3 0h1m2 0h1m5 0h1m4 0h1m5 0h1m-67 1h1m29 0h1m3 0h2m1 0h4m3 0h1m4 0h1m11 0h1m-39 1h1m6 0h4m1 0h2m1 0h1m2 0h2m1 0h2m1 0h1m1 0h1m2 0h1m5 0h1m7 0h1m5 0h1m16 0h1m-84 1h1m14 0h1m4 0h1m2 0h1m2 0h1m2 0h1m1 0h2m1 0h2m4 0h1m1 0h2m2 0h1m11 0h1m6 0h1m-50 1h1m4 0h5m1 0h2m1 0h5m1 0h3m2 0h1m1 0h1m3 0h1m3 0h1m11 0h1m15 0h1m-81 1h1m18 0h1m2 0h15m1 0h2m1 0h2m1 0h2m2 0h1m3 0h1m22 0h1m-63 1h1m2 0h4m1 0h3m1 0h2m1 0h1m1 0h2m1 0h3m1 0h2m2 0h1m1 0h2m1 0h1m4 0h1m17 0h1m13 0h1m-88 1h1m17 0h1m4 0h9m1 0h10m2 0h2m1 0h1m3 0h1m6 0h1m7 0h1m-60 1h2m13 0h2m2 0h1m3 0h6m1 0h1m2 0h4m2 0h1m5 0h1m3 0h1m-65 1h1m27 0h1m1 0h3m1 0h8m2 0h1m3 0h3m1 0h1m3 0h1m14 0h1m-70 1h1m10 0h1m8 0h1m4 0h1m1 0h1m3 0h1m1 0h2m1 0h2m1 0h4m3 0h1m2 0h2m1 0h1m-49 1h1m12 0h1m6 0h2m1 0h2m1 0h5m2 0h3m1 0h1m2 0h1m1 0h2m2 0h1m1 0h1m5 0h1m1 0h1m-59 1h2m3 0h1m1 0h1m2 0h1m2 0h1m1 0h1m1 0h1m1 0h3m1 0h1m1 0h1m1 0h6m2 0h1m1 0h2m1 0h1m1 0h3m3 0h2m4 0h1m14 0h2m-76 1h2m7 0h1m1 0h1m2 0h2m2 0h1m2 0h7m1 0h4m1 0h5m1 0h1m4 0h1m1 0h1m1 0h1m1 0h1m-64 1h1m15 0h4m5 0h3m3 0h2m1 0h1m1 0h3m1 0h4m2 0h5m5 0h1m1 0h1m16 0h1m-67 1h1m5 0h1m3 0h1m3 0h1m2 0h4m1 0h2m1 0h2m1 0h1m1 0h1m1 0h2m1 0h8m2 0h1m3 0h1m14 0h1m-61 1h1m8 0h1m2 0h1m1 0h3m1 0h1m1 0h2m2 0h2m1 0h1m1 0h5m-39 1h3m3 0h2m2 0h1m1 0h3m1 0h3m2 0h1m1 0h4m3 0h1m2 0h2m1 0h3m2 0h1m31 0h1m-77 1h1m6 0h1m1 0h1m1 0h1m2 0h2m8 0h2m2 0h1m1 0h1m1 0h1m1 0h1m1 0h3m3 0h2m1 0h1m1 0h1m-45 1h1m4 0h1m1 0h2m2 0h1m3 0h1m1 0h3m2 0h1m8 0h3m1 0h1m1 0h4m-37 1h1m3 0h2m2 0h3m1 0h5m2 0h2m1 0h2m4 0h2m3 0h1m2 0h1m2 0h1m6 0h1m1 0h1m4 0h1m21 0h1m-86 1h1m7 0h2m5 0h1m3 0h2m1 0h1m3 0h1m2 0h1m4 0h1m2 0h1m7 0h1m4 0h1m-40 1h1m4 0h1m1 0h1m1 0h1m1 0h1m3 0h1m2 0h1m1 0h1m4 0h1m1 0h1m-37 1h1m3 0h1m8 0h1m2 0h1m3 0h1m1 0h1m1 0h1m1 0h3m2 0h1m5 0h1m10 0h1m-28 1h1m2 0h1m10 0h1m-32 1h1m3 0h2m8 0h1m5 0h1m3 0h1m-13 1h1m4 0h1m3 0h1m-31 1h1m8 0h1m4 2h1" stroke="#ff3030" stroke-opacity="0.62" transform="translate(0 .5)"/><path d="M136 672h1m-3 1h1m5 0h1m-7 1h1m-10 1h1m1 0h1m2 0h1m3 0h1m-16 1h1m4 0h1m1 0h1m3 0h1m1 0h1m3 0h1m-17 1h1m1 0h1m2 0h1m1 0h3m1 0h1m1 0h3m1 0h1m1 0h2m4 0h1m-27 1h2m1 0h2m1 0h1m1 0h2m1 0h1m1 0h1m2 0h1m6 0h1m-22 1h2m2 0h1m1 0h2m1 0h1m6 0h1m1 0h1m-19 1h1m2 0h1m2 0h1m2 0h5m1 0h1m7 0h1m-26 1h1m4 0h6m2 0h3m-12 1h3m1 0h1m2 0h4m4 0h1m5 0h1m-24 1h2m1 0h4m1 0h1m1 0h1m2 0h3m6 0h1m-26 1h2m5 0h1m3 0h1m1 0h1m4 0h1m2 0h1m-18 1h2m3 0h1m4 0h1m-24 1h1m7 0h1m3 0h1m13 0h2m-36 1h1m10 0h2m1 0h1m3 0h1m7 0h1m-29 1h1m7 0h1m1 0h1m2 0h1m1 0h1m2 0h2m-20 1h1m2 0h1m2 0h4m2 0h1m2 0h1m2 0h1m-32 1h1m5 0h1m1 0h1m1 0h2m1 0h5m2 0h1m1 0h4m1 0h3m6 0h1m2 0h1m-39 1h2m1 0h2m1 0h3m2 0h7m1 0h10m2 0h2m3 0h1m-41 1h1m2 0h1m3 0h15m1 0h4m1 0h5m-32 1h1m1 0h3m1 0h13m1 0h7m2 0h2m-36 1h1m6 0h1m1 0h28m-32 1h2m1 0h18m1 0h3m4 0h2m-35 1h1m1 0h21m2 0h2m2 0h2m1 0h1m2 0h1m-37 1h1m7 0h19m1 0h4m-30 1h2m1 0h1m2 0h9m1 0h6m4 0h1m-20 1h1m1 0h3m1 0h1m1 0h1m2 0h1m5 0h1m-20 1h1m1 0h1m1 0h1m1 0h1m4 0h2m1 0h1m3 0h1m-14 1h1m3 0h1" stroke="#ff0000" transform="translate(0 .5)"/><path d="M153 681h1m0 1h1m-13 4h1m14 0h1m-8 1h1m1 0h1m-16 1h1m3 0h2m11 0h1m2 0h1m-12 1h2m2 1h1m1 0h3m9 0h1m-21 1h1m1 0h3m1 0h2m10 0h1m-27 1h1m6 0h1m1 0h1m1 0h2m2 0h1m1 0h1m-13 1h2m1 0h4m3 0h1m1 0h1m1 0h1m-22 1h1m4 0h1m3 0h3m3 0h1m2 0h1m2 0h2m3 0h1m-25 1h1m4 0h2m2 0h1m1 0h2m1 0h5m3 0h1m-19 1h1m1 0h2m1 0h1m1 0h2m1 0h1m3 0h4m-27 1h1m9 0h1m1 0h1m3 0h3m2 0h2m2 0h1m1 0h1m-12 1h5m1 0h1m1 0h1m-20 1h1m4 0h1m5 0h5m1 0h1m5 0h1m-19 1h6m1 0h3m11 0h1m-14 1h1m1 0h2m2 0h1m2 0h1m-20 1h1m6 0h1m10 0h1m-19 1h1m6 0h2m1 0h1m-12 1h1m5 0h1m1 0h1m-12 1h1m11 0h1m2 2h1" stroke="#6070ff" stroke-opacity="0.62" transform="translate(0 .5)"/><g filter="url(#bl05)"><ellipse cx="148.4" cy="695" rx="11.2" ry="8.6" fill="#8090ff" fill-opacity="0.55" transform="rotate(-22 148.4 695)"/><ellipse cx="148.6" cy="695.5" rx="9" ry="6.8" fill="#1020f0" transform="rotate(-22 148.6 695.5)"/><ellipse cx="148.6" cy="695.5" rx="7.5" ry="5.6" fill="#0000ff" transform="rotate(-22 148.6 695.5)"/></g><ellipse cx="148.4" cy="695" rx="13" ry="9.8" fill="none" stroke="#40405a" stroke-width="1.1" transform="rotate(-24 148.4 695)"/><line x1="45.5" y1="571.5" x2="184.5" y2="571.5" stroke="#8a8a8a" stroke-width="1"/><line x1="184.5" y1="571.5" x2="184.5" y2="710.5" stroke="#8a8a8a" stroke-width="1"/><line x1="45.5" y1="571" x2="45.5" y2="711" stroke="#3a3a3a" stroke-width="1"/><line x1="45" y1="710.5" x2="185" y2="710.5" stroke="#3a3a3a" stroke-width="1"/><line x1="43.9" y1="696.5" x2="45.5" y2="696.5" stroke="#3a3a3a" stroke-width="1"/><line x1="42.5" y1="682.5" x2="45.5" y2="682.5" stroke="#3a3a3a" stroke-width="1"/><text transform="translate(41.60 685.30) translate(-9.90 0) scale(0.848 1)" font-size="7.0">200</text><line x1="43.9" y1="668.5" x2="45.5" y2="668.5" stroke="#3a3a3a" stroke-width="1"/><line x1="42.5" y1="654.5" x2="45.5" y2="654.5" stroke="#3a3a3a" stroke-width="1"/><text transform="translate(41.60 657.60) translate(-9.90 0) scale(0.848 1)" font-size="7.0">400</text><line x1="43.9" y1="640.5" x2="45.5" y2="640.5" stroke="#3a3a3a" stroke-width="1"/><line x1="42.5" y1="627.5" x2="45.5" y2="627.5" stroke="#3a3a3a" stroke-width="1"/><text transform="translate(41.60 629.90) translate(-9.90 0) scale(0.848 1)" font-size="7.0">600</text><line x1="43.9" y1="613.5" x2="45.5" y2="613.5" stroke="#3a3a3a" stroke-width="1"/><line x1="42.5" y1="599.5" x2="45.5" y2="599.5" stroke="#3a3a3a" stroke-width="1"/><text transform="translate(41.60 602.20) translate(-9.90 0) scale(0.848 1)" font-size="7.0">800</text><line x1="43.9" y1="585.5" x2="45.5" y2="585.5" stroke="#3a3a3a" stroke-width="1"/><line x1="42.5" y1="571.5" x2="45.5" y2="571.5" stroke="#3a3a3a" stroke-width="1"/><text transform="translate(41.60 574.50) translate(-13.20 0) scale(0.848 1)" font-size="7.0">1000</text><text x="25" y="584.2" font-size="7" text-anchor="middle" transform="rotate(-90 25 584.2)">(x 10<tspan font-size="4" dy="-2.2">3</tspan><tspan dy="2.2">)</tspan></text><line x1="45.5" y1="710.5" x2="45.5" y2="713.5" stroke="#3a3a3a" stroke-width="1"/><text transform="translate(45.00 721.00) translate(-8.25 0) scale(0.922 1)" font-size="7.0">-4000</text><line x1="62.5" y1="710.5" x2="62.5" y2="713.5" stroke="#3a3a3a" stroke-width="1"/><text transform="translate(62.00 721.00) translate(-8.25 0) scale(0.922 1)" font-size="7.0">-2000</text><line x1="81.5" y1="710.5" x2="81.5" y2="713.5" stroke="#3a3a3a" stroke-width="1"/><text transform="translate(81.00 721.00) translate(-1.65 0) scale(0.848 1)" font-size="7.0">0</text><line x1="103.5" y1="710.5" x2="103.5" y2="713.5" stroke="#3a3a3a" stroke-width="1"/><text transform="translate(103.00 721.00) translate(-6.60 0) scale(0.848 1)" font-size="7.0">2000</text><line x1="131.5" y1="710.5" x2="131.5" y2="713.5" stroke="#3a3a3a" stroke-width="1"/><text x="126.6" y="721" font-size="7.0"><tspan textLength="6.6" lengthAdjust="spacingAndGlyphs">10</tspan><tspan font-size="4.2" dy="-2.6">4</tspan></text><line x1="160.5" y1="710.5" x2="160.5" y2="713.5" stroke="#3a3a3a" stroke-width="1"/><text x="155.6" y="721" font-size="7.0"><tspan textLength="6.6" lengthAdjust="spacingAndGlyphs">10</tspan><tspan font-size="4.2" dy="-2.6">5</tspan></text><line x1="185.5" y1="710.5" x2="185.5" y2="713.5" stroke="#3a3a3a" stroke-width="1"/><text x="180.6" y="721" font-size="7.0"><tspan textLength="6.6" lengthAdjust="spacingAndGlyphs">10</tspan><tspan font-size="4.2" dy="-2.6">6</tspan></text><line x1="111.5" y1="710.5" x2="111.5" y2="712.1" stroke="#3a3a3a" stroke-width="0.8"/><line x1="116.5" y1="710.5" x2="116.5" y2="712.1" stroke="#3a3a3a" stroke-width="0.8"/><line x1="119.5" y1="710.5" x2="119.5" y2="712.1" stroke="#3a3a3a" stroke-width="0.8"/><line x1="122.5" y1="710.5" x2="122.5" y2="712.1" stroke="#3a3a3a" stroke-width="0.8"/><line x1="124.5" y1="710.5" x2="124.5" y2="712.1" stroke="#3a3a3a" stroke-width="0.8"/><line x1="126.5" y1="710.5" x2="126.5" y2="712.1" stroke="#3a3a3a" stroke-width="0.8"/><line x1="128.5" y1="710.5" x2="128.5" y2="712.1" stroke="#3a3a3a" stroke-width="0.8"/><line x1="129.5" y1="710.5" x2="129.5" y2="712.1" stroke="#3a3a3a" stroke-width="0.8"/><line x1="139.5" y1="710.5" x2="139.5" y2="712.1" stroke="#3a3a3a" stroke-width="0.8"/><line x1="144.5" y1="710.5" x2="144.5" y2="712.1" stroke="#3a3a3a" stroke-width="0.8"/><line x1="148.5" y1="710.5" x2="148.5" y2="712.1" stroke="#3a3a3a" stroke-width="0.8"/><line x1="151.5" y1="710.5" x2="151.5" y2="712.1" stroke="#3a3a3a" stroke-width="0.8"/><line x1="153.5" y1="710.5" x2="153.5" y2="712.1" stroke="#3a3a3a" stroke-width="0.8"/><line x1="155.5" y1="710.5" x2="155.5" y2="712.1" stroke="#3a3a3a" stroke-width="0.8"/><line x1="157.5" y1="710.5" x2="157.5" y2="712.1" stroke="#3a3a3a" stroke-width="0.8"/><line x1="158.5" y1="710.5" x2="158.5" y2="712.1" stroke="#3a3a3a" stroke-width="0.8"/><line x1="167.5" y1="710.5" x2="167.5" y2="712.1" stroke="#3a3a3a" stroke-width="0.8"/><line x1="171.5" y1="710.5" x2="171.5" y2="712.1" stroke="#3a3a3a" stroke-width="0.8"/><line x1="175.5" y1="710.5" x2="175.5" y2="712.1" stroke="#3a3a3a" stroke-width="0.8"/><line x1="177.5" y1="710.5" x2="177.5" y2="712.1" stroke="#3a3a3a" stroke-width="0.8"/><line x1="179.5" y1="710.5" x2="179.5" y2="712.1" stroke="#3a3a3a" stroke-width="0.8"/><line x1="181.5" y1="710.5" x2="181.5" y2="712.1" stroke="#3a3a3a" stroke-width="0.8"/><line x1="182.5" y1="710.5" x2="182.5" y2="712.1" stroke="#3a3a3a" stroke-width="0.8"/><line x1="183.5" y1="710.5" x2="183.5" y2="712.1" stroke="#3a3a3a" stroke-width="0.8"/><text transform="translate(115.05 568.10) translate(-44.90 0) scale(0.964 1)" font-size="8.4">[CD45+] FITC-A / SSC-A</text><text transform="translate(14.30 641.45) rotate(-90) translate(-10.75 0) scale(0.733 1)" font-size="9.6">SSC-A</text><text transform="translate(115.05 733.70) translate(-13.70 0) scale(0.905 1)" font-size="9.4">FITC-A</text><text transform="translate(12.92 725) scale(1.095 1)" font-size="19.8" fill="#000" stroke="#000" stroke-width=".75">M</text><rect x="152.5" y="663.8" width="22.8" height="12.3" fill="#fff" fill-opacity="0.6" stroke="#c8c8c8" stroke-width="0.8" rx="1.5"/><text transform="translate(154.00 673.20) translate(0.00 0) scale(0.798 1)" font-size="9.6">CD3+</text><path d="M274 680h1m-7 2h1m8 1h1m4 1h1m6 1h1m62 0h1m0 1h1m-76 1h1m3 0h1m3 0h1m65 0h1m13 0h1m-77 1h1m60 0h1m-75 1h1m9 0h2m50 0h1m1 0h1m17 0h1m-78 1h1m2 0h1m2 0h1m36 0h1m10 0h1m15 0h2m4 0h2m-85 1h2m3 0h1m6 0h1m1 0h1m1 0h1m31 0h1m10 0h1m11 0h1m19 0h1m-93 1h1m3 0h1m3 0h1m4 0h1m1 0h2m12 0h1m6 0h1m9 0h1m6 0h1m3 0h1m8 0h1m2 0h1m7 0h1m2 0h1m1 0h1m4 0h1m5 0h1m-95 1h1m1 0h1m1 0h1m5 0h1m9 0h1m7 0h1m3 0h1m2 0h2m1 0h1m3 0h1m1 0h2m1 0h2m1 0h1m3 0h1m1 0h1m10 0h1m4 0h1m5 0h1m2 0h4m3 0h1m-86 1h1m2 0h1m1 0h4m4 0h1m1 0h1m1 0h1m4 0h1m2 0h1m1 0h1m6 0h1m1 0h1m5 0h1m4 0h1m2 0h1m2 0h1m1 0h1m5 0h1m3 0h3m1 0h1m1 0h2m1 0h2m1 0h3m1 0h1m1 0h2m-91 1h1m1 0h1m8 0h2m1 0h3m3 0h4m2 0h2m1 0h1m1 0h1m7 0h1m5 0h2m4 0h1m1 0h1m1 0h1m2 0h1m2 0h2m3 0h2m2 0h1m2 0h1m1 0h1m3 0h1m2 0h1m3 0h2m4 0h1m2 0h1m-90 1h1m3 0h2m8 0h1m4 0h1m1 0h1m13 0h3m2 0h1m3 0h1m2 0h1m6 0h3m5 0h1m5 0h5m2 0h1m1 0h5m9 0h1m-91 1h1m1 0h1m1 0h2m1 0h1m3 0h4m1 0h1m1 0h1m1 0h3m5 0h1m14 0h2m1 0h1m4 0h1m2 0h1m1 0h1m7 0h3m2 0h3m2 0h1m3 0h2m1 0h1m3 0h1m-88 1h1m8 0h2m1 0h1m1 0h1m3 0h1m17 0h2m1 0h1m2 0h1m2 0h1m9 0h1m6 0h2m1 0h1m4 0h1m3 0h1m2 0h1m2 0h2m1 0h3m1 0h2m-92 1h2m13 0h2m1 0h1m6 0h1m6 0h1m1 0h1m6 0h1m6 0h2m2 0h1m5 0h1m2 0h1m8 0h1m3 0h3m4 0h1m1 0h1m1 0h1m1 0h1m-82 1h4m3 0h3m9 0h1m16 0h1m4 0h1m5 0h1m1 0h1m12 0h2m4 0h1m5 0h1m2 0h2m4 0h1m-87 1h1m5 0h1m4 0h1m1 0h1m2 0h1m23 0h1m4 0h2m5 0h1m12 0h1m3 0h1m6 0h1m1 0h1m7 0h1m2 0h1m-82 1h1m38 0h1m10 0h1m19 0h1m-65 1h1m26 0h1m22 0h1m11 0h1m-62 1h1m39 0h1" stroke="#3040f0" stroke-opacity="0.62" transform="translate(0 .5)"/><path d="M364 686h1m0 1h1m-4 1h1m-82 1h1m77 0h1m2 0h2m-85 1h1m4 0h2m64 0h1m5 0h1m1 0h5m1 0h2m-91 1h2m2 0h1m3 0h1m70 0h2m1 0h8m3 0h1m-96 1h1m3 0h3m1 0h7m2 0h1m59 0h1m3 0h9m1 0h2m-91 1h7m1 0h1m1 0h1m1 0h1m61 0h4m2 0h9m1 0h2m1 0h1m-95 1h12m1 0h2m59 0h1m2 0h8m1 0h3m1 0h1m1 0h1m-96 1h2m2 0h10m1 0h3m61 0h2m2 0h13m-94 1h16m60 0h1m1 0h4m1 0h3m1 0h4m6 0h1m-99 1h1m1 0h1m1 0h10m1 0h3m59 0h13m2 0h3m-93 1h14m1 0h2m56 0h1m1 0h5m1 0h6m2 0h1m-88 1h10m1 0h3m60 0h3m1 0h4m1 0h5m-93 1h2m2 0h2m2 0h8m66 0h8m-90 1h1m3 0h8m1 0h4m63 0h1m3 0h3m-85 1h1m2 0h1m3 0h1m2 0h1m1 0h1m66 0h1m-78 1h1m8 0h1m68 0h1m1 0h1m-2 1h1" stroke="#0000ff" transform="translate(0 .5)"/><line x1="246.5" y1="571.5" x2="385.5" y2="571.5" stroke="#8a8a8a" stroke-width="1"/><line x1="385.5" y1="571.5" x2="385.5" y2="710.5" stroke="#8a8a8a" stroke-width="1"/><line x1="246.5" y1="571" x2="246.5" y2="711" stroke="#3a3a3a" stroke-width="1"/><line x1="246" y1="710.5" x2="386" y2="710.5" stroke="#3a3a3a" stroke-width="1"/><line x1="244.9" y1="696.5" x2="246.5" y2="696.5" stroke="#3a3a3a" stroke-width="1"/><line x1="243.5" y1="682.5" x2="246.5" y2="682.5" stroke="#3a3a3a" stroke-width="1"/><text transform="translate(242.60 685.14) translate(-9.90 0) scale(0.848 1)" font-size="7.0">200</text><line x1="244.9" y1="668.5" x2="246.5" y2="668.5" stroke="#3a3a3a" stroke-width="1"/><line x1="243.5" y1="654.5" x2="246.5" y2="654.5" stroke="#3a3a3a" stroke-width="1"/><text transform="translate(242.60 657.48) translate(-9.90 0) scale(0.848 1)" font-size="7.0">400</text><line x1="244.9" y1="640.5" x2="246.5" y2="640.5" stroke="#3a3a3a" stroke-width="1"/><line x1="243.5" y1="627.5" x2="246.5" y2="627.5" stroke="#3a3a3a" stroke-width="1"/><text transform="translate(242.60 629.82) translate(-9.90 0) scale(0.848 1)" font-size="7.0">600</text><line x1="244.9" y1="613.5" x2="246.5" y2="613.5" stroke="#3a3a3a" stroke-width="1"/><line x1="243.5" y1="599.5" x2="246.5" y2="599.5" stroke="#3a3a3a" stroke-width="1"/><text transform="translate(242.60 602.16) translate(-9.90 0) scale(0.848 1)" font-size="7.0">800</text><line x1="244.9" y1="585.5" x2="246.5" y2="585.5" stroke="#3a3a3a" stroke-width="1"/><line x1="243.5" y1="571.5" x2="246.5" y2="571.5" stroke="#3a3a3a" stroke-width="1"/><text transform="translate(242.60 574.50) translate(-13.20 0) scale(0.848 1)" font-size="7.0">1000</text><text x="226" y="584.2" font-size="7" text-anchor="middle" transform="rotate(-90 226 584.2)">(x 10<tspan font-size="4" dy="-2.2">3</tspan><tspan dy="2.2">)</tspan></text><line x1="258.5" y1="710.5" x2="258.5" y2="713.5" stroke="#3a3a3a" stroke-width="1"/><text transform="translate(258.50 720.80) translate(-8.25 0) scale(0.922 1)" font-size="7.0">-1000</text><line x1="278.5" y1="710.5" x2="278.5" y2="713.5" stroke="#3a3a3a" stroke-width="1"/><text transform="translate(278.00 720.80) translate(-1.65 0) scale(0.848 1)" font-size="7.0">0</text><line x1="299.5" y1="710.5" x2="299.5" y2="713.5" stroke="#3a3a3a" stroke-width="1"/><text transform="translate(299.00 720.80) translate(-6.60 0) scale(0.848 1)" font-size="7.0">1000</text><line x1="334.5" y1="710.5" x2="334.5" y2="713.5" stroke="#3a3a3a" stroke-width="1"/><text x="329.6" y="720.8" font-size="7.0"><tspan textLength="6.6" lengthAdjust="spacingAndGlyphs">10</tspan><tspan font-size="4.2" dy="-2.6">4</tspan></text><line x1="360.5" y1="710.5" x2="360.5" y2="713.5" stroke="#3a3a3a" stroke-width="1"/><text x="356.1" y="720.8" font-size="7.0"><tspan textLength="6.6" lengthAdjust="spacingAndGlyphs">10</tspan><tspan font-size="4.2" dy="-2.6">5</tspan></text><line x1="385.5" y1="710.5" x2="385.5" y2="713.5" stroke="#3a3a3a" stroke-width="1"/><text x="381.1" y="720.8" font-size="7.0"><tspan textLength="6.6" lengthAdjust="spacingAndGlyphs">10</tspan><tspan font-size="4.2" dy="-2.6">6</tspan></text><line x1="309.5" y1="710.5" x2="309.5" y2="712.1" stroke="#3a3a3a" stroke-width="0.8"/><line x1="315.5" y1="710.5" x2="315.5" y2="712.1" stroke="#3a3a3a" stroke-width="0.8"/><line x1="320.5" y1="710.5" x2="320.5" y2="712.1" stroke="#3a3a3a" stroke-width="0.8"/><line x1="323.5" y1="710.5" x2="323.5" y2="712.1" stroke="#3a3a3a" stroke-width="0.8"/><line x1="326.5" y1="710.5" x2="326.5" y2="712.1" stroke="#3a3a3a" stroke-width="0.8"/><line x1="328.5" y1="710.5" x2="328.5" y2="712.1" stroke="#3a3a3a" stroke-width="0.8"/><line x1="330.5" y1="710.5" x2="330.5" y2="712.1" stroke="#3a3a3a" stroke-width="0.8"/><line x1="332.5" y1="710.5" x2="332.5" y2="712.1" stroke="#3a3a3a" stroke-width="0.8"/><line x1="341.5" y1="710.5" x2="341.5" y2="712.1" stroke="#3a3a3a" stroke-width="0.8"/><line x1="346.5" y1="710.5" x2="346.5" y2="712.1" stroke="#3a3a3a" stroke-width="0.8"/><line x1="349.5" y1="710.5" x2="349.5" y2="712.1" stroke="#3a3a3a" stroke-width="0.8"/><line x1="352.5" y1="710.5" x2="352.5" y2="712.1" stroke="#3a3a3a" stroke-width="0.8"/><line x1="354.5" y1="710.5" x2="354.5" y2="712.1" stroke="#3a3a3a" stroke-width="0.8"/><line x1="356.5" y1="710.5" x2="356.5" y2="712.1" stroke="#3a3a3a" stroke-width="0.8"/><line x1="357.5" y1="710.5" x2="357.5" y2="712.1" stroke="#3a3a3a" stroke-width="0.8"/><line x1="359.5" y1="710.5" x2="359.5" y2="712.1" stroke="#3a3a3a" stroke-width="0.8"/><line x1="368.5" y1="710.5" x2="368.5" y2="712.1" stroke="#3a3a3a" stroke-width="0.8"/><line x1="372.5" y1="710.5" x2="372.5" y2="712.1" stroke="#3a3a3a" stroke-width="0.8"/><line x1="375.5" y1="710.5" x2="375.5" y2="712.1" stroke="#3a3a3a" stroke-width="0.8"/><line x1="377.5" y1="710.5" x2="377.5" y2="712.1" stroke="#3a3a3a" stroke-width="0.8"/><line x1="379.5" y1="710.5" x2="379.5" y2="712.1" stroke="#3a3a3a" stroke-width="0.8"/><line x1="381.5" y1="710.5" x2="381.5" y2="712.1" stroke="#3a3a3a" stroke-width="0.8"/><line x1="383.5" y1="710.5" x2="383.5" y2="712.1" stroke="#3a3a3a" stroke-width="0.8"/><line x1="384.5" y1="710.5" x2="384.5" y2="712.1" stroke="#3a3a3a" stroke-width="0.8"/><text transform="translate(316.05 568.10) translate(-42.00 0) scale(0.965 1)" font-size="8.4">[CD3+] APC-A / SSC-A</text><text transform="translate(215.30 641.35) rotate(-90) translate(-10.75 0) scale(0.733 1)" font-size="9.6">SSC-A</text><text transform="translate(316.05 733.50) translate(-11.85 0) scale(0.825 1)" font-size="9.4">APC-A</text><text transform="translate(215.13 725) scale(0.967 1)" font-size="19.8" fill="#000" stroke="#000" stroke-width=".75">N</text><rect x="324.5" y="676.5" width="47" height="31" fill="none" stroke="#4a4a4a" stroke-width="1.1"/><rect x="326.9" y="660" width="23" height="12.3" fill="#fff" fill-opacity="0.6" stroke="#c8c8c8" stroke-width="0.8" rx="1.5"/><text transform="translate(328.40 669.40) translate(0.00 0) scale(0.806 1)" font-size="9.6">CD8+</text><path d="M483 658h1m16 1h1m-10 1h1m3 0h1m15 0h1m3 0h1m-20 1h2m7 0h1m9 0h1m-26 1h1m9 0h1m2 0h1m1 0h1m-2 2h1m-22 1h1m15 0h1m2 0h1m-13 1h1m4 0h2m6 0h1m1 0h2m3 0h1m-26 1h1m11 0h2m5 0h1m2 0h1m3 0h1m-26 1h1m3 0h1m1 0h1m2 0h1m3 0h1m4 0h1m-37 1h1m17 0h2m4 0h2m1 0h1m1 0h2m8 0h3m19 0h1m-51 1h1m12 0h1m2 0h2m1 0h3m1 0h1m3 0h1m1 0h1m-36 1h1m4 0h1m1 0h2m5 0h1m5 0h2m6 0h1m10 0h1m-37 1h2m10 0h1m1 0h1m1 0h1m2 0h2m1 0h4m1 0h1m1 0h1m1 0h1m1 0h1m-39 1h1m4 0h1m7 0h1m1 0h3m2 0h3m1 0h1m4 0h1m1 0h2m2 0h2m-42 1h1m6 0h1m7 0h4m6 0h2m1 0h4m1 0h1m3 0h1m2 0h1m2 0h1m-47 1h1m21 0h2m1 0h3m2 0h1m1 0h5m2 0h2m2 0h2m4 0h1m-30 1h1m1 0h2m1 0h2m1 0h1m1 0h5m1 0h4m1 0h1m2 0h1m5 0h1m-44 1h1m7 0h1m3 0h1m3 0h2m1 0h2m2 0h1m1 0h3m1 0h1m2 0h2m1 0h3m-31 1h4m3 0h1m2 0h4m2 0h3m1 0h5m1 0h2m-30 1h1m1 0h1m1 0h1m11 0h2m1 0h1m2 0h2m2 0h2m1 0h2m-40 1h1m6 0h1m1 0h1m2 0h1m1 0h2m2 0h2m3 0h1m1 0h5m1 0h1m1 0h2m2 0h2m1 0h1m2 0h1m2 0h1m-51 1h1m3 0h1m2 0h1m8 0h1m1 0h1m2 0h6m2 0h1m1 0h1m1 0h1m5 0h4m3 0h1m2 0h1m6 0h1m-58 1h1m7 0h1m7 0h3m3 0h1m3 0h2m3 0h1m2 0h3m1 0h1m11 0h1m-45 1h1m9 0h1m3 0h1m1 0h1m1 0h1m4 0h1m2 0h1m2 0h1m2 0h1m6 0h2m2 0h1m-43 1h1m7 0h1m1 0h1m1 0h4m1 0h1m2 0h2m1 0h5m5 0h1m2 0h1m8 0h1m-49 1h1m3 0h3m13 0h1m1 0h1m3 0h1m7 0h4m2 0h1m-33 1h1m2 0h1m1 0h2m4 0h1m1 0h1m1 0h1m4 0h2m1 0h2m6 0h1m1 0h1m-30 1h1m7 0h1m1 0h1m2 0h1m2 0h1m1 0h1m13 0h1m-36 1h1m9 0h1m3 0h3m1 0h1m-5 1h2m10 0h1m-31 1h1m2 0h1m2 0h1m5 0h2m10 0h1m7 0h1m-37 1h1m25 0h1m-15 1h1m12 0h1m-24 1h1m3 0h1m15 0h1m9 0h1m2 0h1m-23 1h1m7 0h1m-27 2h1m22 0h1m8 0h1m6 0h1m-26 1h1m-1 3h1m12 0h1m-11 2h1" stroke="#8a8a8a" stroke-opacity="0.62" transform="translate(0 .5)"/><path d="M507 592h1m18 2h1m13 5h1m-13 3h1m45 2h1m-12 1h1m-94 2h1m55 11h1m-57 3h1m49 2h1m-10 1h1m24 0h1m7 0h1m34 3h1m-58 3h1m-26 1h1m25 2h1m16 0h1m42 3h1m-58 3h1m46 2h1m-40 1h1m5 1h1m-67 1h1m18 3h1m7 0h1m32 3h1m45 0h1m-45 1h2m-44 1h1m2 0h1m10 0h1m9 0h1m20 0h1m-29 1h1m21 0h1m-56 3h1m21 0h1m48 0h1m-33 1h1m-34 1h1m44 0h1m-35 1h1m64 0h1m-57 1h1m11 0h1m12 1h1m9 0h1m-42 1h1m31 0h1m8 0h1m8 1h1m-49 1h1m2 0h1m27 0h1m22 0h1m-62 1h1m15 0h2m51 0h1m-89 1h1m33 0h1m2 0h1m10 0h1m33 0h1m-44 1h1m3 0h1m7 0h2m7 0h1m-54 1h1m39 0h1m36 0h1m11 0h1m-70 1h1m4 0h1m18 0h1m-44 1h2m8 0h1m19 0h1m-25 1h1m80 0h1m-89 1h1m13 0h1m7 0h1m-15 1h1m8 0h1m12 0h1m11 0h1m-61 2h1m51 0h1m8 0h1m27 0h1m-43 1h1m16 0h1m26 0h1m-59 1h1m1 0h1m8 0h1m4 0h1m7 0h2m2 0h1m-55 1h1m4 0h1m5 0h1m13 0h1m26 0h1m3 0h1m-27 1h1m20 0h1m-38 1h1m24 0h2m-56 2h1m61 0h1m-35 1h1m29 0h2m-39 1h1m34 0h1m-41 1h1m29 0h1m5 0h3m1 0h1m-30 1h1m19 1h1m4 0h1m7 0h1m-46 2h1m55 1h1m-14 1h1m-5 1h1m10 0h1m-40 1h1m-27 2h1m33 0h1m5 1h1m-2 3h1m79 3h1m-39 1h1" stroke="#a0a0a0" stroke-opacity="0.62" transform="translate(0 .5)"/><path d="M484 661h1m-1 4h1m-10 1h2m4 0h3m-4 2h1m-17 1h1m4 0h1m7 0h1m11 0h1m-22 1h1m7 0h1m3 0h1m2 0h1m1 0h1m1 0h1m1 0h1m-13 1h1m2 0h3m3 0h1m1 0h1m2 0h1m-20 1h2m4 0h1m1 0h1m-12 1h1m2 0h1m2 0h7m-25 1h2m8 0h1m6 0h1m2 0h1m2 0h1m4 0h2m-11 1h2m3 0h1m3 0h3m-18 1h2m1 0h1m2 0h1m1 0h1m1 0h1m1 0h5m1 0h1m2 0h1m-33 1h1m9 0h1m1 0h1m1 0h1m1 0h1m1 0h1m1 0h4m5 0h1m2 0h1m-30 1h3m5 0h4m5 0h3m3 0h1m2 0h1m7 0h1m-39 1h1m9 0h1m2 0h1m1 0h1m5 0h1m4 0h2m2 0h1m-32 1h1m1 0h1m2 0h1m15 0h1m2 0h1m1 0h1m3 0h1m-28 1h1m4 0h1m2 0h1m8 0h3m5 0h1m2 0h1m-34 1h1m6 0h1m6 0h1m1 0h1m1 0h1m2 0h1m9 0h1m-33 1h1m4 0h1m2 0h1m5 0h1m1 0h2m1 0h1m1 0h1m1 0h4m-27 1h1m10 0h1m6 0h1m3 0h1m8 0h1m-18 1h1m1 0h1m2 0h1m11 0h1m-22 1h2m1 0h2m-20 1h2m2 0h1m2 0h2m12 0h1m-16 1h1m6 0h2m4 0h2m1 0h1m4 0h1m-28 1h1m9 0h1m2 0h1m9 0h1m2 0h1m1 0h1m-24 1h2m7 0h2m2 0h2m16 0h1m-29 1h1m18 0h1m-16 1h1m-5 1h1m0 1h1m1 0h2m1 0h1m-8 1h1m8 0h1m9 1h1m-21 1h1m4 0h1m5 0h1m-9 2h2m4 0h1m3 0h1m-13 2h1m3 2h1m2 0h1" stroke="#c060d0" stroke-opacity="0.62" transform="translate(0 .5)"/><path d="M468 687h1m-9 1h1m-11 1h1m13 0h1m-4 2h1m-8 1h1m3 0h1m-1 1h1m1 0h1m1 0h1m2 0h1m-13 1h1m2 0h2m1 0h2m4 0h1m-12 1h5m1 0h1m1 0h1m-11 1h1m6 0h1m-9 1h1m3 0h1m2 0h1m1 0h1m-13 1h7m1 0h3m-10 1h1m2 0h1m1 0h2m1 0h1m2 0h1m4 0h1m-17 1h1m1 0h1m4 0h1m1 0h2m-12 1h1m2 0h2m4 0h1m-8 1h1m2 0h1m2 0h1m-8 1h1m2 0h1m6 0h1" stroke="#b070c0" stroke-opacity="0.62" transform="translate(0 .5)"/><g filter="url(#bl06)"><ellipse cx="478.5" cy="676" rx="8" ry="5.2" fill="#d040d8" fill-opacity="0.85" transform="rotate(-20 478.5 676)"/><ellipse cx="478.5" cy="676" rx="5" ry="3.4" fill="#b020c0" fill-opacity="0.9" transform="rotate(-20 478.5 676)"/><ellipse cx="453.5" cy="697" rx="6" ry="4.2" fill="#d040d8" fill-opacity="0.9" transform="rotate(-30 453.5 697)"/><ellipse cx="453" cy="697.5" rx="3" ry="2" fill="#7030c0" transform="rotate(-30 453 697.5)"/><ellipse cx="461.5" cy="681.3" rx="9.8" ry="6.4" fill="#d030d8" transform="rotate(-30 461.5 681.3)"/><ellipse cx="461.5" cy="681.3" rx="6.5" ry="3.9" fill="#7040d8" transform="rotate(-30 461.5 681.3)"/><ellipse cx="461.5" cy="681.3" rx="4.2" ry="2.5" fill="#2090c0" transform="rotate(-30 461.5 681.3)"/><ellipse cx="462" cy="681" rx="2.2" ry="1.5" fill="#10c850" transform="rotate(-30 462 681)"/></g><ellipse cx="461.5" cy="681.3" rx="11" ry="7.2" fill="none" stroke="#2a4a4a" stroke-width="0.9" transform="rotate(-30 461.5 681.3)"/><line x1="446.5" y1="571.5" x2="587.5" y2="571.5" stroke="#8a8a8a" stroke-width="1"/><line x1="587.5" y1="571.5" x2="587.5" y2="704.5" stroke="#8a8a8a" stroke-width="1"/><line x1="446.5" y1="571" x2="446.5" y2="705" stroke="#3a3a3a" stroke-width="1"/><line x1="446" y1="704.5" x2="588" y2="704.5" stroke="#3a3a3a" stroke-width="1"/><line x1="444.9" y1="690.5" x2="446.5" y2="690.5" stroke="#3a3a3a" stroke-width="1"/><line x1="443.5" y1="677.5" x2="446.5" y2="677.5" stroke="#3a3a3a" stroke-width="1"/><text transform="translate(442.60 680.34) translate(-9.90 0) scale(0.848 1)" font-size="7.0">200</text><line x1="444.9" y1="664.5" x2="446.5" y2="664.5" stroke="#3a3a3a" stroke-width="1"/><line x1="443.5" y1="651.5" x2="446.5" y2="651.5" stroke="#3a3a3a" stroke-width="1"/><text transform="translate(442.60 653.88) translate(-9.90 0) scale(0.848 1)" font-size="7.0">400</text><line x1="444.9" y1="637.5" x2="446.5" y2="637.5" stroke="#3a3a3a" stroke-width="1"/><line x1="443.5" y1="624.5" x2="446.5" y2="624.5" stroke="#3a3a3a" stroke-width="1"/><text transform="translate(442.60 627.42) translate(-9.90 0) scale(0.848 1)" font-size="7.0">600</text><line x1="444.9" y1="611.5" x2="446.5" y2="611.5" stroke="#3a3a3a" stroke-width="1"/><line x1="443.5" y1="598.5" x2="446.5" y2="598.5" stroke="#3a3a3a" stroke-width="1"/><text transform="translate(442.60 600.96) translate(-9.90 0) scale(0.848 1)" font-size="7.0">800</text><line x1="444.9" y1="584.5" x2="446.5" y2="584.5" stroke="#3a3a3a" stroke-width="1"/><line x1="443.5" y1="571.5" x2="446.5" y2="571.5" stroke="#3a3a3a" stroke-width="1"/><text transform="translate(442.60 574.50) translate(-13.20 0) scale(0.848 1)" font-size="7.0">1000</text><text x="426" y="584.2" font-size="7" text-anchor="middle" transform="rotate(-90 426 584.2)">(x 10<tspan font-size="4" dy="-2.2">3</tspan><tspan dy="2.2">)</tspan></text><line x1="460.5" y1="704.5" x2="460.5" y2="706.1" stroke="#3a3a3a" stroke-width="1"/><line x1="474.5" y1="704.5" x2="474.5" y2="707.5" stroke="#3a3a3a" stroke-width="1"/><text transform="translate(474.68 714.80) translate(-4.95 0) scale(0.848 1)" font-size="7.0">200</text><line x1="488.5" y1="704.5" x2="488.5" y2="706.1" stroke="#3a3a3a" stroke-width="1"/><line x1="502.5" y1="704.5" x2="502.5" y2="707.5" stroke="#3a3a3a" stroke-width="1"/><text transform="translate(502.76 714.80) translate(-4.95 0) scale(0.848 1)" font-size="7.0">400</text><line x1="516.5" y1="704.5" x2="516.5" y2="706.1" stroke="#3a3a3a" stroke-width="1"/><line x1="530.5" y1="704.5" x2="530.5" y2="707.5" stroke="#3a3a3a" stroke-width="1"/><text transform="translate(530.84 714.80) translate(-4.95 0) scale(0.848 1)" font-size="7.0">600</text><line x1="544.5" y1="704.5" x2="544.5" y2="706.1" stroke="#3a3a3a" stroke-width="1"/><line x1="558.5" y1="704.5" x2="558.5" y2="707.5" stroke="#3a3a3a" stroke-width="1"/><text transform="translate(558.92 714.80) translate(-4.95 0) scale(0.848 1)" font-size="7.0">800</text><line x1="572.5" y1="704.5" x2="572.5" y2="706.1" stroke="#3a3a3a" stroke-width="1"/><line x1="587.5" y1="704.5" x2="587.5" y2="707.5" stroke="#3a3a3a" stroke-width="1"/><text transform="translate(587.00 714.80) translate(-6.60 0) scale(0.848 1)" font-size="7.0">1000</text><text x="590" y="722.5" font-size="6.8" text-anchor="end">(x 10<tspan font-size="4.3" dy="-2.4">3</tspan><tspan dy="2.4">)</tspan></text><text transform="translate(516.80 568.10) translate(-48.40 0) scale(1.002 1)" font-size="8.4">[Ungated] SSC-A / FSC-A</text><text transform="translate(415.30 638.35) rotate(-90) translate(-10.75 0) scale(0.747 1)" font-size="9.6">FSC-A</text><text transform="translate(516.80 733.50) translate(-11.50 0) scale(0.801 1)" font-size="9.4">SSC-A</text><text transform="translate(415.83 725.3) scale(0.925 1)" font-size="19.8" fill="#000" stroke="#000" stroke-width=".75">O</text><rect x="487.3" y="648.6" width="9.2" height="11.8" fill="#fff" fill-opacity="0.6" stroke="#c8c8c8" stroke-width="0.8" rx="1.5"/><text transform="translate(488.80 657.60) translate(0.00 0) scale(1.010 1)" font-size="9.2">A</text><path d="M682 588h1m15 1h1m-9 1h1m8 0h1m13 3h1m9 0h1m-35 1h1m7 0h1m24 0h1m-35 1h1m1 0h1m2 0h1m1 0h1m1 1h1m3 0h2m-27 1h1m15 0h1m2 0h1m2 0h1m1 0h4m12 0h1m6 0h1m-43 1h1m8 0h1m1 0h1m6 0h1m2 0h1m1 0h2m6 0h1m-37 1h1m9 0h3m2 0h1m2 0h2m2 0h6m4 0h1m1 0h1m4 0h1m3 0h1m3 0h1m2 0h1m-51 1h1m3 0h1m6 0h6m7 0h2m2 0h2m5 0h1m-39 1h1m15 0h6m2 0h2m3 0h4m2 0h4m2 0h1m3 0h1m-36 1h4m2 0h1m1 0h2m1 0h1m1 0h2m1 0h4m1 0h2m2 0h3m3 0h1m7 0h1m3 0h1m-63 1h1m18 0h1m2 0h1m1 0h5m1 0h3m1 0h4m1 0h9m8 0h1m-51 1h1m14 0h2m2 0h2m3 0h1m1 0h1m3 0h4m1 0h1m1 0h3m4 0h1m-34 1h1m1 0h2m1 0h4m2 0h3m1 0h1m1 0h1m1 0h6m1 0h1m1 0h2m4 0h1m9 0h1m2 0h1m-62 1h2m5 0h2m1 0h1m5 0h1m3 0h7m1 0h2m1 0h2m1 0h2m1 0h1m1 0h1m1 0h1m3 0h2m1 0h1m5 0h1m1 0h1m9 0h1m-51 1h2m2 0h2m2 0h7m2 0h1m1 0h5m1 0h2m4 0h1m2 0h2m-45 1h1m6 0h1m3 0h1m1 0h6m1 0h5m2 0h3m2 0h1m2 0h2m6 0h1m4 0h1m-49 1h3m4 0h3m2 0h2m1 0h4m1 0h2m1 0h3m1 0h1m6 0h2m1 0h1m2 0h1m2 0h2m-52 1h1m8 0h2m5 0h3m9 0h1m1 0h1m1 0h1m3 0h3m1 0h1m3 0h2m5 0h1m-32 1h1m3 0h1m1 0h4m5 0h1m1 0h1m1 0h1m2 0h1m1 0h2m-42 1h1m9 0h1m10 0h1m5 0h1m2 0h1m7 0h1m4 0h1m6 0h2m-44 1h1m1 0h1m4 0h2m10 0h1m2 0h1m14 0h1m-27 1h1m3 0h1m7 0h1m9 0h1m4 0h1m-36 1h1m7 0h1m9 0h1m12 0h1m-41 1h1m36 0h1m-25 1h1m16 0h1" stroke="#9a80a8" stroke-opacity="0.62" transform="translate(0 .5)"/><path d="M746 608h1m3 0h1m5 2h1m-22 1h1m13 1h3m-5 1h1m-4 1h1m3 0h1m6 0h1m-10 1h2m1 0h2m7 0h1m-18 1h1m5 0h1m5 0h1m-11 1h1m-1 1h1m2 0h1m3 0h2m-9 1h1m3 0h1m0 1h1m-7 1h1m2 0h1m2 0h1m0 1h1m5 1h1m-9 1h1m2 1h2m-5 4h1m0 1h1m1 0h1m-28 4h1m18 2h1m3 0h1m16 1h1m-32 1h1m-4 2h1m7 0h1m32 4h1m-32 1h1m2 0h1m1 3h1m-25 1h1m30 0h1m-22 1h1m-1 1h1m1 0h1m22 1h1m-29 1h1m13 0h1m2 0h1m-51 1h1m35 0h1m-1 1h1m5 2h1m7 0h1m-43 1h1m27 1h1m-17 1h1m1 0h1m7 0h1m34 0h1m-32 1h1m4 0h1m19 0h1m-61 1h1m-11 1h1m16 0h2m40 0h1m-75 1h1m21 0h1m6 0h2m1 0h1m0 1h1m1 0h2m6 0h1m7 0h1m20 0h1m-43 1h1m9 0h2m3 0h1m29 0h1m-46 1h2m2 0h1m2 0h1m2 0h2m17 0h1m7 0h1m2 0h1m17 0h1m-73 1h1m3 0h1m4 0h2m2 0h1m4 0h1m2 0h1m2 0h3m19 0h1m10 0h1m-65 1h1m2 0h2m4 0h1m3 0h1m10 0h1m3 0h1m26 0h1m-50 1h1m3 0h1m2 0h4m6 0h1m2 0h1m3 0h1m1 0h1m49 0h1m-92 1h1m10 0h1m3 0h4m1 0h3m1 0h2m1 0h1m3 0h3m1 0h1m1 0h1m1 0h3m-33 1h1m9 0h2m2 0h1m1 0h1m1 0h1m1 0h1m3 0h3m1 0h1m6 0h1m3 0h1m8 0h1m20 0h1m-67 1h1m4 0h1m2 0h1m1 0h2m7 0h2m1 0h2m3 0h1m1 0h1m2 0h1m-26 1h1m1 0h3m2 0h1m2 0h1m1 0h2m9 0h1m1 0h1m34 0h1m-66 1h1m5 0h1m4 0h2m3 0h1m4 0h1m1 0h1m1 0h1m3 0h1m3 0h1m35 0h1m-72 1h1m5 0h1m6 0h6m1 0h2m2 0h1m2 0h1m1 0h1m1 0h3m1 0h2m11 0h1m3 0h1m-42 1h3m3 0h1m6 0h1m2 0h3m1 0h2m2 0h1m1 0h1m29 0h1m-70 1h1m4 0h1m3 0h1m3 0h1m2 0h1m1 0h1m1 0h1m4 0h2m3 0h1m-26 1h1m2 0h1m3 0h1m7 0h2m9 0h1m1 0h1m-28 1h2m2 0h1m8 0h3m7 0h1m8 0h1m17 0h1m-44 1h1m1 0h1m5 0h1m17 0h1m1 0h1m-38 1h1m2 0h1m5 0h1m12 0h1m-20 1h2m4 0h1m2 0h1m2 0h1m2 0h1m2 0h1m-3 1h1m9 0h1m7 0h1m-36 1h1m13 0h1m1 0h1m15 6h1" stroke="#9a9a9a" stroke-opacity="0.62" transform="translate(0 .5)"/><path d="M746 615h1m2 2h1m-7 2h1m4 0h1m1 1h1m9 1h1m-10 1h1m-2 3h1m2 0h1m-12 1h1m-1 1h1m4 1h2m-1 1h1m-4 1h1m10 0h1m-7 1h1m-8 2h1m-3 1h1m5 0h1m1 1h1m1 0h1m-8 1h1m1 0h1m1 0h1m1 0h1m-9 1h1m2 0h1m2 1h1m1 0h1m2 0h1m-8 1h1m1 0h1m-4 1h1m1 0h2m1 0h1m-6 1h1m2 0h1m3 0h1m-12 1h1m6 0h1m1 0h1m-10 1h1m6 0h1m1 0h1m-8 2h1m1 0h3m8 0h1m-13 3h2m6 0h1m-15 1h1m14 0h1m-20 1h1m17 0h1m-7 1h1m2 0h1m-9 1h1m2 0h1m6 0h1m-3 1h1m-9 1h1m2 0h1m5 0h1m-2 1h1m-2 1h1m-6 2h1m0 4h1m7 0h1" stroke="#a0a0a0" stroke-opacity="0.62" transform="translate(0 .5)"/><path d="M741 649h1m-5 5h1m7 3h1m-12 1h1m10 0h1m-6 1h1m3 0h1m9 0h1m-26 1h1m20 0h1m-11 1h1m5 0h1m3 0h1m-20 1h1m7 0h1m-8 1h1m-3 1h1m8 0h1m4 0h1m5 0h1m8 0h1m-22 1h1m12 0h1m4 0h1m-29 1h1m4 0h1m1 0h1m3 0h4m8 0h1m8 0h1m-25 1h1m1 0h1m5 0h1m1 0h2m5 0h1m-14 1h1m3 0h1m2 0h1m2 0h1m-20 1h1m2 0h1m1 0h1m5 0h1m7 0h2m-9 1h1m3 0h1m4 0h1m4 0h1m-10 1h1m-12 1h1m6 0h2m1 0h2m1 0h1m-28 1h1m5 0h1m4 0h1m1 0h1m2 0h1m1 0h1m1 0h1m3 0h1m-16 1h2m3 0h1m3 0h1m5 0h1m2 0h1m-18 1h1m2 0h1m5 0h1m1 0h1m2 0h1m-25 1h1m9 0h1m7 0h1m2 0h1m3 0h1m2 0h2m2 0h1m-24 1h1m1 0h1m2 0h1m3 0h1m2 0h1m5 0h1m-29 1h1m8 0h1m1 0h4m2 0h1m4 0h1m2 0h1m-19 1h1m21 0h1m7 0h1m1 0h1m-44 1h1m2 0h1m12 0h1m1 0h2m2 0h1m1 0h2m12 0h1m-30 1h1m8 0h1m4 0h3m4 0h1m1 0h1m4 0h1m7 0h1m-27 1h1m2 0h1m1 0h4m1 0h1m2 0h1m2 0h1m-28 1h1m8 0h3m5 0h1m1 0h1m1 0h1m4 0h1m-23 1h1m5 0h2m1 0h1m2 0h2m1 0h1m1 0h2m7 0h2m-25 1h3m9 0h1m3 0h1m-18 1h1m4 0h1m2 0h1m5 0h1m2 0h1m-28 1h1m27 0h1m-14 1h1m4 0h1m2 0h1m1 0h1m1 0h2m-22 1h1m6 0h2m3 0h3m3 0h1m-15 1h1m2 0h1m1 0h1m5 0h1m3 0h1m-10 1h1m5 0h1m-3 1h1m1 0h1m-11 1h1m1 0h1m-13 2h1m14 0h1m-3 1h1m-8 1h1m3 0h1m0 1h1m2 0h1m-7 2h1m5 4h1m11 3h1" stroke="#c070d0" stroke-opacity="0.62" transform="translate(0 .5)"/><path d="M692 590h1m-6 5h1m3 1h1m-1 2h1m-5 1h1m2 0h1m10 0h1m3 0h1m4 0h1m-24 1h1m5 0h1m10 0h3m5 0h1m-30 1h1m3 0h1m2 0h1m3 0h1m1 0h2m5 0h2m3 0h1m2 0h2m-34 1h1m4 0h1m2 0h1m1 0h5m1 0h3m1 0h1m5 0h1m-26 1h1m5 0h1m5 0h5m1 0h1m2 0h3m1 0h1m5 0h1m-32 1h1m6 0h2m1 0h8m3 0h4m3 0h1m2 0h2m-25 1h1m5 0h7m1 0h6m1 0h1m4 0h1m-29 1h1m1 0h1m4 0h1m1 0h1m2 0h3m1 0h1m1 0h1m1 0h1m4 0h1m2 0h1m-32 1h1m2 0h2m1 0h1m2 0h4m4 0h1m-17 1h2m2 0h1m1 0h2m1 0h1m6 0h2m2 0h1m6 0h1m-24 1h2m4 0h3m5 0h1m4 0h1m-28 1h1m4 0h1m2 0h1m9 0h1m7 0h1m-23 1h2m4 0h1m7 0h1m6 0h1m-27 1h1m10 0h1m1 0h1m3 0h1m4 0h1m-21 1h1m1 0h1m7 0h1m1 0h1" stroke="#b050c8" transform="translate(0 .5)"/><g filter="url(#bl06)"><ellipse cx="696" cy="605" rx="9" ry="4" fill="#c050d0" fill-opacity="0.4" transform="rotate(-3 696 605)"/><ellipse cx="743.4" cy="677.3" rx="9" ry="12.5" fill="#e070f0" fill-opacity="0.8"/><ellipse cx="743.4" cy="677.3" rx="7.4" ry="10.5" fill="#c840e0"/><ellipse cx="743.5" cy="677.6" rx="5.8" ry="8.2" fill="#8040e0"/><ellipse cx="743.6" cy="677.8" rx="4" ry="5.8" fill="#3050e8"/><ellipse cx="743.6" cy="678" rx="2.2" ry="3.4" fill="#2090c0"/></g><line x1="640.5" y1="571.5" x2="786.5" y2="571.5" stroke="#8a8a8a" stroke-width="1"/><line x1="786.5" y1="571.5" x2="786.5" y2="710.5" stroke="#8a8a8a" stroke-width="1"/><line x1="640.5" y1="571" x2="640.5" y2="711" stroke="#3a3a3a" stroke-width="1"/><line x1="640" y1="710.5" x2="787" y2="710.5" stroke="#3a3a3a" stroke-width="1"/><line x1="647.5" y1="710.5" x2="647.5" y2="713.5" stroke="#3a3a3a" stroke-width="1"/><text transform="translate(647.00 720.80) translate(-8.25 0) scale(0.922 1)" font-size="7.0">-1000</text><line x1="674.5" y1="710.5" x2="674.5" y2="713.5" stroke="#3a3a3a" stroke-width="1"/><text transform="translate(674.50 720.80) translate(-1.65 0) scale(0.848 1)" font-size="7.0">0</text><line x1="700.5" y1="710.5" x2="700.5" y2="713.5" stroke="#3a3a3a" stroke-width="1"/><text transform="translate(700.00 720.80) translate(-6.60 0) scale(0.848 1)" font-size="7.0">1000</text><line x1="734.5" y1="710.5" x2="734.5" y2="713.5" stroke="#3a3a3a" stroke-width="1"/><text x="729.6" y="720.8" font-size="7.0"><tspan textLength="6.6" lengthAdjust="spacingAndGlyphs">10</tspan><tspan font-size="4.2" dy="-2.6">4</tspan></text><line x1="761.5" y1="710.5" x2="761.5" y2="713.5" stroke="#3a3a3a" stroke-width="1"/><text x="756.6" y="720.8" font-size="7.0"><tspan textLength="6.6" lengthAdjust="spacingAndGlyphs">10</tspan><tspan font-size="4.2" dy="-2.6">5</tspan></text><line x1="786.5" y1="710.5" x2="786.5" y2="713.5" stroke="#3a3a3a" stroke-width="1"/><text x="781.6" y="720.8" font-size="7.0"><tspan textLength="6.6" lengthAdjust="spacingAndGlyphs">10</tspan><tspan font-size="4.2" dy="-2.6">6</tspan></text><line x1="710.5" y1="710.5" x2="710.5" y2="712.1" stroke="#3a3a3a" stroke-width="0.8"/><line x1="716.5" y1="710.5" x2="716.5" y2="712.1" stroke="#3a3a3a" stroke-width="0.8"/><line x1="720.5" y1="710.5" x2="720.5" y2="712.1" stroke="#3a3a3a" stroke-width="0.8"/><line x1="723.5" y1="710.5" x2="723.5" y2="712.1" stroke="#3a3a3a" stroke-width="0.8"/><line x1="726.5" y1="710.5" x2="726.5" y2="712.1" stroke="#3a3a3a" stroke-width="0.8"/><line x1="728.5" y1="710.5" x2="728.5" y2="712.1" stroke="#3a3a3a" stroke-width="0.8"/><line x1="730.5" y1="710.5" x2="730.5" y2="712.1" stroke="#3a3a3a" stroke-width="0.8"/><line x1="732.5" y1="710.5" x2="732.5" y2="712.1" stroke="#3a3a3a" stroke-width="0.8"/><line x1="742.5" y1="710.5" x2="742.5" y2="712.1" stroke="#3a3a3a" stroke-width="0.8"/><line x1="746.5" y1="710.5" x2="746.5" y2="712.1" stroke="#3a3a3a" stroke-width="0.8"/><line x1="750.5" y1="710.5" x2="750.5" y2="712.1" stroke="#3a3a3a" stroke-width="0.8"/><line x1="752.5" y1="710.5" x2="752.5" y2="712.1" stroke="#3a3a3a" stroke-width="0.8"/><line x1="755.5" y1="710.5" x2="755.5" y2="712.1" stroke="#3a3a3a" stroke-width="0.8"/><line x1="756.5" y1="710.5" x2="756.5" y2="712.1" stroke="#3a3a3a" stroke-width="0.8"/><line x1="758.5" y1="710.5" x2="758.5" y2="712.1" stroke="#3a3a3a" stroke-width="0.8"/><line x1="759.5" y1="710.5" x2="759.5" y2="712.1" stroke="#3a3a3a" stroke-width="0.8"/><line x1="768.5" y1="710.5" x2="768.5" y2="712.1" stroke="#3a3a3a" stroke-width="0.8"/><line x1="772.5" y1="710.5" x2="772.5" y2="712.1" stroke="#3a3a3a" stroke-width="0.8"/><line x1="776.5" y1="710.5" x2="776.5" y2="712.1" stroke="#3a3a3a" stroke-width="0.8"/><line x1="778.5" y1="710.5" x2="778.5" y2="712.1" stroke="#3a3a3a" stroke-width="0.8"/><line x1="780.5" y1="710.5" x2="780.5" y2="712.1" stroke="#3a3a3a" stroke-width="0.8"/><line x1="782.5" y1="710.5" x2="782.5" y2="712.1" stroke="#3a3a3a" stroke-width="0.8"/><line x1="783.5" y1="710.5" x2="783.5" y2="712.1" stroke="#3a3a3a" stroke-width="0.8"/><line x1="784.5" y1="710.5" x2="784.5" y2="712.1" stroke="#3a3a3a" stroke-width="0.8"/><line x1="637.5" y1="571.5" x2="640.5" y2="571.5" stroke="#3a3a3a" stroke-width="1"/><text x="627.9" y="574.3" font-size="7.0"><tspan textLength="6.6" lengthAdjust="spacingAndGlyphs">10</tspan><tspan font-size="4.2" dy="-2.6">6</tspan></text><line x1="637.5" y1="596.5" x2="640.5" y2="596.5" stroke="#3a3a3a" stroke-width="1"/><text x="627.9" y="598.6" font-size="7.0"><tspan textLength="6.6" lengthAdjust="spacingAndGlyphs">10</tspan><tspan font-size="4.2" dy="-2.6">5</tspan></text><line x1="637.5" y1="621.5" x2="640.5" y2="621.5" stroke="#3a3a3a" stroke-width="1"/><text x="627.9" y="623.6" font-size="7.0"><tspan textLength="6.6" lengthAdjust="spacingAndGlyphs">10</tspan><tspan font-size="4.2" dy="-2.6">4</tspan></text><line x1="637.5" y1="652.5" x2="640.5" y2="652.5" stroke="#3a3a3a" stroke-width="1"/><text transform="translate(636.70 655.10) translate(-13.20 0) scale(0.848 1)" font-size="7.0">1000</text><line x1="637.5" y1="680.5" x2="640.5" y2="680.5" stroke="#3a3a3a" stroke-width="1"/><text transform="translate(636.70 683.10) translate(-3.30 0) scale(0.848 1)" font-size="7.0">0</text><line x1="637.5" y1="708.5" x2="640.5" y2="708.5" stroke="#3a3a3a" stroke-width="1"/><text transform="translate(636.70 710.60) translate(-16.50 0) scale(0.922 1)" font-size="7.0">-1000</text><line x1="638.9" y1="613.5" x2="640.5" y2="613.5" stroke="#3a3a3a" stroke-width="0.8"/><line x1="638.9" y1="609.5" x2="640.5" y2="609.5" stroke="#3a3a3a" stroke-width="0.8"/><line x1="638.9" y1="605.5" x2="640.5" y2="605.5" stroke="#3a3a3a" stroke-width="0.8"/><line x1="638.9" y1="603.5" x2="640.5" y2="603.5" stroke="#3a3a3a" stroke-width="0.8"/><line x1="638.9" y1="601.5" x2="640.5" y2="601.5" stroke="#3a3a3a" stroke-width="0.8"/><line x1="638.9" y1="599.5" x2="640.5" y2="599.5" stroke="#3a3a3a" stroke-width="0.8"/><line x1="638.9" y1="598.5" x2="640.5" y2="598.5" stroke="#3a3a3a" stroke-width="0.8"/><line x1="638.9" y1="597.5" x2="640.5" y2="597.5" stroke="#3a3a3a" stroke-width="0.8"/><line x1="638.9" y1="588.5" x2="640.5" y2="588.5" stroke="#3a3a3a" stroke-width="0.8"/><line x1="638.9" y1="584.5" x2="640.5" y2="584.5" stroke="#3a3a3a" stroke-width="0.8"/><line x1="638.9" y1="581.5" x2="640.5" y2="581.5" stroke="#3a3a3a" stroke-width="0.8"/><line x1="638.9" y1="579.5" x2="640.5" y2="579.5" stroke="#3a3a3a" stroke-width="0.8"/><line x1="638.9" y1="577.5" x2="640.5" y2="577.5" stroke="#3a3a3a" stroke-width="0.8"/><line x1="638.9" y1="575.5" x2="640.5" y2="575.5" stroke="#3a3a3a" stroke-width="0.8"/><line x1="638.9" y1="574.5" x2="640.5" y2="574.5" stroke="#3a3a3a" stroke-width="0.8"/><line x1="638.9" y1="572.5" x2="640.5" y2="572.5" stroke="#3a3a3a" stroke-width="0.8"/><line x1="727.5" y1="571.5" x2="727.5" y2="710.5" stroke="#5a5a5a" stroke-width="1.1"/><line x1="640.5" y1="625.5" x2="785.5" y2="625.5" stroke="#5a5a5a" stroke-width="1.1"/><text transform="translate(713.35 568.10) translate(-34.55 0) scale(1.043 1)" font-size="8.4">[A] FITC-A / PE-A</text><text transform="translate(616.30 637.00) rotate(-90) translate(-8.25 0) scale(0.736 1)" font-size="9.6">PE-A</text><text transform="translate(713.35 733.50) translate(-13.70 0) scale(0.905 1)" font-size="9.4">FITC-A</text><text transform="translate(616.13 724.6) scale(0.845 1)" font-size="19.8" fill="#000" stroke="#000" stroke-width=".75">P</text><rect x="640.7" y="573.6" width="54" height="11" fill="#fff" fill-opacity="0.6" stroke="#c8c8c8" stroke-width="0.8" rx="1.5"/><text transform="translate(642.20 582.00) translate(0.00 0) scale(0.944 1)" font-size="8.6">CD56+CD16+</text><rect x="727.1" y="573.6" width="16.2" height="11" fill="#fff" fill-opacity="0.6" stroke="#c8c8c8" stroke-width="0.8" rx="1.5"/><text transform="translate(728.60 582.00) translate(0.00 0) scale(0.836 1)" font-size="8.6">B++</text><rect x="640.7" y="627" width="15.4" height="11" fill="#fff" fill-opacity="0.6" stroke="#c8c8c8" stroke-width="0.8" rx="1.5"/><text transform="translate(642.20 635.40) translate(0.00 0) scale(1.082 1)" font-size="8.6">B--</text><rect x="727.1" y="627" width="16.2" height="11" fill="#fff" fill-opacity="0.6" stroke="#c8c8c8" stroke-width="0.8" rx="1.5"/><text transform="translate(728.60 635.40) translate(0.00 0) scale(0.969 1)" font-size="8.6">B+-</text></svg></body></html>
